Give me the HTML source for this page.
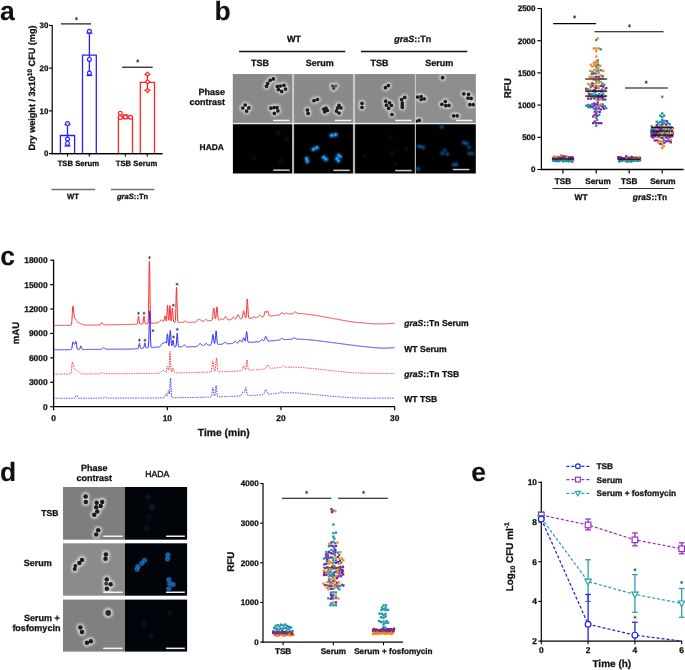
<!DOCTYPE html>
<html><head><meta charset="utf-8"><title>Figure</title>
<style>html,body{margin:0;padding:0;background:#fff;width:685px;height:670px;overflow:hidden}svg{display:block}text{font-family:"Liberation Sans",sans-serif;font-weight:bold;text-rendering:geometricPrecision;stroke:#111;stroke-width:0.28px}svg{will-change:transform}</style>
</head><body>
<svg width="685" height="670" viewBox="0 0 685 670">
<defs>
<filter id="halo" x="-50%" y="-50%" width="200%" height="200%"><feGaussianBlur stdDeviation="1.1"/></filter>
<filter id="soft" x="-50%" y="-50%" width="200%" height="200%"><feGaussianBlur stdDeviation="0.35"/></filter>
<filter id="soft2" x="-50%" y="-50%" width="200%" height="200%"><feGaussianBlur stdDeviation="0.62"/></filter>
<radialGradient id="ring"><stop offset="0" stop-color="#10609e" stop-opacity="0.75"/><stop offset="0.45" stop-color="#1b82d6" stop-opacity="0.85"/><stop offset="0.75" stop-color="#1670c0" stop-opacity="0.4"/><stop offset="1" stop-color="#0a3060" stop-opacity="0"/></radialGradient>
<filter id="glow" x="-50%" y="-50%" width="200%" height="200%"><feGaussianBlur stdDeviation="0.8"/></filter>
</defs>
<rect width="685" height="670" fill="#fff"/>
<text x="0.0" y="20.3" font-size="26.5" text-anchor="start" fill="#111" style="stroke-width:0.1px">a</text>
<text x="214.4" y="20.3" font-size="26.5" text-anchor="start" fill="#111" style="stroke-width:0.1px">b</text>
<text x="0.3" y="265.0" font-size="26.5" text-anchor="start" fill="#111" style="stroke-width:0.1px">c</text>
<text x="0.0" y="481.0" font-size="26.5" text-anchor="start" fill="#111" style="stroke-width:0.1px">d</text>
<text x="471.2" y="481.2" font-size="26.5" text-anchor="start" fill="#111" style="stroke-width:0.1px">e</text>
<line x1="52.20" y1="25.00" x2="52.20" y2="154.20" stroke="#000" stroke-width="1.2" />
<line x1="51.60" y1="153.60" x2="162.40" y2="153.60" stroke="#000" stroke-width="1.2" />
<line x1="49.00" y1="153.60" x2="52.20" y2="153.60" stroke="#000" stroke-width="1.1" />
<text x="48.4" y="156.4" font-size="7.9" text-anchor="end" fill="#111" >0</text>
<line x1="49.00" y1="110.87" x2="52.20" y2="110.87" stroke="#000" stroke-width="1.1" />
<text x="48.4" y="113.7" font-size="7.9" text-anchor="end" fill="#111" >10</text>
<line x1="49.00" y1="68.13" x2="52.20" y2="68.13" stroke="#000" stroke-width="1.1" />
<text x="48.4" y="70.9" font-size="7.9" text-anchor="end" fill="#111" >20</text>
<line x1="49.00" y1="25.40" x2="52.20" y2="25.40" stroke="#000" stroke-width="1.1" />
<text x="48.4" y="28.2" font-size="7.9" text-anchor="end" fill="#111" >30</text>
<line x1="67.50" y1="153.60" x2="67.50" y2="156.60" stroke="#000" stroke-width="1.1" />
<line x1="89.30" y1="153.60" x2="89.30" y2="156.60" stroke="#000" stroke-width="1.1" />
<line x1="125.40" y1="153.60" x2="125.40" y2="156.60" stroke="#000" stroke-width="1.1" />
<line x1="147.20" y1="153.60" x2="147.20" y2="156.60" stroke="#000" stroke-width="1.1" />
<path d="M60.40 153.6V135.50H74.60V153.6" fill="none" stroke="#2222ff" stroke-width="1.3"/>
<path d="M82.50 153.6V55.20H96.30V153.6" fill="none" stroke="#2222ff" stroke-width="1.3"/>
<path d="M118.40 153.6V116.90H132.50V153.6" fill="none" stroke="#ff2424" stroke-width="1.3"/>
<path d="M140.30 153.6V82.40H154.50V153.6" fill="none" stroke="#ff2424" stroke-width="1.3"/>
<line x1="67.50" y1="124.60" x2="67.50" y2="146.00" stroke="#2222ff" stroke-width="1.3" />
<line x1="64.50" y1="124.60" x2="70.50" y2="124.60" stroke="#2222ff" stroke-width="1.3" />
<line x1="64.50" y1="146.00" x2="70.50" y2="146.00" stroke="#2222ff" stroke-width="1.3" />
<line x1="89.40" y1="33.10" x2="89.40" y2="75.50" stroke="#2222ff" stroke-width="1.3" />
<line x1="86.40" y1="33.10" x2="92.40" y2="33.10" stroke="#2222ff" stroke-width="1.3" />
<line x1="86.40" y1="75.50" x2="92.40" y2="75.50" stroke="#2222ff" stroke-width="1.3" />
<line x1="125.40" y1="115.00" x2="125.40" y2="118.60" stroke="#ff2424" stroke-width="1.3" />
<line x1="122.20" y1="115.00" x2="128.60" y2="115.00" stroke="#ff2424" stroke-width="1.3" />
<line x1="122.20" y1="118.60" x2="128.60" y2="118.60" stroke="#ff2424" stroke-width="1.3" />
<line x1="147.40" y1="74.50" x2="147.40" y2="90.30" stroke="#ff2424" stroke-width="1.3" />
<line x1="144.40" y1="74.50" x2="150.40" y2="74.50" stroke="#ff2424" stroke-width="1.3" />
<line x1="144.40" y1="90.30" x2="150.40" y2="90.30" stroke="#ff2424" stroke-width="1.3" />
<circle cx="67.50" cy="123.60" r="1.9" fill="#fff" stroke="#2222ff" stroke-width="1.2"/>
<circle cx="67.50" cy="139.00" r="1.9" fill="#fff" stroke="#2222ff" stroke-width="1.2"/>
<circle cx="67.50" cy="143.40" r="1.9" fill="#fff" stroke="#2222ff" stroke-width="1.2"/>
<circle cx="89.40" cy="31.30" r="1.9" fill="#fff" stroke="#2222ff" stroke-width="1.2"/>
<circle cx="89.40" cy="59.40" r="1.9" fill="#fff" stroke="#2222ff" stroke-width="1.2"/>
<circle cx="89.40" cy="73.10" r="1.9" fill="#fff" stroke="#2222ff" stroke-width="1.2"/>
<circle cx="120.30" cy="113.30" r="1.9" fill="#fff" stroke="#ff2424" stroke-width="1.2"/>
<circle cx="120.30" cy="117.60" r="1.9" fill="#fff" stroke="#ff2424" stroke-width="1.2"/>
<circle cx="130.50" cy="117.20" r="1.9" fill="#fff" stroke="#ff2424" stroke-width="1.2"/>
<circle cx="125.40" cy="117.00" r="1.9" fill="#fff" stroke="#ff2424" stroke-width="1.2"/>
<path d="M147.50 72.10L149.60 74.20L147.50 76.30L145.40 74.20Z" fill="#fff" stroke="#ff2424" stroke-width="1.2"/>
<path d="M147.50 79.70L149.60 81.80L147.50 83.90L145.40 81.80Z" fill="#fff" stroke="#ff2424" stroke-width="1.2"/>
<path d="M147.50 88.50L149.60 90.60L147.50 92.70L145.40 90.60Z" fill="#fff" stroke="#ff2424" stroke-width="1.2"/>
<line x1="51.60" y1="153.60" x2="162.40" y2="153.60" stroke="#000" stroke-width="1.2" />
<line x1="60.90" y1="23.90" x2="91.00" y2="23.90" stroke="#000" stroke-width="1.1" />
<path d="M76.40 18.70L76.40 17.24M76.40 18.70L75.14 19.43M76.40 18.70L77.66 19.43M76.40 18.70L77.60 18.01M76.40 18.70L75.20 18.01M76.40 18.70L76.40 20.08" stroke="#222" stroke-width="0.62" stroke-linecap="round" fill="none"/>
<line x1="122.10" y1="67.20" x2="152.70" y2="67.20" stroke="#000" stroke-width="1.1" />
<path d="M137.80 60.90L137.80 59.44M137.80 60.90L136.54 61.63M137.80 60.90L139.06 61.63M137.80 60.90L139.00 60.21M137.80 60.90L136.60 60.21M137.80 60.90L137.80 62.28" stroke="#222" stroke-width="0.62" stroke-linecap="round" fill="none"/>
<text x="78.4" y="165.8" font-size="7.7" text-anchor="middle" fill="#111" >TSB Serum</text>
<text x="136.5" y="165.8" font-size="7.7" text-anchor="middle" fill="#111" >TSB Serum</text>
<line x1="51.60" y1="189.50" x2="95.20" y2="189.50" stroke="#707070" stroke-width="1.6" />
<line x1="110.90" y1="189.50" x2="154.40" y2="189.50" stroke="#707070" stroke-width="1.6" />
<text x="73.0" y="199.4" font-size="7.6" text-anchor="middle" fill="#111" >WT</text>
<text x="132.6" y="199.4" font-size="7.6" text-anchor="middle" fill="#111" ><tspan font-style="italic">graS</tspan>::Tn</text>
<text transform="translate(35.0,88.0) rotate(-90)" font-size="9.1" text-anchor="middle" fill="#111">Dry weight / 3x10<tspan font-size="6.6" dy="-3.4">10</tspan><tspan dy="3.4"> CFU (mg)</tspan></text>
<text x="294.0" y="42.3" font-size="9" text-anchor="middle" fill="#111" >WT</text>
<text x="412.8" y="42.3" font-size="9" text-anchor="middle" fill="#111" ><tspan font-style="italic">graS</tspan>::Tn</text>
<line x1="239.10" y1="51.40" x2="345.20" y2="51.40" stroke="#111" stroke-width="1.5" />
<line x1="361.00" y1="51.40" x2="467.30" y2="51.40" stroke="#111" stroke-width="1.5" />
<text x="260.0" y="66.0" font-size="9" text-anchor="middle" fill="#111" >TSB</text>
<text x="319.8" y="66.0" font-size="9" text-anchor="middle" fill="#111" >Serum</text>
<text x="379.5" y="66.0" font-size="9" text-anchor="middle" fill="#111" >TSB</text>
<text x="439.3" y="66.0" font-size="9" text-anchor="middle" fill="#111" >Serum</text>
<text x="225.0" y="95.1" font-size="9" text-anchor="end" fill="#111" >Phase</text>
<text x="225.0" y="105.3" font-size="9" text-anchor="end" fill="#111" >contrast</text>
<text x="211.7" y="150.0" font-size="8.4" text-anchor="middle" fill="#111" >HADA</text>
<rect x="232.60" y="74.10" width="243.40" height="49.00" fill="#c8c8c8" />
<rect x="232.60" y="123.30" width="243.40" height="50.20" fill="#b6b6b6" />
<rect x="232.60" y="122.60" width="243.40" height="1.80" fill="#ececec" />
<rect x="233.00" y="74.10" width="59.00" height="48.70" fill="#898989"/>
<clipPath id="c75"><rect x="233.00" y="74.10" width="59.00" height="48.70"/></clipPath>
<g clip-path="url(#c75)">
<g filter="url(#halo)">
<circle cx="266.5" cy="86.2" r="3.33" fill="#e4e4e4" opacity="0.75"/>
<circle cx="267.7" cy="83.4" r="3.33" fill="#e4e4e4" opacity="0.75"/>
<circle cx="270.2" cy="80.3" r="3.33" fill="#e4e4e4" opacity="0.75"/>
<circle cx="273.3" cy="78.9" r="3.33" fill="#e4e4e4" opacity="0.75"/>
<circle cx="277.4" cy="86.4" r="3.33" fill="#e4e4e4" opacity="0.75"/>
<circle cx="280.3" cy="86.0" r="3.33" fill="#e4e4e4" opacity="0.75"/>
<circle cx="283.9" cy="85.3" r="3.33" fill="#e4e4e4" opacity="0.75"/>
<circle cx="285.5" cy="89.1" r="3.33" fill="#e4e4e4" opacity="0.75"/>
<circle cx="281.7" cy="91.4" r="3.33" fill="#e4e4e4" opacity="0.75"/>
<circle cx="278.4" cy="89.6" r="3.33" fill="#e4e4e4" opacity="0.75"/>
<circle cx="245.2" cy="105.0" r="3.33" fill="#e4e4e4" opacity="0.75"/>
<circle cx="242.8" cy="108.0" r="3.33" fill="#e4e4e4" opacity="0.75"/>
<circle cx="248.8" cy="107.9" r="3.33" fill="#e4e4e4" opacity="0.75"/>
<circle cx="246.6" cy="111.1" r="3.33" fill="#e4e4e4" opacity="0.75"/>
<circle cx="271.0" cy="108.2" r="3.33" fill="#e4e4e4" opacity="0.75"/>
<circle cx="274.1" cy="107.6" r="3.33" fill="#e4e4e4" opacity="0.75"/>
<circle cx="277.0" cy="107.6" r="3.33" fill="#e4e4e4" opacity="0.75"/>
<circle cx="277.9" cy="110.9" r="3.33" fill="#e4e4e4" opacity="0.75"/>
<circle cx="274.4" cy="113.3" r="3.33" fill="#e4e4e4" opacity="0.75"/>
</g><g filter="url(#soft)">
<circle cx="266.5" cy="86.2" r="1.85" fill="#1c1c1c"/>
<circle cx="267.7" cy="83.4" r="1.85" fill="#1c1c1c"/>
<circle cx="270.2" cy="80.3" r="1.85" fill="#1c1c1c"/>
<circle cx="273.3" cy="78.9" r="1.85" fill="#1c1c1c"/>
<circle cx="277.4" cy="86.4" r="1.85" fill="#1c1c1c"/>
<circle cx="280.3" cy="86.0" r="1.85" fill="#1c1c1c"/>
<circle cx="283.9" cy="85.3" r="1.85" fill="#1c1c1c"/>
<circle cx="285.5" cy="89.1" r="1.85" fill="#1c1c1c"/>
<circle cx="281.7" cy="91.4" r="1.85" fill="#1c1c1c"/>
<circle cx="278.4" cy="89.6" r="1.85" fill="#1c1c1c"/>
<circle cx="245.2" cy="105.0" r="1.85" fill="#1c1c1c"/>
<circle cx="242.8" cy="108.0" r="1.85" fill="#1c1c1c"/>
<circle cx="248.8" cy="107.9" r="1.85" fill="#1c1c1c"/>
<circle cx="246.6" cy="111.1" r="1.85" fill="#1c1c1c"/>
<circle cx="271.0" cy="108.2" r="1.85" fill="#1c1c1c"/>
<circle cx="274.1" cy="107.6" r="1.85" fill="#1c1c1c"/>
<circle cx="277.0" cy="107.6" r="1.85" fill="#1c1c1c"/>
<circle cx="277.9" cy="110.9" r="1.85" fill="#1c1c1c"/>
<circle cx="274.4" cy="113.3" r="1.85" fill="#1c1c1c"/>
</g></g>
<rect x="273.2" y="119.7" width="16.4" height="1.5" fill="#f4f4f4"/>
<rect x="294.10" y="74.10" width="58.80" height="48.70" fill="#8a8a8a"/>
<clipPath id="c120"><rect x="294.10" y="74.10" width="58.80" height="48.70"/></clipPath>
<g clip-path="url(#c120)">
<g filter="url(#halo)">
<circle cx="332.6" cy="86.0" r="3.15" fill="#e4e4e4" opacity="0.75"/>
<circle cx="335.8" cy="86.0" r="3.15" fill="#e4e4e4" opacity="0.75"/>
<circle cx="333.7" cy="88.6" r="3.15" fill="#e4e4e4" opacity="0.75"/>
<circle cx="314.0" cy="100.7" r="3.33" fill="#e4e4e4" opacity="0.75"/>
<circle cx="317.4" cy="99.5" r="3.33" fill="#e4e4e4" opacity="0.75"/>
<circle cx="307.4" cy="110.1" r="3.33" fill="#e4e4e4" opacity="0.75"/>
<circle cx="308.1" cy="113.3" r="3.33" fill="#e4e4e4" opacity="0.75"/>
<circle cx="323.8" cy="109.2" r="3.33" fill="#e4e4e4" opacity="0.75"/>
<circle cx="326.0" cy="108.2" r="3.33" fill="#e4e4e4" opacity="0.75"/>
<circle cx="324.7" cy="111.8" r="3.33" fill="#e4e4e4" opacity="0.75"/>
<circle cx="327.3" cy="110.4" r="3.33" fill="#e4e4e4" opacity="0.75"/>
<circle cx="339.0" cy="105.4" r="3.33" fill="#e4e4e4" opacity="0.75"/>
<circle cx="337.4" cy="108.1" r="3.33" fill="#e4e4e4" opacity="0.75"/>
<circle cx="340.9" cy="107.9" r="3.33" fill="#e4e4e4" opacity="0.75"/>
<circle cx="336.4" cy="111.1" r="3.33" fill="#e4e4e4" opacity="0.75"/>
<circle cx="339.0" cy="113.0" r="3.33" fill="#e4e4e4" opacity="0.75"/>
</g><g filter="url(#soft)">
<circle cx="332.6" cy="86.0" r="1.75" fill="#4a4a4a"/>
<circle cx="335.8" cy="86.0" r="1.75" fill="#5a5a5a"/>
<circle cx="333.7" cy="88.6" r="1.75" fill="#4a4a4a"/>
<circle cx="314.0" cy="100.7" r="1.85" fill="#1c1c1c"/>
<circle cx="317.4" cy="99.5" r="1.85" fill="#1c1c1c"/>
<circle cx="307.4" cy="110.1" r="1.85" fill="#1c1c1c"/>
<circle cx="308.1" cy="113.3" r="1.85" fill="#1c1c1c"/>
<circle cx="323.8" cy="109.2" r="1.85" fill="#1c1c1c"/>
<circle cx="326.0" cy="108.2" r="1.85" fill="#1c1c1c"/>
<circle cx="324.7" cy="111.8" r="1.85" fill="#1c1c1c"/>
<circle cx="327.3" cy="110.4" r="1.85" fill="#1c1c1c"/>
<circle cx="339.0" cy="105.4" r="1.85" fill="#1c1c1c"/>
<circle cx="337.4" cy="108.1" r="1.85" fill="#1c1c1c"/>
<circle cx="340.9" cy="107.9" r="1.85" fill="#1c1c1c"/>
<circle cx="336.4" cy="111.1" r="1.85" fill="#1c1c1c"/>
<circle cx="339.0" cy="113.0" r="1.85" fill="#1c1c1c"/>
</g></g>
<rect x="334.9" y="119.7" width="16.4" height="1.5" fill="#f4f4f4"/>
<rect x="355.10" y="74.10" width="59.70" height="48.70" fill="#898989"/>
<clipPath id="c159"><rect x="355.10" y="74.10" width="59.70" height="48.70"/></clipPath>
<g clip-path="url(#c159)">
<g filter="url(#halo)">
<circle cx="385.4" cy="87.7" r="3.33" fill="#e4e4e4" opacity="0.75"/>
<circle cx="388.3" cy="85.6" r="3.33" fill="#e4e4e4" opacity="0.75"/>
<circle cx="362.0" cy="103.3" r="3.33" fill="#e4e4e4" opacity="0.75"/>
<circle cx="362.0" cy="107.3" r="3.33" fill="#e4e4e4" opacity="0.75"/>
<circle cx="385.7" cy="101.2" r="3.33" fill="#e4e4e4" opacity="0.75"/>
<circle cx="389.5" cy="102.8" r="3.33" fill="#e4e4e4" opacity="0.75"/>
<circle cx="386.4" cy="105.2" r="3.33" fill="#e4e4e4" opacity="0.75"/>
<circle cx="391.4" cy="105.4" r="3.33" fill="#e4e4e4" opacity="0.75"/>
<circle cx="388.6" cy="108.2" r="3.33" fill="#e4e4e4" opacity="0.75"/>
<circle cx="391.9" cy="114.5" r="3.33" fill="#e4e4e4" opacity="0.75"/>
<circle cx="404.7" cy="97.4" r="3.33" fill="#e4e4e4" opacity="0.75"/>
<circle cx="401.6" cy="99.5" r="3.33" fill="#e4e4e4" opacity="0.75"/>
<circle cx="402.3" cy="102.8" r="3.33" fill="#e4e4e4" opacity="0.75"/>
<circle cx="402.3" cy="105.2" r="3.33" fill="#e4e4e4" opacity="0.75"/>
<circle cx="402.3" cy="107.3" r="3.33" fill="#e4e4e4" opacity="0.75"/>
</g><g filter="url(#soft)">
<circle cx="385.4" cy="87.7" r="1.85" fill="#1c1c1c"/>
<circle cx="388.3" cy="85.6" r="1.85" fill="#1c1c1c"/>
<circle cx="362.0" cy="103.3" r="1.85" fill="#1c1c1c"/>
<circle cx="362.0" cy="107.3" r="1.85" fill="#1c1c1c"/>
<circle cx="385.7" cy="101.2" r="1.85" fill="#1c1c1c"/>
<circle cx="389.5" cy="102.8" r="1.85" fill="#1c1c1c"/>
<circle cx="386.4" cy="105.2" r="1.85" fill="#1c1c1c"/>
<circle cx="391.4" cy="105.4" r="1.85" fill="#1c1c1c"/>
<circle cx="388.6" cy="108.2" r="1.85" fill="#1c1c1c"/>
<circle cx="391.9" cy="114.5" r="1.85" fill="#1c1c1c"/>
<circle cx="404.7" cy="97.4" r="1.85" fill="#1c1c1c"/>
<circle cx="401.6" cy="99.5" r="1.85" fill="#1c1c1c"/>
<circle cx="402.3" cy="102.8" r="1.85" fill="#1c1c1c"/>
<circle cx="402.3" cy="105.2" r="1.85" fill="#1c1c1c"/>
<circle cx="402.3" cy="107.3" r="1.85" fill="#1c1c1c"/>
</g></g>
<rect x="395.2" y="119.7" width="16.6" height="1.5" fill="#f4f4f4"/>
<rect x="416.00" y="74.10" width="59.70" height="48.70" fill="#8d8d8d"/>
<clipPath id="c196"><rect x="416.00" y="74.10" width="59.70" height="48.70"/></clipPath>
<g clip-path="url(#c196)">
<g filter="url(#halo)">
<circle cx="442.6" cy="77.7" r="3.33" fill="#e4e4e4" opacity="0.75"/>
<circle cx="417.6" cy="97.1" r="3.33" fill="#e4e4e4" opacity="0.75"/>
<circle cx="421.1" cy="96.5" r="3.33" fill="#e4e4e4" opacity="0.75"/>
<circle cx="421.1" cy="99.5" r="3.33" fill="#e4e4e4" opacity="0.75"/>
<circle cx="424.2" cy="98.8" r="3.33" fill="#e4e4e4" opacity="0.75"/>
<circle cx="445.3" cy="101.6" r="3.33" fill="#e4e4e4" opacity="0.75"/>
<circle cx="441.9" cy="104.3" r="3.33" fill="#e4e4e4" opacity="0.75"/>
<circle cx="445.7" cy="105.7" r="3.33" fill="#e4e4e4" opacity="0.75"/>
<circle cx="448.9" cy="105.4" r="3.33" fill="#e4e4e4" opacity="0.75"/>
<circle cx="463.8" cy="93.8" r="3.33" fill="#e4e4e4" opacity="0.75"/>
<circle cx="468.5" cy="94.3" r="3.33" fill="#e4e4e4" opacity="0.75"/>
<circle cx="468.0" cy="98.1" r="3.33" fill="#e4e4e4" opacity="0.75"/>
<circle cx="471.1" cy="98.4" r="3.33" fill="#e4e4e4" opacity="0.75"/>
<circle cx="469.9" cy="104.7" r="3.33" fill="#e4e4e4" opacity="0.75"/>
<circle cx="473.2" cy="104.7" r="3.33" fill="#e4e4e4" opacity="0.75"/>
<circle cx="453.6" cy="115.8" r="3.33" fill="#e4e4e4" opacity="0.75"/>
<circle cx="457.1" cy="115.8" r="3.33" fill="#e4e4e4" opacity="0.75"/>
<circle cx="419.2" cy="120.4" r="3.33" fill="#e4e4e4" opacity="0.75"/>
<circle cx="416.6" cy="121.3" r="3.33" fill="#e4e4e4" opacity="0.75"/>
</g><g filter="url(#soft)">
<circle cx="442.6" cy="77.7" r="1.85" fill="#1c1c1c"/>
<circle cx="417.6" cy="97.1" r="1.85" fill="#1c1c1c"/>
<circle cx="421.1" cy="96.5" r="1.85" fill="#1c1c1c"/>
<circle cx="421.1" cy="99.5" r="1.85" fill="#1c1c1c"/>
<circle cx="424.2" cy="98.8" r="1.85" fill="#1c1c1c"/>
<circle cx="445.3" cy="101.6" r="1.85" fill="#1c1c1c"/>
<circle cx="441.9" cy="104.3" r="1.85" fill="#1c1c1c"/>
<circle cx="445.7" cy="105.7" r="1.85" fill="#1c1c1c"/>
<circle cx="448.9" cy="105.4" r="1.85" fill="#1c1c1c"/>
<circle cx="463.8" cy="93.8" r="1.85" fill="#1c1c1c"/>
<circle cx="468.5" cy="94.3" r="1.85" fill="#1c1c1c"/>
<circle cx="468.0" cy="98.1" r="1.85" fill="#1c1c1c"/>
<circle cx="471.1" cy="98.4" r="1.85" fill="#1c1c1c"/>
<circle cx="469.9" cy="104.7" r="1.85" fill="#1c1c1c"/>
<circle cx="473.2" cy="104.7" r="1.85" fill="#1c1c1c"/>
<circle cx="453.6" cy="115.8" r="1.85" fill="#1c1c1c"/>
<circle cx="457.1" cy="115.8" r="1.85" fill="#1c1c1c"/>
<circle cx="419.2" cy="120.4" r="1.85" fill="#1c1c1c"/>
<circle cx="416.6" cy="121.3" r="1.85" fill="#1c1c1c"/>
</g></g>
<rect x="456.2" y="119.7" width="16.4" height="1.5" fill="#f4f4f4"/>
<rect x="233.00" y="124.30" width="59.00" height="49.10" fill="#000"/>
<g filter="url(#glow)" opacity="1.0">
<circle cx="278.0" cy="133.0" r="3.00" fill="#040b12"/>
<circle cx="287.0" cy="139.0" r="3.00" fill="#040b12"/>
<circle cx="254.0" cy="158.0" r="3.00" fill="#040b12"/>
<circle cx="281.0" cy="161.0" r="3.00" fill="#040b12"/>
</g>
<rect x="273.2" y="169.4" width="16.4" height="1.5" fill="#d0d0d0"/>
<rect x="294.10" y="124.30" width="58.80" height="49.10" fill="#000"/>
<g filter="url(#glow)" opacity="1.0">
<circle cx="331.6" cy="135.4" r="2.10" fill="#2298ff"/>
<circle cx="335.6" cy="134.7" r="2.10" fill="#2298ff"/>
<circle cx="313.4" cy="149.3" r="2.10" fill="#2298ff"/>
<circle cx="317.0" cy="147.6" r="2.10" fill="#2298ff"/>
<circle cx="306.6" cy="158.6" r="2.00" fill="#2298ff"/>
<circle cx="307.3" cy="161.6" r="2.00" fill="#2298ff"/>
<circle cx="323.7" cy="157.4" r="2.10" fill="#2298ff"/>
<circle cx="326.1" cy="159.3" r="2.10" fill="#2298ff"/>
<circle cx="338.6" cy="155.1" r="1.90" fill="#2298ff"/>
<circle cx="336.7" cy="158.6" r="1.90" fill="#2298ff"/>
<circle cx="338.5" cy="160.8" r="1.90" fill="#2298ff"/>
<circle cx="340.6" cy="156.6" r="1.70" fill="#2298ff"/>
</g>
<circle cx="331.6" cy="135.4" r="1.16" fill="#40b0ff" opacity="0.8"/>
<circle cx="335.6" cy="134.7" r="1.16" fill="#40b0ff" opacity="0.8"/>
<circle cx="313.4" cy="149.3" r="1.16" fill="#40b0ff" opacity="0.8"/>
<circle cx="317.0" cy="147.6" r="1.16" fill="#40b0ff" opacity="0.8"/>
<circle cx="306.6" cy="158.6" r="1.10" fill="#40b0ff" opacity="0.8"/>
<circle cx="307.3" cy="161.6" r="1.10" fill="#40b0ff" opacity="0.8"/>
<circle cx="323.7" cy="157.4" r="1.16" fill="#40b0ff" opacity="0.8"/>
<circle cx="326.1" cy="159.3" r="1.16" fill="#40b0ff" opacity="0.8"/>
<circle cx="338.6" cy="155.1" r="1.04" fill="#40b0ff" opacity="0.8"/>
<circle cx="336.7" cy="158.6" r="1.04" fill="#40b0ff" opacity="0.8"/>
<circle cx="338.5" cy="160.8" r="1.04" fill="#40b0ff" opacity="0.8"/>
<circle cx="340.6" cy="156.6" r="0.94" fill="#40b0ff" opacity="0.8"/>
<rect x="333.4" y="169.6" width="16.4" height="1.5" fill="#d0d0d0"/>
<rect x="355.10" y="124.30" width="59.70" height="49.10" fill="#000"/>
<g filter="url(#glow)" opacity="1.0">
<circle cx="391.0" cy="137.0" r="2.50" fill="#040b12"/>
<circle cx="392.0" cy="153.0" r="2.80" fill="#040b12"/>
<circle cx="406.0" cy="149.0" r="2.80" fill="#040b12"/>
<circle cx="365.0" cy="156.0" r="2.20" fill="#040b12"/>
<circle cx="395.0" cy="164.0" r="2.00" fill="#040b12"/>
</g>
<rect x="395.2" y="169.8" width="16.6" height="1.5" fill="#d0d0d0"/>
<rect x="416.00" y="124.30" width="59.70" height="49.10" fill="#000"/>
<g filter="url(#glow)" opacity="1.0">
<circle cx="441.9" cy="126.8" r="1.90" fill="#1262a8"/>
<circle cx="418.6" cy="146.2" r="1.80" fill="#1262a8"/>
<circle cx="421.0" cy="146.6" r="1.60" fill="#1262a8"/>
<circle cx="423.4" cy="147.6" r="1.80" fill="#1262a8"/>
<circle cx="444.8" cy="150.0" r="1.60" fill="#1262a8"/>
<circle cx="442.2" cy="153.4" r="1.80" fill="#1262a8"/>
<circle cx="447.4" cy="154.0" r="1.80" fill="#1262a8"/>
<circle cx="463.6" cy="142.6" r="1.80" fill="#1262a8"/>
<circle cx="466.6" cy="143.4" r="1.80" fill="#1262a8"/>
<circle cx="469.0" cy="147.2" r="1.70" fill="#1262a8"/>
<circle cx="469.2" cy="153.4" r="1.70" fill="#1262a8"/>
<circle cx="472.4" cy="153.4" r="1.70" fill="#1262a8"/>
<circle cx="453.4" cy="164.8" r="1.80" fill="#1262a8"/>
<circle cx="456.4" cy="164.4" r="1.80" fill="#1262a8"/>
<circle cx="418.2" cy="168.9" r="2.00" fill="#1262a8"/>
</g>
<rect x="452.8" y="168.8" width="16.7" height="1.5" fill="#d0d0d0"/>
<text x="94.3" y="471.4" font-size="9" text-anchor="middle" fill="#111" >Phase</text>
<text x="94.3" y="481.3" font-size="9" text-anchor="middle" fill="#111" >contrast</text>
<text x="157.2" y="476.5" font-size="8.7" text-anchor="middle" fill="#111" font-weight="normal" style="font-weight:normal;stroke-width:0.4px">HADA</text>
<text x="58.5" y="516.0" font-size="8.6" text-anchor="end" fill="#111" >TSB</text>
<text x="51.7" y="566.2" font-size="9" text-anchor="end" fill="#111" >Serum</text>
<text x="59.9" y="620.7" font-size="9" text-anchor="end" fill="#111" >Serum +</text>
<text x="60.4" y="630.7" font-size="9" text-anchor="end" fill="#111" >fosfomycin</text>
<rect x="63.00" y="487.00" width="62.10" height="52.70" fill="#7e7e7e"/>
<clipPath id="c312"><rect x="63.00" y="487.00" width="62.10" height="52.70"/></clipPath>
<g clip-path="url(#c312)">
<g filter="url(#halo)">
<circle cx="85.6" cy="496.4" r="4.05" fill="#e4e4e4" opacity="0.75"/>
<circle cx="85.8" cy="501.9" r="4.05" fill="#e4e4e4" opacity="0.75"/>
<circle cx="96.7" cy="502.7" r="4.05" fill="#e4e4e4" opacity="0.75"/>
<circle cx="102.2" cy="501.9" r="4.05" fill="#e4e4e4" opacity="0.75"/>
<circle cx="100.7" cy="506.0" r="4.05" fill="#e4e4e4" opacity="0.75"/>
<circle cx="96.2" cy="507.3" r="4.05" fill="#e4e4e4" opacity="0.75"/>
<circle cx="97.2" cy="511.6" r="4.05" fill="#e4e4e4" opacity="0.75"/>
<circle cx="94.3" cy="514.8" r="4.05" fill="#e4e4e4" opacity="0.75"/>
<circle cx="98.2" cy="530.2" r="4.05" fill="#e4e4e4" opacity="0.75"/>
<circle cx="96.2" cy="534.6" r="4.05" fill="#e4e4e4" opacity="0.75"/>
</g><g filter="url(#soft)">
<circle cx="85.6" cy="496.4" r="2.25" fill="#1c1c1c"/>
<circle cx="85.8" cy="501.9" r="2.25" fill="#1c1c1c"/>
<circle cx="96.7" cy="502.7" r="2.25" fill="#1c1c1c"/>
<circle cx="102.2" cy="501.9" r="2.25" fill="#1c1c1c"/>
<circle cx="100.7" cy="506.0" r="2.25" fill="#1c1c1c"/>
<circle cx="96.2" cy="507.3" r="2.25" fill="#1c1c1c"/>
<circle cx="97.2" cy="511.6" r="2.25" fill="#1c1c1c"/>
<circle cx="94.3" cy="514.8" r="2.25" fill="#1c1c1c"/>
<circle cx="98.2" cy="530.2" r="2.25" fill="#1c1c1c"/>
<circle cx="96.2" cy="534.6" r="2.25" fill="#1c1c1c"/>
</g></g>
<rect x="103.2" y="535.5" width="19.4" height="1.5" fill="#f4f4f4"/>
<rect x="63.00" y="543.30" width="62.10" height="52.40" fill="#8b8b8b"/>
<clipPath id="c339"><rect x="63.00" y="543.30" width="62.10" height="52.40"/></clipPath>
<g clip-path="url(#c339)">
<g filter="url(#halo)">
<circle cx="82.0" cy="559.9" r="4.05" fill="#e4e4e4" opacity="0.75"/>
<circle cx="79.4" cy="563.0" r="4.05" fill="#e4e4e4" opacity="0.75"/>
<circle cx="75.4" cy="566.0" r="3.60" fill="#e4e4e4" opacity="0.75"/>
<circle cx="74.7" cy="569.0" r="3.60" fill="#e4e4e4" opacity="0.75"/>
<circle cx="105.9" cy="554.4" r="4.05" fill="#e4e4e4" opacity="0.75"/>
<circle cx="105.5" cy="558.7" r="4.05" fill="#e4e4e4" opacity="0.75"/>
<circle cx="106.7" cy="579.5" r="4.05" fill="#e4e4e4" opacity="0.75"/>
<circle cx="106.2" cy="583.7" r="3.60" fill="#e4e4e4" opacity="0.75"/>
<circle cx="110.6" cy="584.2" r="4.05" fill="#e4e4e4" opacity="0.75"/>
<circle cx="106.9" cy="588.7" r="4.05" fill="#e4e4e4" opacity="0.75"/>
</g><g filter="url(#soft)">
<circle cx="82.0" cy="559.9" r="2.25" fill="#1c1c1c"/>
<circle cx="79.4" cy="563.0" r="2.25" fill="#1c1c1c"/>
<circle cx="75.4" cy="566.0" r="2.00" fill="#1c1c1c"/>
<circle cx="74.7" cy="569.0" r="2.00" fill="#1c1c1c"/>
<circle cx="105.9" cy="554.4" r="2.25" fill="#1c1c1c"/>
<circle cx="105.5" cy="558.7" r="2.25" fill="#1c1c1c"/>
<circle cx="106.7" cy="579.5" r="2.25" fill="#1c1c1c"/>
<circle cx="106.2" cy="583.7" r="2.00" fill="#3a3a3a"/>
<circle cx="110.6" cy="584.2" r="2.25" fill="#1c1c1c"/>
<circle cx="106.9" cy="588.7" r="2.25" fill="#1c1c1c"/>
</g></g>
<rect x="103.2" y="591.5" width="19.4" height="1.5" fill="#f4f4f4"/>
<rect x="63.00" y="599.60" width="62.10" height="52.00" fill="#808080"/>
<clipPath id="c366"><rect x="63.00" y="599.60" width="62.10" height="52.00"/></clipPath>
<g clip-path="url(#c366)">
<g filter="url(#halo)">
<circle cx="108.2" cy="612.9" r="5.04" fill="#e4e4e4" opacity="0.75"/>
<circle cx="80.4" cy="627.6" r="4.05" fill="#e4e4e4" opacity="0.75"/>
<circle cx="82.0" cy="632.0" r="4.05" fill="#e4e4e4" opacity="0.75"/>
<circle cx="90.8" cy="641.2" r="4.05" fill="#e4e4e4" opacity="0.75"/>
<circle cx="87.0" cy="642.7" r="4.05" fill="#e4e4e4" opacity="0.75"/>
</g><g filter="url(#soft)">
<circle cx="108.2" cy="612.9" r="2.80" fill="#2a2a2a"/>
<circle cx="80.4" cy="627.6" r="2.25" fill="#1c1c1c"/>
<circle cx="82.0" cy="632.0" r="2.25" fill="#1c1c1c"/>
<circle cx="90.8" cy="641.2" r="2.25" fill="#1c1c1c"/>
<circle cx="87.0" cy="642.7" r="2.25" fill="#1c1c1c"/>
</g></g>
<rect x="103.2" y="647.6" width="19.4" height="1.5" fill="#f4f4f4"/>
<rect x="125.00" y="487.00" width="62.10" height="52.70" fill="#01050a"/>
<g filter="url(#glow)" opacity="1.0">
<circle cx="148.0" cy="497.0" r="2.50" fill="#071c30"/>
<circle cx="152.0" cy="507.0" r="3.00" fill="#071a2c"/>
<circle cx="149.0" cy="517.0" r="2.50" fill="#061626"/>
<circle cx="147.0" cy="528.0" r="2.50" fill="#061626"/>
</g>
<rect x="166.0" y="535.5" width="18.8" height="1.5" fill="#f0f0f0"/>
<rect x="125.00" y="543.30" width="62.10" height="52.40" fill="#01050a"/>
<rect x="166.0" y="591.5" width="18.8" height="1.5" fill="#f0f0f0"/>
<circle cx="144.6" cy="560.4" r="3.5" fill="url(#ring)"/>
<circle cx="141.9" cy="563.3" r="3.5" fill="url(#ring)"/>
<circle cx="137.9" cy="566.6" r="3.5" fill="url(#ring)"/>
<circle cx="137.1" cy="569.3" r="3.5" fill="url(#ring)"/>
<circle cx="167.9" cy="554.9" r="3.5" fill="url(#ring)"/>
<circle cx="167.5" cy="558.9" r="3.5" fill="url(#ring)"/>
<circle cx="168.9" cy="579.7" r="3.5" fill="url(#ring)"/>
<circle cx="169.7" cy="583.7" r="3.5" fill="url(#ring)"/>
<circle cx="173.1" cy="584.5" r="3.5" fill="url(#ring)"/>
<circle cx="168.9" cy="588.7" r="3.5" fill="url(#ring)"/>
<rect x="125.00" y="599.60" width="62.10" height="52.00" fill="#01050a"/>
<g filter="url(#glow)" opacity="1.0">
<circle cx="144.0" cy="624.0" r="2.80" fill="#051526"/>
<circle cx="151.0" cy="636.0" r="2.80" fill="#051526"/>
<circle cx="170.0" cy="613.0" r="2.50" fill="#051526"/>
</g>
<rect x="166.0" y="647.6" width="18.8" height="1.5" fill="#f0f0f0"/>
<line x1="541.40" y1="8.00" x2="541.40" y2="170.10" stroke="#000" stroke-width="1.2" />
<line x1="540.80" y1="169.50" x2="683.70" y2="169.50" stroke="#000" stroke-width="1.3" />
<line x1="537.30" y1="169.50" x2="541.40" y2="169.50" stroke="#000" stroke-width="1.1" />
<text x="535.5" y="172.3" font-size="8" text-anchor="end" fill="#111" >0</text>
<line x1="537.30" y1="137.30" x2="541.40" y2="137.30" stroke="#000" stroke-width="1.1" />
<text x="535.5" y="140.1" font-size="8" text-anchor="end" fill="#111" >500</text>
<line x1="537.30" y1="105.10" x2="541.40" y2="105.10" stroke="#000" stroke-width="1.1" />
<text x="535.5" y="107.9" font-size="8" text-anchor="end" fill="#111" >1000</text>
<line x1="537.30" y1="72.90" x2="541.40" y2="72.90" stroke="#000" stroke-width="1.1" />
<text x="535.5" y="75.7" font-size="8" text-anchor="end" fill="#111" >1500</text>
<line x1="537.30" y1="40.70" x2="541.40" y2="40.70" stroke="#000" stroke-width="1.1" />
<text x="535.5" y="43.5" font-size="8" text-anchor="end" fill="#111" >2000</text>
<line x1="537.30" y1="8.50" x2="541.40" y2="8.50" stroke="#000" stroke-width="1.1" />
<text x="535.5" y="11.3" font-size="8" text-anchor="end" fill="#111" >2500</text>
<line x1="562.90" y1="169.50" x2="562.90" y2="173.60" stroke="#000" stroke-width="1.2" />
<line x1="596.20" y1="169.50" x2="596.20" y2="173.60" stroke="#000" stroke-width="1.2" />
<line x1="629.20" y1="169.50" x2="629.20" y2="173.60" stroke="#000" stroke-width="1.2" />
<line x1="662.20" y1="169.50" x2="662.20" y2="173.60" stroke="#000" stroke-width="1.2" />
<text x="562.9" y="183.7" font-size="8.2" text-anchor="middle" fill="#111" >TSB</text>
<text x="598.0" y="183.7" font-size="8.2" text-anchor="middle" fill="#111" >Serum</text>
<text x="629.2" y="183.7" font-size="8.2" text-anchor="middle" fill="#111" >TSB</text>
<text x="662.9" y="183.7" font-size="8.2" text-anchor="middle" fill="#111" >Serum</text>
<line x1="552.50" y1="188.50" x2="608.40" y2="188.50" stroke="#333" stroke-width="1.2" />
<line x1="618.60" y1="188.50" x2="674.10" y2="188.50" stroke="#333" stroke-width="1.2" />
<text x="581.0" y="199.6" font-size="8.4" text-anchor="middle" fill="#111" >WT</text>
<text x="650.0" y="199.6" font-size="8.4" text-anchor="middle" fill="#111" ><tspan font-style="italic">graS</tspan>::Tn</text>
<text transform="translate(510.9,88.3) rotate(-90)" font-size="9.8" text-anchor="middle" fill="#111">RFU</text>
<line x1="553.20" y1="23.60" x2="596.10" y2="23.60" stroke="#000" stroke-width="1.1" />
<path d="M574.60 16.90L574.60 15.44M574.60 16.90L573.34 17.63M574.60 16.90L575.86 17.63M574.60 16.90L575.80 16.21M574.60 16.90L573.40 16.21M574.60 16.90L574.60 18.28" stroke="#222" stroke-width="0.62" stroke-linecap="round" fill="none"/>
<line x1="594.50" y1="31.80" x2="663.50" y2="31.80" stroke="#000" stroke-width="1.1" />
<path d="M629.50 25.80L629.50 24.34M629.50 25.80L628.24 26.53M629.50 25.80L630.76 26.53M629.50 25.80L630.70 25.11M629.50 25.80L628.30 25.11M629.50 25.80L629.50 27.18" stroke="#222" stroke-width="0.62" stroke-linecap="round" fill="none"/>
<line x1="625.00" y1="88.00" x2="667.70" y2="88.00" stroke="#000" stroke-width="1.1" />
<path d="M646.20 82.20L646.20 80.74M646.20 82.20L644.94 82.93M646.20 82.20L647.46 82.93M646.20 82.20L647.40 81.51M646.20 82.20L645.00 81.51M646.20 82.20L646.20 83.58" stroke="#222" stroke-width="0.62" stroke-linecap="round" fill="none"/>
<rect x="561.8" y="157.9" width="2.3" height="2.3" fill="#7a1ea3"/>
<rect x="563.8" y="157.0" width="2.3" height="2.3" fill="#f7861f"/>
<rect x="559.8" y="157.0" width="2.3" height="2.3" fill="#7a1ea3"/>
<rect x="566.2" y="156.9" width="2.3" height="2.3" fill="#f7861f"/>
<rect x="557.2" y="157.5" width="2.3" height="2.3" fill="#7a1ea3"/>
<rect x="568.8" y="156.9" width="2.3" height="2.3" fill="#7a1ea3"/>
<rect x="555.2" y="156.5" width="2.3" height="2.3" fill="#7a1ea3"/>
<rect x="553.2" y="157.7" width="2.3" height="2.3" fill="#7a1ea3"/>
<rect x="570.8" y="158.3" width="2.3" height="2.3" fill="#1a92a6"/>
<rect x="570.8" y="156.2" width="2.3" height="2.3" fill="#7a1ea3"/>
<rect x="566.9" y="157.9" width="2.3" height="2.3" fill="#1a92a6"/>
<rect x="561.8" y="155.2" width="2.3" height="2.3" fill="#7a1ea3"/>
<rect x="552.1" y="157.1" width="2.3" height="2.3" fill="#f7861f"/>
<rect x="552.7" y="158.5" width="2.3" height="2.3" fill="#1a92a6"/>
<rect x="564.8" y="159.0" width="2.3" height="2.3" fill="#1a92a6"/>
<rect x="559.7" y="158.0" width="2.3" height="2.3" fill="#1a92a6"/>
<rect x="564.8" y="155.0" width="2.3" height="2.3" fill="#f7861f"/>
<rect x="556.4" y="157.5" width="2.3" height="2.3" fill="#7a1ea3"/>
<rect x="569.0" y="156.6" width="2.3" height="2.3" fill="#f7861f"/>
<rect x="566.8" y="158.5" width="2.3" height="2.3" fill="#1a92a6"/>
<rect x="562.7" y="157.8" width="2.3" height="2.3" fill="#7a1ea3"/>
<rect x="565.1" y="157.6" width="2.3" height="2.3" fill="#7a1ea3"/>
<rect x="565.8" y="157.4" width="2.3" height="2.3" fill="#7a1ea3"/>
<rect x="561.8" y="160.2" width="2.3" height="2.3" fill="#1a92a6"/>
<rect x="567.7" y="156.5" width="2.3" height="2.3" fill="#f7861f"/>
<rect x="555.2" y="159.3" width="2.3" height="2.3" fill="#7a1ea3"/>
<rect x="570.7" y="158.6" width="2.3" height="2.3" fill="#1a92a6"/>
<rect x="554.4" y="157.9" width="2.3" height="2.3" fill="#f7861f"/>
<rect x="564.4" y="156.4" width="2.3" height="2.3" fill="#f7861f"/>
<rect x="554.3" y="158.0" width="2.3" height="2.3" fill="#1a92a6"/>
<rect x="560.6" y="156.3" width="2.3" height="2.3" fill="#f7861f"/>
<rect x="567.8" y="156.3" width="2.3" height="2.3" fill="#7a1ea3"/>
<rect x="570.0" y="156.8" width="2.3" height="2.3" fill="#7a1ea3"/>
<rect x="567.2" y="157.7" width="2.3" height="2.3" fill="#f7861f"/>
<rect x="552.0" y="157.9" width="2.3" height="2.3" fill="#1a92a6"/>
<rect x="558.8" y="157.9" width="2.3" height="2.3" fill="#1a92a6"/>
<rect x="554.7" y="157.0" width="2.3" height="2.3" fill="#7a1ea3"/>
<rect x="572.2" y="158.8" width="2.3" height="2.3" fill="#f7861f"/>
<rect x="554.3" y="158.5" width="2.3" height="2.3" fill="#1a92a6"/>
<rect x="556.4" y="158.6" width="2.3" height="2.3" fill="#7a1ea3"/>
<rect x="558.2" y="159.9" width="2.3" height="2.3" fill="#f7861f"/>
<rect x="568.8" y="159.4" width="2.3" height="2.3" fill="#1a92a6"/>
<rect x="558.8" y="158.8" width="2.3" height="2.3" fill="#1a92a6"/>
<rect x="552.5" y="158.8" width="2.3" height="2.3" fill="#f7861f"/>
<rect x="569.5" y="159.1" width="2.3" height="2.3" fill="#1a92a6"/>
<rect x="564.6" y="157.3" width="2.3" height="2.3" fill="#7a1ea3"/>
<rect x="554.6" y="159.8" width="2.3" height="2.3" fill="#1a92a6"/>
<rect x="561.7" y="158.1" width="2.3" height="2.3" fill="#7a1ea3"/>
<rect x="552.9" y="158.3" width="2.3" height="2.3" fill="#7a1ea3"/>
<rect x="564.1" y="156.6" width="2.3" height="2.3" fill="#7a1ea3"/>
<rect x="556.1" y="160.0" width="2.3" height="2.3" fill="#1a92a6"/>
<rect x="552.1" y="158.9" width="2.3" height="2.3" fill="#1a92a6"/>
<rect x="553.7" y="157.2" width="2.3" height="2.3" fill="#7a1ea3"/>
<rect x="562.9" y="156.5" width="2.3" height="2.3" fill="#7a1ea3"/>
<rect x="564.6" y="157.6" width="2.3" height="2.3" fill="#1a92a6"/>
<rect x="558.1" y="159.6" width="2.3" height="2.3" fill="#1a92a6"/>
<rect x="564.8" y="160.0" width="2.3" height="2.3" fill="#1a92a6"/>
<rect x="558.6" y="156.3" width="2.3" height="2.3" fill="#7a1ea3"/>
<rect x="554.0" y="156.5" width="2.3" height="2.3" fill="#7a1ea3"/>
<rect x="557.9" y="156.9" width="2.3" height="2.3" fill="#7a1ea3"/>
<rect x="559.6" y="158.1" width="2.3" height="2.3" fill="#f7861f"/>
<rect x="570.4" y="156.6" width="2.3" height="2.3" fill="#7a1ea3"/>
<rect x="553.7" y="156.1" width="2.3" height="2.3" fill="#f7861f"/>
<rect x="553.1" y="157.2" width="2.3" height="2.3" fill="#f7861f"/>
<rect x="563.0" y="158.7" width="2.3" height="2.3" fill="#1a92a6"/>
<rect x="571.5" y="156.9" width="2.3" height="2.3" fill="#7a1ea3"/>
<rect x="570.3" y="156.7" width="2.3" height="2.3" fill="#7a1ea3"/>
<rect x="566.0" y="157.2" width="2.3" height="2.3" fill="#7a1ea3"/>
<rect x="552.7" y="155.3" width="2.3" height="2.3" fill="#f7861f"/>
<rect x="568.2" y="159.1" width="2.3" height="2.3" fill="#1a92a6"/>
<rect x="565.6" y="157.3" width="2.3" height="2.3" fill="#f7861f"/>
<rect x="554.3" y="157.2" width="2.3" height="2.3" fill="#f7861f"/>
<rect x="561.0" y="157.9" width="2.3" height="2.3" fill="#1a92a6"/>
<rect x="552.3" y="157.3" width="2.3" height="2.3" fill="#7a1ea3"/>
<rect x="568.1" y="160.2" width="2.3" height="2.3" fill="#1a92a6"/>
<rect x="566.3" y="157.5" width="2.3" height="2.3" fill="#7a1ea3"/>
<rect x="568.1" y="157.0" width="2.3" height="2.3" fill="#7a1ea3"/>
<rect x="567.2" y="158.0" width="2.3" height="2.3" fill="#1a92a6"/>
<rect x="556.9" y="158.7" width="2.3" height="2.3" fill="#1a92a6"/>
<rect x="567.8" y="158.4" width="2.3" height="2.3" fill="#1a92a6"/>
<rect x="556.5" y="155.7" width="2.3" height="2.3" fill="#f7861f"/>
<rect x="554.1" y="158.3" width="2.3" height="2.3" fill="#f7861f"/>
<rect x="559.4" y="158.0" width="2.3" height="2.3" fill="#1a92a6"/>
<rect x="561.7" y="156.1" width="2.3" height="2.3" fill="#f7861f"/>
<rect x="557.3" y="156.8" width="2.3" height="2.3" fill="#7a1ea3"/>
<rect x="564.0" y="159.4" width="2.3" height="2.3" fill="#1a92a6"/>
<rect x="563.9" y="155.9" width="2.3" height="2.3" fill="#7a1ea3"/>
<rect x="556.3" y="158.5" width="2.3" height="2.3" fill="#f7861f"/>
<rect x="564.3" y="158.4" width="2.3" height="2.3" fill="#1a92a6"/>
<rect x="558.8" y="157.8" width="2.3" height="2.3" fill="#f7861f"/>
<rect x="566.7" y="157.7" width="2.3" height="2.3" fill="#7a1ea3"/>
<rect x="557.3" y="158.2" width="2.3" height="2.3" fill="#f7861f"/>
<rect x="568.0" y="157.5" width="2.3" height="2.3" fill="#7a1ea3"/>
<rect x="560.0" y="157.1" width="2.3" height="2.3" fill="#7a1ea3"/>
<rect x="562.9" y="156.8" width="2.3" height="2.3" fill="#7a1ea3"/>
<rect x="565.4" y="157.9" width="2.3" height="2.3" fill="#f7861f"/>
<rect x="562.1" y="155.2" width="2.3" height="2.3" fill="#7a1ea3"/>
<rect x="556.7" y="158.8" width="2.3" height="2.3" fill="#7a1ea3"/>
<rect x="571.8" y="156.8" width="2.3" height="2.3" fill="#7a1ea3"/>
<rect x="553.3" y="159.7" width="2.3" height="2.3" fill="#1a92a6"/>
<rect x="558.1" y="158.5" width="2.3" height="2.3" fill="#1a92a6"/>
<rect x="562.8" y="158.5" width="2.3" height="2.3" fill="#1a92a6"/>
<rect x="551.9" y="158.7" width="2.3" height="2.3" fill="#1a92a6"/>
<rect x="554.5" y="158.2" width="2.3" height="2.3" fill="#7a1ea3"/>
<rect x="568.0" y="157.3" width="2.3" height="2.3" fill="#7a1ea3"/>
<rect x="567.7" y="158.4" width="2.3" height="2.3" fill="#1a92a6"/>
<rect x="564.6" y="158.1" width="2.3" height="2.3" fill="#1a92a6"/>
<rect x="570.2" y="158.5" width="2.3" height="2.3" fill="#1a92a6"/>
<rect x="567.1" y="159.0" width="2.3" height="2.3" fill="#1a92a6"/>
<rect x="557.5" y="159.3" width="2.3" height="2.3" fill="#1a92a6"/>
<rect x="564.8" y="158.1" width="2.3" height="2.3" fill="#f7861f"/>
<rect x="558.4" y="158.8" width="2.3" height="2.3" fill="#1a92a6"/>
<rect x="567.0" y="156.3" width="2.3" height="2.3" fill="#7a1ea3"/>
<rect x="559.3" y="159.0" width="2.3" height="2.3" fill="#1a92a6"/>
<rect x="554.5" y="158.3" width="2.3" height="2.3" fill="#1a92a6"/>
<rect x="569.7" y="157.1" width="2.3" height="2.3" fill="#7a1ea3"/>
<rect x="565.7" y="159.7" width="2.3" height="2.3" fill="#1a92a6"/>
<rect x="566.9" y="159.1" width="2.3" height="2.3" fill="#1a92a6"/>
<rect x="563.0" y="156.4" width="2.3" height="2.3" fill="#f7861f"/>
<rect x="567.7" y="157.9" width="2.3" height="2.3" fill="#1a92a6"/>
<rect x="571.2" y="160.7" width="2.3" height="2.3" fill="#1a92a6"/>
<rect x="560.7" y="157.2" width="2.3" height="2.3" fill="#7a1ea3"/>
<rect x="563.1" y="156.5" width="2.3" height="2.3" fill="#7a1ea3"/>
<rect x="552.6" y="159.8" width="2.3" height="2.3" fill="#1a92a6"/>
<rect x="562.9" y="157.7" width="2.3" height="2.3" fill="#1a92a6"/>
<rect x="559.8" y="154.1" width="2.3" height="2.3" fill="#f7861f"/>
<rect x="568.4" y="157.1" width="2.3" height="2.3" fill="#7a1ea3"/>
<rect x="566.1" y="156.3" width="2.3" height="2.3" fill="#f7861f"/>
<rect x="568.1" y="157.0" width="2.3" height="2.3" fill="#7a1ea3"/>
<rect x="561.7" y="158.8" width="2.3" height="2.3" fill="#1a92a6"/>
<rect x="595.1" y="81.7" width="2.3" height="2.3" fill="#f7861f"/>
<rect x="595.1" y="96.1" width="2.3" height="2.3" fill="#1a92a6"/>
<rect x="597.6" y="81.6" width="2.3" height="2.3" fill="#f7861f"/>
<rect x="596.6" y="94.5" width="2.3" height="2.3" fill="#7a1ea3"/>
<rect x="595.1" y="72.4" width="2.3" height="2.3" fill="#1a92a6"/>
<rect x="595.1" y="107.7" width="2.3" height="2.3" fill="#7a1ea3"/>
<rect x="595.1" y="63.1" width="2.3" height="2.3" fill="#f7861f"/>
<rect x="595.1" y="67.5" width="2.3" height="2.3" fill="#f7861f"/>
<rect x="597.6" y="72.0" width="2.3" height="2.3" fill="#f7861f"/>
<rect x="595.1" y="124.6" width="2.3" height="2.3" fill="#1a92a6"/>
<rect x="595.1" y="103.3" width="2.3" height="2.3" fill="#7a1ea3"/>
<rect x="595.1" y="50.1" width="2.3" height="2.3" fill="#f7861f"/>
<rect x="595.1" y="84.7" width="2.3" height="2.3" fill="#1a92a6"/>
<rect x="595.1" y="38.9" width="2.3" height="2.3" fill="#1a92a6"/>
<rect x="597.1" y="96.8" width="2.3" height="2.3" fill="#7a1ea3"/>
<rect x="597.1" y="104.3" width="2.3" height="2.3" fill="#7a1ea3"/>
<rect x="595.1" y="90.2" width="2.3" height="2.3" fill="#1a92a6"/>
<rect x="595.1" y="65.3" width="2.3" height="2.3" fill="#1a92a6"/>
<rect x="593.1" y="97.2" width="2.3" height="2.3" fill="#7a1ea3"/>
<rect x="599.1" y="98.1" width="2.3" height="2.3" fill="#f7861f"/>
<rect x="597.6" y="89.7" width="2.3" height="2.3" fill="#1a92a6"/>
<rect x="595.1" y="75.7" width="2.3" height="2.3" fill="#7a1ea3"/>
<rect x="597.6" y="84.9" width="2.3" height="2.3" fill="#f7861f"/>
<rect x="593.1" y="83.1" width="2.3" height="2.3" fill="#f7861f"/>
<rect x="594.6" y="93.5" width="2.3" height="2.3" fill="#1a92a6"/>
<rect x="591.1" y="96.1" width="2.3" height="2.3" fill="#1a92a6"/>
<rect x="595.1" y="70.2" width="2.3" height="2.3" fill="#f7861f"/>
<rect x="597.6" y="107.2" width="2.3" height="2.3" fill="#7a1ea3"/>
<rect x="597.6" y="75.7" width="2.3" height="2.3" fill="#7a1ea3"/>
<rect x="592.6" y="75.7" width="2.3" height="2.3" fill="#f7861f"/>
<rect x="597.1" y="66.8" width="2.3" height="2.3" fill="#f7861f"/>
<rect x="593.1" y="104.5" width="2.3" height="2.3" fill="#7a1ea3"/>
<rect x="599.6" y="104.8" width="2.3" height="2.3" fill="#1a92a6"/>
<rect x="593.6" y="88.7" width="2.3" height="2.3" fill="#7a1ea3"/>
<rect x="595.1" y="79.4" width="2.3" height="2.3" fill="#1a92a6"/>
<rect x="591.1" y="103.1" width="2.3" height="2.3" fill="#1a92a6"/>
<rect x="591.6" y="89.6" width="2.3" height="2.3" fill="#7a1ea3"/>
<rect x="599.1" y="95.6" width="2.3" height="2.3" fill="#7a1ea3"/>
<rect x="592.6" y="72.3" width="2.3" height="2.3" fill="#7a1ea3"/>
<rect x="595.1" y="122.0" width="2.3" height="2.3" fill="#7a1ea3"/>
<rect x="592.6" y="107.4" width="2.3" height="2.3" fill="#1a92a6"/>
<rect x="589.6" y="97.5" width="2.3" height="2.3" fill="#7a1ea3"/>
<rect x="597.1" y="69.5" width="2.3" height="2.3" fill="#1a92a6"/>
<rect x="597.6" y="122.0" width="2.3" height="2.3" fill="#7a1ea3"/>
<rect x="600.1" y="90.3" width="2.3" height="2.3" fill="#7a1ea3"/>
<rect x="598.1" y="93.0" width="2.3" height="2.3" fill="#1a92a6"/>
<rect x="596.6" y="61.5" width="2.3" height="2.3" fill="#f7861f"/>
<rect x="591.1" y="105.8" width="2.3" height="2.3" fill="#7a1ea3"/>
<rect x="593.1" y="91.2" width="2.3" height="2.3" fill="#1a92a6"/>
<rect x="601.6" y="96.2" width="2.3" height="2.3" fill="#7a1ea3"/>
<rect x="593.1" y="86.0" width="2.3" height="2.3" fill="#f7861f"/>
<rect x="595.1" y="98.2" width="2.3" height="2.3" fill="#f7861f"/>
<rect x="595.1" y="116.7" width="2.3" height="2.3" fill="#1a92a6"/>
<rect x="601.6" y="98.3" width="2.3" height="2.3" fill="#7a1ea3"/>
<rect x="589.1" y="89.1" width="2.3" height="2.3" fill="#f7861f"/>
<rect x="601.6" y="105.7" width="2.3" height="2.3" fill="#7a1ea3"/>
<rect x="589.1" y="94.6" width="2.3" height="2.3" fill="#1a92a6"/>
<rect x="597.1" y="63.8" width="2.3" height="2.3" fill="#1a92a6"/>
<rect x="593.1" y="102.4" width="2.3" height="2.3" fill="#7a1ea3"/>
<rect x="589.1" y="104.5" width="2.3" height="2.3" fill="#7a1ea3"/>
<rect x="595.1" y="112.2" width="2.3" height="2.3" fill="#7a1ea3"/>
<rect x="591.1" y="84.6" width="2.3" height="2.3" fill="#7a1ea3"/>
<rect x="595.1" y="55.4" width="2.3" height="2.3" fill="#f7861f"/>
<rect x="590.6" y="76.3" width="2.3" height="2.3" fill="#f7861f"/>
<rect x="599.1" y="77.3" width="2.3" height="2.3" fill="#f7861f"/>
<rect x="601.1" y="88.3" width="2.3" height="2.3" fill="#1a92a6"/>
<rect x="603.6" y="105.0" width="2.3" height="2.3" fill="#1a92a6"/>
<rect x="591.1" y="70.7" width="2.3" height="2.3" fill="#1a92a6"/>
<rect x="596.1" y="114.7" width="2.3" height="2.3" fill="#7a1ea3"/>
<rect x="603.6" y="88.7" width="2.3" height="2.3" fill="#7a1ea3"/>
<rect x="592.6" y="94.3" width="2.3" height="2.3" fill="#1a92a6"/>
<rect x="600.1" y="84.8" width="2.3" height="2.3" fill="#7a1ea3"/>
<rect x="593.1" y="69.0" width="2.3" height="2.3" fill="#f7861f"/>
<rect x="599.6" y="74.3" width="2.3" height="2.3" fill="#f7861f"/>
<rect x="599.6" y="108.3" width="2.3" height="2.3" fill="#7a1ea3"/>
<rect x="590.6" y="73.0" width="2.3" height="2.3" fill="#1a92a6"/>
<rect x="587.1" y="97.5" width="2.3" height="2.3" fill="#7a1ea3"/>
<rect x="595.1" y="86.9" width="2.3" height="2.3" fill="#f7861f"/>
<rect x="589.6" y="86.1" width="2.3" height="2.3" fill="#1a92a6"/>
<rect x="587.1" y="105.9" width="2.3" height="2.3" fill="#1a92a6"/>
<rect x="593.1" y="64.2" width="2.3" height="2.3" fill="#f7861f"/>
<rect x="596.1" y="110.3" width="2.3" height="2.3" fill="#1a92a6"/>
<rect x="588.8" y="106.1" width="2.3" height="2.3" fill="#1a92a6"/>
<rect x="599.1" y="64.7" width="2.3" height="2.3" fill="#f7861f"/>
<rect x="596.6" y="37.3" width="2.3" height="2.3" fill="#f7861f"/>
<rect x="593.6" y="113.8" width="2.3" height="2.3" fill="#7a1ea3"/>
<rect x="602.6" y="107.6" width="2.3" height="2.3" fill="#7a1ea3"/>
<rect x="591.1" y="82.2" width="2.3" height="2.3" fill="#7a1ea3"/>
<rect x="587.1" y="90.5" width="2.3" height="2.3" fill="#f7861f"/>
<rect x="597.6" y="87.0" width="2.3" height="2.3" fill="#f7861f"/>
<rect x="587.1" y="88.3" width="2.3" height="2.3" fill="#1a92a6"/>
<rect x="595.1" y="47.3" width="2.3" height="2.3" fill="#f7861f"/>
<rect x="597.6" y="79.4" width="2.3" height="2.3" fill="#1a92a6"/>
<rect x="597.6" y="47.3" width="2.3" height="2.3" fill="#f7861f"/>
<rect x="592.6" y="78.9" width="2.3" height="2.3" fill="#f7861f"/>
<rect x="590.6" y="93.0" width="2.3" height="2.3" fill="#1a92a6"/>
<rect x="594.6" y="60.6" width="2.3" height="2.3" fill="#f7861f"/>
<rect x="599.6" y="80.7" width="2.3" height="2.3" fill="#f7861f"/>
<rect x="593.6" y="110.4" width="2.3" height="2.3" fill="#7a1ea3"/>
<rect x="605.1" y="107.0" width="2.3" height="2.3" fill="#1a92a6"/>
<rect x="604.1" y="98.4" width="2.3" height="2.3" fill="#7a1ea3"/>
<rect x="585.1" y="87.6" width="2.3" height="2.3" fill="#1a92a6"/>
<rect x="593.6" y="120.4" width="2.3" height="2.3" fill="#7a1ea3"/>
<rect x="599.6" y="69.1" width="2.3" height="2.3" fill="#1a92a6"/>
<rect x="601.6" y="75.0" width="2.3" height="2.3" fill="#1a92a6"/>
<rect x="603.6" y="95.1" width="2.3" height="2.3" fill="#1a92a6"/>
<rect x="589.1" y="83.7" width="2.3" height="2.3" fill="#f7861f"/>
<rect x="596.1" y="118.7" width="2.3" height="2.3" fill="#1a92a6"/>
<rect x="597.1" y="98.9" width="2.3" height="2.3" fill="#1a92a6"/>
<rect x="586.6" y="95.0" width="2.3" height="2.3" fill="#f7861f"/>
<rect x="601.1" y="82.5" width="2.3" height="2.3" fill="#1a92a6"/>
<rect x="585.2" y="88.3" width="2.3" height="2.3" fill="#7a1ea3"/>
<rect x="605.1" y="87.0" width="2.3" height="2.3" fill="#7a1ea3"/>
<rect x="586.5" y="89.5" width="2.3" height="2.3" fill="#7a1ea3"/>
<rect x="591.1" y="65.4" width="2.3" height="2.3" fill="#f7861f"/>
<rect x="600.1" y="89.5" width="2.3" height="2.3" fill="#1a92a6"/>
<rect x="603.1" y="83.6" width="2.3" height="2.3" fill="#1a92a6"/>
<rect x="592.6" y="47.3" width="2.3" height="2.3" fill="#f7861f"/>
<rect x="598.1" y="113.7" width="2.3" height="2.3" fill="#1a92a6"/>
<rect x="587.1" y="103.7" width="2.3" height="2.3" fill="#1a92a6"/>
<rect x="603.1" y="88.8" width="2.3" height="2.3" fill="#f7861f"/>
<rect x="601.6" y="103.3" width="2.3" height="2.3" fill="#1a92a6"/>
<rect x="589.1" y="69.7" width="2.3" height="2.3" fill="#f7861f"/>
<rect x="586.2" y="89.3" width="2.3" height="2.3" fill="#f7861f"/>
<rect x="600.6" y="93.9" width="2.3" height="2.3" fill="#7a1ea3"/>
<rect x="598.6" y="110.8" width="2.3" height="2.3" fill="#7a1ea3"/>
<rect x="587.1" y="82.9" width="2.3" height="2.3" fill="#f7861f"/>
<rect x="592.1" y="115.4" width="2.3" height="2.3" fill="#7a1ea3"/>
<rect x="599.5" y="103.5" width="2.3" height="2.3" fill="#1a92a6"/>
<rect x="589.6" y="63.6" width="2.3" height="2.3" fill="#f7861f"/>
<rect x="602.1" y="85.5" width="2.3" height="2.3" fill="#7a1ea3"/>
<rect x="600.6" y="96.3" width="2.3" height="2.3" fill="#7a1ea3"/>
<rect x="588.6" y="75.6" width="2.3" height="2.3" fill="#f7861f"/>
<rect x="596.6" y="59.2" width="2.3" height="2.3" fill="#1a92a6"/>
<rect x="596.6" y="101.4" width="2.3" height="2.3" fill="#7a1ea3"/>
<rect x="601.6" y="77.4" width="2.3" height="2.3" fill="#f7861f"/>
<rect x="592.1" y="122.0" width="2.3" height="2.3" fill="#7a1ea3"/>
<rect x="585.1" y="104.5" width="2.3" height="2.3" fill="#1a92a6"/>
<rect x="588.1" y="92.7" width="2.3" height="2.3" fill="#7a1ea3"/>
<rect x="598.7" y="104.1" width="2.3" height="2.3" fill="#f7861f"/>
<rect x="595.0" y="86.9" width="2.3" height="2.3" fill="#7a1ea3"/>
<rect x="602.1" y="92.5" width="2.3" height="2.3" fill="#1a92a6"/>
<rect x="602.1" y="69.7" width="2.3" height="2.3" fill="#f7861f"/>
<rect x="594.8" y="106.2" width="2.3" height="2.3" fill="#1a92a6"/>
<rect x="592.6" y="61.6" width="2.3" height="2.3" fill="#f7861f"/>
<rect x="600.1" y="122.0" width="2.3" height="2.3" fill="#7a1ea3"/>
<rect x="599.6" y="48.2" width="2.3" height="2.3" fill="#1a92a6"/>
<rect x="628.1" y="159.4" width="2.3" height="2.3" fill="#1a92a6"/>
<rect x="630.1" y="158.1" width="2.3" height="2.3" fill="#1a92a6"/>
<rect x="627.1" y="157.4" width="2.3" height="2.3" fill="#7a1ea3"/>
<rect x="624.6" y="157.8" width="2.3" height="2.3" fill="#1a92a6"/>
<rect x="632.1" y="158.9" width="2.3" height="2.3" fill="#1a92a6"/>
<rect x="633.1" y="156.9" width="2.3" height="2.3" fill="#7a1ea3"/>
<rect x="622.1" y="157.5" width="2.3" height="2.3" fill="#7a1ea3"/>
<rect x="635.1" y="157.7" width="2.3" height="2.3" fill="#7a1ea3"/>
<rect x="620.1" y="158.9" width="2.3" height="2.3" fill="#7a1ea3"/>
<rect x="620.1" y="156.6" width="2.3" height="2.3" fill="#7a1ea3"/>
<rect x="636.6" y="159.3" width="2.3" height="2.3" fill="#1a92a6"/>
<rect x="637.1" y="156.9" width="2.3" height="2.3" fill="#7a1ea3"/>
<rect x="618.1" y="157.9" width="2.3" height="2.3" fill="#7a1ea3"/>
<rect x="638.6" y="158.6" width="2.3" height="2.3" fill="#1a92a6"/>
<rect x="618.8" y="157.6" width="2.3" height="2.3" fill="#7a1ea3"/>
<rect x="629.2" y="158.4" width="2.3" height="2.3" fill="#1a92a6"/>
<rect x="624.8" y="157.4" width="2.3" height="2.3" fill="#f7861f"/>
<rect x="625.8" y="158.3" width="2.3" height="2.3" fill="#7a1ea3"/>
<rect x="638.8" y="157.3" width="2.3" height="2.3" fill="#7a1ea3"/>
<rect x="624.6" y="160.0" width="2.3" height="2.3" fill="#1a92a6"/>
<rect x="634.9" y="157.8" width="2.3" height="2.3" fill="#1a92a6"/>
<rect x="628.2" y="158.1" width="2.3" height="2.3" fill="#f7861f"/>
<rect x="628.2" y="157.3" width="2.3" height="2.3" fill="#7a1ea3"/>
<rect x="637.2" y="157.0" width="2.3" height="2.3" fill="#7a1ea3"/>
<rect x="625.3" y="157.6" width="2.3" height="2.3" fill="#1a92a6"/>
<rect x="634.3" y="156.3" width="2.3" height="2.3" fill="#f7861f"/>
<rect x="633.1" y="159.3" width="2.3" height="2.3" fill="#1a92a6"/>
<rect x="633.3" y="158.5" width="2.3" height="2.3" fill="#f7861f"/>
<rect x="627.1" y="156.9" width="2.3" height="2.3" fill="#f7861f"/>
<rect x="632.1" y="158.1" width="2.3" height="2.3" fill="#1a92a6"/>
<rect x="635.5" y="156.9" width="2.3" height="2.3" fill="#7a1ea3"/>
<rect x="623.6" y="159.4" width="2.3" height="2.3" fill="#1a92a6"/>
<rect x="633.8" y="159.1" width="2.3" height="2.3" fill="#7a1ea3"/>
<rect x="627.7" y="157.5" width="2.3" height="2.3" fill="#1a92a6"/>
<rect x="628.8" y="157.8" width="2.3" height="2.3" fill="#1a92a6"/>
<rect x="627.3" y="156.6" width="2.3" height="2.3" fill="#7a1ea3"/>
<rect x="630.1" y="160.4" width="2.3" height="2.3" fill="#1a92a6"/>
<rect x="625.3" y="158.5" width="2.3" height="2.3" fill="#1a92a6"/>
<rect x="633.6" y="159.1" width="2.3" height="2.3" fill="#1a92a6"/>
<rect x="625.7" y="157.2" width="2.3" height="2.3" fill="#f7861f"/>
<rect x="621.0" y="159.6" width="2.3" height="2.3" fill="#1a92a6"/>
<rect x="634.4" y="158.2" width="2.3" height="2.3" fill="#1a92a6"/>
<rect x="625.8" y="158.1" width="2.3" height="2.3" fill="#1a92a6"/>
<rect x="629.8" y="158.4" width="2.3" height="2.3" fill="#1a92a6"/>
<rect x="629.6" y="155.5" width="2.3" height="2.3" fill="#f7861f"/>
<rect x="638.7" y="157.4" width="2.3" height="2.3" fill="#7a1ea3"/>
<rect x="631.3" y="158.3" width="2.3" height="2.3" fill="#1a92a6"/>
<rect x="628.6" y="157.8" width="2.3" height="2.3" fill="#7a1ea3"/>
<rect x="618.1" y="160.3" width="2.3" height="2.3" fill="#1a92a6"/>
<rect x="623.3" y="159.7" width="2.3" height="2.3" fill="#f7861f"/>
<rect x="632.6" y="158.1" width="2.3" height="2.3" fill="#1a92a6"/>
<rect x="638.2" y="156.7" width="2.3" height="2.3" fill="#7a1ea3"/>
<rect x="632.6" y="158.9" width="2.3" height="2.3" fill="#1a92a6"/>
<rect x="634.0" y="157.4" width="2.3" height="2.3" fill="#7a1ea3"/>
<rect x="624.0" y="158.5" width="2.3" height="2.3" fill="#1a92a6"/>
<rect x="623.9" y="158.2" width="2.3" height="2.3" fill="#1a92a6"/>
<rect x="624.9" y="158.7" width="2.3" height="2.3" fill="#1a92a6"/>
<rect x="627.6" y="158.6" width="2.3" height="2.3" fill="#7a1ea3"/>
<rect x="636.7" y="158.3" width="2.3" height="2.3" fill="#f7861f"/>
<rect x="627.3" y="157.8" width="2.3" height="2.3" fill="#1a92a6"/>
<rect x="620.9" y="157.2" width="2.3" height="2.3" fill="#7a1ea3"/>
<rect x="617.1" y="156.0" width="2.3" height="2.3" fill="#7a1ea3"/>
<rect x="628.8" y="157.4" width="2.3" height="2.3" fill="#7a1ea3"/>
<rect x="622.8" y="158.7" width="2.3" height="2.3" fill="#1a92a6"/>
<rect x="631.0" y="158.7" width="2.3" height="2.3" fill="#1a92a6"/>
<rect x="624.5" y="157.8" width="2.3" height="2.3" fill="#f7861f"/>
<rect x="638.0" y="157.4" width="2.3" height="2.3" fill="#1a92a6"/>
<rect x="626.7" y="158.1" width="2.3" height="2.3" fill="#1a92a6"/>
<rect x="629.9" y="159.3" width="2.3" height="2.3" fill="#1a92a6"/>
<rect x="629.9" y="158.1" width="2.3" height="2.3" fill="#1a92a6"/>
<rect x="626.2" y="157.8" width="2.3" height="2.3" fill="#7a1ea3"/>
<rect x="638.6" y="156.8" width="2.3" height="2.3" fill="#7a1ea3"/>
<rect x="618.0" y="158.5" width="2.3" height="2.3" fill="#1a92a6"/>
<rect x="633.4" y="157.5" width="2.3" height="2.3" fill="#7a1ea3"/>
<rect x="622.9" y="158.4" width="2.3" height="2.3" fill="#1a92a6"/>
<rect x="618.4" y="157.6" width="2.3" height="2.3" fill="#1a92a6"/>
<rect x="621.0" y="157.6" width="2.3" height="2.3" fill="#7a1ea3"/>
<rect x="633.6" y="158.0" width="2.3" height="2.3" fill="#7a1ea3"/>
<rect x="637.0" y="159.8" width="2.3" height="2.3" fill="#1a92a6"/>
<rect x="634.1" y="159.0" width="2.3" height="2.3" fill="#1a92a6"/>
<rect x="623.3" y="158.0" width="2.3" height="2.3" fill="#f7861f"/>
<rect x="628.0" y="159.7" width="2.3" height="2.3" fill="#1a92a6"/>
<rect x="619.7" y="157.1" width="2.3" height="2.3" fill="#7a1ea3"/>
<rect x="626.3" y="158.2" width="2.3" height="2.3" fill="#1a92a6"/>
<rect x="622.7" y="157.6" width="2.3" height="2.3" fill="#1a92a6"/>
<rect x="617.7" y="157.4" width="2.3" height="2.3" fill="#7a1ea3"/>
<rect x="623.5" y="157.5" width="2.3" height="2.3" fill="#7a1ea3"/>
<rect x="637.5" y="157.6" width="2.3" height="2.3" fill="#7a1ea3"/>
<rect x="628.7" y="158.8" width="2.3" height="2.3" fill="#1a92a6"/>
<rect x="623.1" y="157.0" width="2.3" height="2.3" fill="#7a1ea3"/>
<rect x="619.6" y="158.0" width="2.3" height="2.3" fill="#7a1ea3"/>
<rect x="636.8" y="156.8" width="2.3" height="2.3" fill="#7a1ea3"/>
<rect x="619.1" y="159.2" width="2.3" height="2.3" fill="#1a92a6"/>
<rect x="617.9" y="158.2" width="2.3" height="2.3" fill="#1a92a6"/>
<rect x="619.5" y="157.4" width="2.3" height="2.3" fill="#7a1ea3"/>
<rect x="633.6" y="158.0" width="2.3" height="2.3" fill="#f7861f"/>
<rect x="637.6" y="157.6" width="2.3" height="2.3" fill="#7a1ea3"/>
<rect x="619.2" y="156.3" width="2.3" height="2.3" fill="#7a1ea3"/>
<rect x="631.1" y="157.5" width="2.3" height="2.3" fill="#7a1ea3"/>
<rect x="631.4" y="156.7" width="2.3" height="2.3" fill="#7a1ea3"/>
<rect x="628.6" y="160.0" width="2.3" height="2.3" fill="#1a92a6"/>
<rect x="617.1" y="157.1" width="2.3" height="2.3" fill="#7a1ea3"/>
<rect x="632.3" y="158.5" width="2.3" height="2.3" fill="#1a92a6"/>
<rect x="626.5" y="159.2" width="2.3" height="2.3" fill="#1a92a6"/>
<rect x="637.5" y="156.3" width="2.3" height="2.3" fill="#f7861f"/>
<rect x="639.0" y="159.2" width="2.3" height="2.3" fill="#1a92a6"/>
<rect x="631.1" y="157.5" width="2.3" height="2.3" fill="#f7861f"/>
<rect x="619.6" y="159.5" width="2.3" height="2.3" fill="#1a92a6"/>
<rect x="624.0" y="157.4" width="2.3" height="2.3" fill="#7a1ea3"/>
<rect x="630.9" y="156.0" width="2.3" height="2.3" fill="#7a1ea3"/>
<rect x="636.2" y="159.4" width="2.3" height="2.3" fill="#1a92a6"/>
<rect x="626.3" y="160.6" width="2.3" height="2.3" fill="#1a92a6"/>
<rect x="625.1" y="155.1" width="2.3" height="2.3" fill="#7a1ea3"/>
<rect x="625.0" y="157.6" width="2.3" height="2.3" fill="#f7861f"/>
<rect x="630.4" y="160.0" width="2.3" height="2.3" fill="#1a92a6"/>
<rect x="661.1" y="131.2" width="2.3" height="2.3" fill="#f7861f"/>
<rect x="663.1" y="132.7" width="2.3" height="2.3" fill="#7a1ea3"/>
<rect x="661.1" y="133.7" width="2.3" height="2.3" fill="#f7861f"/>
<rect x="661.1" y="115.8" width="2.3" height="2.3" fill="#1a92a6"/>
<rect x="661.1" y="127.8" width="2.3" height="2.3" fill="#7a1ea3"/>
<rect x="661.1" y="136.7" width="2.3" height="2.3" fill="#7a1ea3"/>
<rect x="663.1" y="135.5" width="2.3" height="2.3" fill="#f7861f"/>
<rect x="661.1" y="140.4" width="2.3" height="2.3" fill="#f7861f"/>
<rect x="661.1" y="146.9" width="2.3" height="2.3" fill="#f7861f"/>
<rect x="658.6" y="136.2" width="2.3" height="2.3" fill="#1a92a6"/>
<rect x="663.6" y="127.3" width="2.3" height="2.3" fill="#1a92a6"/>
<rect x="661.1" y="125.3" width="2.3" height="2.3" fill="#f7861f"/>
<rect x="665.1" y="136.2" width="2.3" height="2.3" fill="#1a92a6"/>
<rect x="658.6" y="131.9" width="2.3" height="2.3" fill="#1a92a6"/>
<rect x="663.1" y="141.5" width="2.3" height="2.3" fill="#7a1ea3"/>
<rect x="657.6" y="134.2" width="2.3" height="2.3" fill="#f7861f"/>
<rect x="667.1" y="134.9" width="2.3" height="2.3" fill="#7a1ea3"/>
<rect x="665.6" y="133.1" width="2.3" height="2.3" fill="#1a92a6"/>
<rect x="658.6" y="127.6" width="2.3" height="2.3" fill="#7a1ea3"/>
<rect x="655.6" y="133.4" width="2.3" height="2.3" fill="#1a92a6"/>
<rect x="666.1" y="127.6" width="2.3" height="2.3" fill="#1a92a6"/>
<rect x="661.1" y="123.1" width="2.3" height="2.3" fill="#7a1ea3"/>
<rect x="661.1" y="112.3" width="2.3" height="2.3" fill="#1a92a6"/>
<rect x="669.1" y="133.6" width="2.3" height="2.3" fill="#f7861f"/>
<rect x="661.1" y="121.0" width="2.3" height="2.3" fill="#1a92a6"/>
<rect x="664.1" y="130.8" width="2.3" height="2.3" fill="#1a92a6"/>
<rect x="662.6" y="129.3" width="2.3" height="2.3" fill="#1a92a6"/>
<rect x="656.6" y="130.4" width="2.3" height="2.3" fill="#7a1ea3"/>
<rect x="656.1" y="135.7" width="2.3" height="2.3" fill="#f7861f"/>
<rect x="653.6" y="132.3" width="2.3" height="2.3" fill="#7a1ea3"/>
<rect x="656.6" y="126.8" width="2.3" height="2.3" fill="#f7861f"/>
<rect x="653.6" y="135.3" width="2.3" height="2.3" fill="#7a1ea3"/>
<rect x="659.6" y="129.7" width="2.3" height="2.3" fill="#7a1ea3"/>
<rect x="667.6" y="126.1" width="2.3" height="2.3" fill="#1a92a6"/>
<rect x="654.1" y="126.5" width="2.3" height="2.3" fill="#7a1ea3"/>
<rect x="655.1" y="128.7" width="2.3" height="2.3" fill="#1a92a6"/>
<rect x="663.1" y="119.7" width="2.3" height="2.3" fill="#1a92a6"/>
<rect x="667.6" y="131.7" width="2.3" height="2.3" fill="#7a1ea3"/>
<rect x="668.6" y="128.1" width="2.3" height="2.3" fill="#1a92a6"/>
<rect x="670.1" y="126.6" width="2.3" height="2.3" fill="#7a1ea3"/>
<rect x="669.1" y="135.8" width="2.3" height="2.3" fill="#7a1ea3"/>
<rect x="662.6" y="138.8" width="2.3" height="2.3" fill="#1a92a6"/>
<rect x="671.1" y="135.0" width="2.3" height="2.3" fill="#7a1ea3"/>
<rect x="651.6" y="133.2" width="2.3" height="2.3" fill="#1a92a6"/>
<rect x="652.6" y="128.9" width="2.3" height="2.3" fill="#1a92a6"/>
<rect x="651.1" y="127.3" width="2.3" height="2.3" fill="#7a1ea3"/>
<rect x="661.1" y="143.3" width="2.3" height="2.3" fill="#f7861f"/>
<rect x="658.6" y="139.8" width="2.3" height="2.3" fill="#f7861f"/>
<rect x="665.1" y="140.1" width="2.3" height="2.3" fill="#7a1ea3"/>
<rect x="671.1" y="132.2" width="2.3" height="2.3" fill="#1a92a6"/>
<rect x="650.1" y="134.8" width="2.3" height="2.3" fill="#1a92a6"/>
<rect x="670.6" y="129.4" width="2.3" height="2.3" fill="#1a92a6"/>
<rect x="660.2" y="128.0" width="2.3" height="2.3" fill="#1a92a6"/>
<rect x="650.1" y="129.2" width="2.3" height="2.3" fill="#1a92a6"/>
<rect x="658.7" y="134.9" width="2.3" height="2.3" fill="#f7861f"/>
<rect x="650.6" y="135.2" width="2.3" height="2.3" fill="#1a92a6"/>
<rect x="657.8" y="126.7" width="2.3" height="2.3" fill="#7a1ea3"/>
<rect x="658.6" y="120.7" width="2.3" height="2.3" fill="#1a92a6"/>
<rect x="667.4" y="126.1" width="2.3" height="2.3" fill="#1a92a6"/>
<rect x="657.7" y="135.1" width="2.3" height="2.3" fill="#f7861f"/>
<rect x="656.3" y="126.0" width="2.3" height="2.3" fill="#7a1ea3"/>
<rect x="663.1" y="122.3" width="2.3" height="2.3" fill="#1a92a6"/>
<rect x="657.1" y="122.4" width="2.3" height="2.3" fill="#1a92a6"/>
<rect x="659.1" y="142.6" width="2.3" height="2.3" fill="#7a1ea3"/>
<rect x="661.1" y="95.6" width="2.3" height="2.3" fill="#1a92a6"/>
<rect x="653.6" y="130.4" width="2.3" height="2.3" fill="#7a1ea3"/>
<rect x="664.0" y="134.3" width="2.3" height="2.3" fill="#1a92a6"/>
<rect x="666.1" y="130.0" width="2.3" height="2.3" fill="#7a1ea3"/>
<rect x="661.1" y="136.2" width="2.3" height="2.3" fill="#7a1ea3"/>
<rect x="650.6" y="131.2" width="2.3" height="2.3" fill="#f7861f"/>
<rect x="663.1" y="114.5" width="2.3" height="2.3" fill="#1a92a6"/>
<rect x="651.1" y="134.0" width="2.3" height="2.3" fill="#f7861f"/>
<rect x="655.4" y="129.2" width="2.3" height="2.3" fill="#f7861f"/>
<rect x="651.7" y="136.7" width="2.3" height="2.3" fill="#f7861f"/>
<rect x="653.4" y="132.5" width="2.3" height="2.3" fill="#7a1ea3"/>
<rect x="655.7" y="132.9" width="2.3" height="2.3" fill="#7a1ea3"/>
<rect x="651.7" y="130.9" width="2.3" height="2.3" fill="#7a1ea3"/>
<rect x="659.1" y="124.3" width="2.3" height="2.3" fill="#1a92a6"/>
<rect x="671.8" y="131.7" width="2.3" height="2.3" fill="#7a1ea3"/>
<rect x="665.1" y="123.5" width="2.3" height="2.3" fill="#7a1ea3"/>
<rect x="656.1" y="139.3" width="2.3" height="2.3" fill="#7a1ea3"/>
<rect x="664.0" y="129.3" width="2.3" height="2.3" fill="#f7861f"/>
<rect x="661.1" y="118.7" width="2.3" height="2.3" fill="#1a92a6"/>
<rect x="652.6" y="134.7" width="2.3" height="2.3" fill="#7a1ea3"/>
<rect x="661.6" y="133.8" width="2.3" height="2.3" fill="#f7861f"/>
<rect x="657.1" y="141.4" width="2.3" height="2.3" fill="#f7861f"/>
<rect x="667.1" y="137.5" width="2.3" height="2.3" fill="#1a92a6"/>
<rect x="658.8" y="133.0" width="2.3" height="2.3" fill="#1a92a6"/>
<rect x="654.3" y="133.4" width="2.3" height="2.3" fill="#7a1ea3"/>
<rect x="659.1" y="129.0" width="2.3" height="2.3" fill="#7a1ea3"/>
<rect x="667.6" y="139.9" width="2.3" height="2.3" fill="#7a1ea3"/>
<rect x="662.6" y="144.9" width="2.3" height="2.3" fill="#f7861f"/>
<rect x="662.5" y="126.0" width="2.3" height="2.3" fill="#f7861f"/>
<rect x="652.2" y="127.1" width="2.3" height="2.3" fill="#1a92a6"/>
<rect x="671.1" y="133.3" width="2.3" height="2.3" fill="#7a1ea3"/>
<rect x="665.6" y="120.0" width="2.3" height="2.3" fill="#7a1ea3"/>
<rect x="661.0" y="134.9" width="2.3" height="2.3" fill="#f7861f"/>
<rect x="666.6" y="122.0" width="2.3" height="2.3" fill="#1a92a6"/>
<rect x="659.1" y="114.6" width="2.3" height="2.3" fill="#1a92a6"/>
<rect x="653.6" y="139.3" width="2.3" height="2.3" fill="#7a1ea3"/>
<rect x="651.7" y="135.8" width="2.3" height="2.3" fill="#7a1ea3"/>
<rect x="655.6" y="124.0" width="2.3" height="2.3" fill="#7a1ea3"/>
<rect x="655.6" y="120.6" width="2.3" height="2.3" fill="#1a92a6"/>
<rect x="669.6" y="141.1" width="2.3" height="2.3" fill="#7a1ea3"/>
<rect x="665.1" y="136.2" width="2.3" height="2.3" fill="#7a1ea3"/>
<rect x="670.9" y="131.7" width="2.3" height="2.3" fill="#f7861f"/>
<rect x="650.4" y="132.2" width="2.3" height="2.3" fill="#7a1ea3"/>
<rect x="669.6" y="138.7" width="2.3" height="2.3" fill="#f7861f"/>
<rect x="665.0" y="126.4" width="2.3" height="2.3" fill="#f7861f"/>
<rect x="668.5" y="135.1" width="2.3" height="2.3" fill="#7a1ea3"/>
<rect x="659.9" y="128.2" width="2.3" height="2.3" fill="#7a1ea3"/>
<rect x="651.7" y="135.0" width="2.3" height="2.3" fill="#7a1ea3"/>
<rect x="672.1" y="127.2" width="2.3" height="2.3" fill="#f7861f"/>
<rect x="666.7" y="130.6" width="2.3" height="2.3" fill="#f7861f"/>
<rect x="657.4" y="134.8" width="2.3" height="2.3" fill="#7a1ea3"/>
<rect x="656.7" y="130.6" width="2.3" height="2.3" fill="#7a1ea3"/>
<rect x="667.0" y="132.3" width="2.3" height="2.3" fill="#f7861f"/>
<rect x="650.2" y="130.2" width="2.3" height="2.3" fill="#1a92a6"/>
<rect x="650.6" y="125.2" width="2.3" height="2.3" fill="#1a92a6"/>
<rect x="655.5" y="130.7" width="2.3" height="2.3" fill="#7a1ea3"/>
<rect x="668.6" y="123.1" width="2.3" height="2.3" fill="#1a92a6"/>
<line x1="551.90" y1="159.00" x2="573.90" y2="159.00" stroke="#111" stroke-width="1.2" />
<line x1="585.20" y1="79.00" x2="607.20" y2="79.00" stroke="#111" stroke-width="1.2" />
<line x1="585.20" y1="91.20" x2="607.20" y2="91.20" stroke="#111" stroke-width="1.2" />
<line x1="585.20" y1="96.10" x2="607.20" y2="96.10" stroke="#111" stroke-width="1.2" />
<line x1="618.20" y1="159.20" x2="640.20" y2="159.20" stroke="#111" stroke-width="1.2" />
<line x1="651.20" y1="127.30" x2="673.20" y2="127.30" stroke="#111" stroke-width="1.2" />
<line x1="651.20" y1="131.10" x2="673.20" y2="131.10" stroke="#111" stroke-width="1.2" />
<line x1="651.20" y1="135.10" x2="673.20" y2="135.10" stroke="#111" stroke-width="1.2" />
<line x1="263.00" y1="483.00" x2="263.00" y2="642.70" stroke="#000" stroke-width="1.2" />
<line x1="262.40" y1="642.10" x2="402.90" y2="642.10" stroke="#000" stroke-width="1.2" />
<line x1="260.20" y1="642.10" x2="263.00" y2="642.10" stroke="#000" stroke-width="1.1" />
<text x="258.6" y="644.9" font-size="8" text-anchor="end" fill="#111" >0</text>
<line x1="260.20" y1="602.45" x2="263.00" y2="602.45" stroke="#000" stroke-width="1.1" />
<text x="258.6" y="605.2" font-size="8" text-anchor="end" fill="#111" >1000</text>
<line x1="260.20" y1="562.80" x2="263.00" y2="562.80" stroke="#000" stroke-width="1.1" />
<text x="258.6" y="565.6" font-size="8" text-anchor="end" fill="#111" >2000</text>
<line x1="260.20" y1="523.15" x2="263.00" y2="523.15" stroke="#000" stroke-width="1.1" />
<text x="258.6" y="526.0" font-size="8" text-anchor="end" fill="#111" >3000</text>
<line x1="260.20" y1="483.50" x2="263.00" y2="483.50" stroke="#000" stroke-width="1.1" />
<text x="258.6" y="486.3" font-size="8" text-anchor="end" fill="#111" >4000</text>
<line x1="283.10" y1="642.10" x2="283.10" y2="645.20" stroke="#000" stroke-width="1.1" />
<line x1="333.40" y1="642.10" x2="333.40" y2="645.20" stroke="#000" stroke-width="1.1" />
<line x1="383.50" y1="642.10" x2="383.50" y2="645.20" stroke="#000" stroke-width="1.1" />
<text x="283.1" y="653.8" font-size="8.2" text-anchor="middle" fill="#111" >TSB</text>
<text x="333.4" y="653.8" font-size="8.2" text-anchor="middle" fill="#111" >Serum</text>
<text x="393.4" y="653.8" font-size="8.2" text-anchor="middle" fill="#111" >Serum + fosfomycin</text>
<text transform="translate(234.4,561.8) rotate(-90)" font-size="9.8" text-anchor="middle" fill="#111">RFU</text>
<line x1="282.00" y1="498.20" x2="331.40" y2="498.20" stroke="#000" stroke-width="1.1" />
<path d="M306.60 492.40L306.60 490.94M306.60 492.40L305.34 493.13M306.60 492.40L307.86 493.13M306.60 492.40L307.80 491.71M306.60 492.40L305.40 491.71M306.60 492.40L306.60 493.78" stroke="#222" stroke-width="0.62" stroke-linecap="round" fill="none"/>
<line x1="338.10" y1="498.20" x2="387.80" y2="498.20" stroke="#000" stroke-width="1.1" />
<path d="M363.60 492.40L363.60 490.94M363.60 492.40L362.34 493.13M363.60 492.40L364.86 493.13M363.60 492.40L364.80 491.71M363.60 492.40L362.40 491.71M363.60 492.40L363.60 493.78" stroke="#222" stroke-width="0.62" stroke-linecap="round" fill="none"/>
<rect x="282.0" y="631.8" width="2.3" height="2.3" fill="#7a1ea3"/>
<rect x="282.0" y="634.1" width="2.3" height="2.3" fill="#f7861f"/>
<rect x="282.0" y="627.5" width="2.3" height="2.3" fill="#1a92a6"/>
<rect x="284.5" y="633.6" width="2.3" height="2.3" fill="#f7861f"/>
<rect x="279.5" y="631.7" width="2.3" height="2.3" fill="#7a1ea3"/>
<rect x="282.0" y="624.4" width="2.3" height="2.3" fill="#1a92a6"/>
<rect x="284.0" y="630.8" width="2.3" height="2.3" fill="#7a1ea3"/>
<rect x="278.5" y="633.7" width="2.3" height="2.3" fill="#f7861f"/>
<rect x="287.0" y="633.4" width="2.3" height="2.3" fill="#f7861f"/>
<rect x="276.0" y="634.3" width="2.3" height="2.3" fill="#f7861f"/>
<rect x="286.0" y="631.5" width="2.3" height="2.3" fill="#7a1ea3"/>
<rect x="289.5" y="634.0" width="2.3" height="2.3" fill="#f7861f"/>
<rect x="281.0" y="629.8" width="2.3" height="2.3" fill="#1a92a6"/>
<rect x="273.5" y="633.7" width="2.3" height="2.3" fill="#f7861f"/>
<rect x="277.0" y="631.9" width="2.3" height="2.3" fill="#7a1ea3"/>
<rect x="292.0" y="633.8" width="2.3" height="2.3" fill="#f7861f"/>
<rect x="284.0" y="626.7" width="2.3" height="2.3" fill="#1a92a6"/>
<rect x="288.5" y="630.9" width="2.3" height="2.3" fill="#7a1ea3"/>
<rect x="277.2" y="634.1" width="2.3" height="2.3" fill="#f7861f"/>
<rect x="279.5" y="627.6" width="2.3" height="2.3" fill="#1a92a6"/>
<rect x="274.5" y="631.4" width="2.3" height="2.3" fill="#7a1ea3"/>
<rect x="286.0" y="627.4" width="2.3" height="2.3" fill="#1a92a6"/>
<rect x="276.0" y="632.4" width="2.3" height="2.3" fill="#f7861f"/>
<rect x="290.5" y="631.8" width="2.3" height="2.3" fill="#7a1ea3"/>
<rect x="277.2" y="632.8" width="2.3" height="2.3" fill="#7a1ea3"/>
<rect x="272.0" y="631.7" width="2.3" height="2.3" fill="#7a1ea3"/>
<rect x="278.1" y="633.5" width="2.3" height="2.3" fill="#f7861f"/>
<rect x="281.1" y="632.9" width="2.3" height="2.3" fill="#f7861f"/>
<rect x="277.6" y="631.8" width="2.3" height="2.3" fill="#7a1ea3"/>
<rect x="284.0" y="623.3" width="2.3" height="2.3" fill="#1a92a6"/>
<rect x="291.5" y="629.9" width="2.3" height="2.3" fill="#1a92a6"/>
<rect x="284.7" y="632.4" width="2.3" height="2.3" fill="#7a1ea3"/>
<rect x="277.5" y="628.6" width="2.3" height="2.3" fill="#1a92a6"/>
<rect x="289.1" y="633.6" width="2.3" height="2.3" fill="#f7861f"/>
<rect x="280.0" y="623.5" width="2.3" height="2.3" fill="#1a92a6"/>
<rect x="272.4" y="629.9" width="2.3" height="2.3" fill="#1a92a6"/>
<rect x="281.3" y="633.9" width="2.3" height="2.3" fill="#f7861f"/>
<rect x="284.3" y="633.3" width="2.3" height="2.3" fill="#f7861f"/>
<rect x="281.4" y="631.3" width="2.3" height="2.3" fill="#7a1ea3"/>
<rect x="285.2" y="631.6" width="2.3" height="2.3" fill="#7a1ea3"/>
<rect x="286.0" y="624.7" width="2.3" height="2.3" fill="#1a92a6"/>
<rect x="276.1" y="631.1" width="2.3" height="2.3" fill="#7a1ea3"/>
<rect x="290.7" y="633.6" width="2.3" height="2.3" fill="#f7861f"/>
<rect x="291.9" y="633.4" width="2.3" height="2.3" fill="#f7861f"/>
<rect x="288.5" y="631.7" width="2.3" height="2.3" fill="#7a1ea3"/>
<rect x="283.6" y="634.1" width="2.3" height="2.3" fill="#f7861f"/>
<rect x="288.6" y="632.3" width="2.3" height="2.3" fill="#7a1ea3"/>
<rect x="285.4" y="629.9" width="2.3" height="2.3" fill="#1a92a6"/>
<rect x="288.0" y="628.3" width="2.3" height="2.3" fill="#1a92a6"/>
<rect x="289.3" y="634.1" width="2.3" height="2.3" fill="#f7861f"/>
<rect x="281.9" y="631.1" width="2.3" height="2.3" fill="#7a1ea3"/>
<rect x="277.6" y="634.1" width="2.3" height="2.3" fill="#f7861f"/>
<rect x="283.1" y="634.1" width="2.3" height="2.3" fill="#f7861f"/>
<rect x="281.9" y="631.2" width="2.3" height="2.3" fill="#7a1ea3"/>
<rect x="276.1" y="632.6" width="2.3" height="2.3" fill="#7a1ea3"/>
<rect x="285.4" y="633.2" width="2.3" height="2.3" fill="#f7861f"/>
<rect x="286.6" y="633.4" width="2.3" height="2.3" fill="#f7861f"/>
<rect x="277.2" y="633.4" width="2.3" height="2.3" fill="#f7861f"/>
<rect x="275.2" y="634.0" width="2.3" height="2.3" fill="#f7861f"/>
<rect x="283.6" y="632.3" width="2.3" height="2.3" fill="#7a1ea3"/>
<rect x="281.1" y="631.1" width="2.3" height="2.3" fill="#7a1ea3"/>
<rect x="286.4" y="633.7" width="2.3" height="2.3" fill="#f7861f"/>
<rect x="286.8" y="632.0" width="2.3" height="2.3" fill="#7a1ea3"/>
<rect x="272.3" y="631.6" width="2.3" height="2.3" fill="#7a1ea3"/>
<rect x="276.2" y="631.5" width="2.3" height="2.3" fill="#7a1ea3"/>
<rect x="289.3" y="630.8" width="2.3" height="2.3" fill="#7a1ea3"/>
<rect x="285.4" y="632.9" width="2.3" height="2.3" fill="#f7861f"/>
<rect x="287.8" y="631.9" width="2.3" height="2.3" fill="#7a1ea3"/>
<rect x="286.8" y="631.8" width="2.3" height="2.3" fill="#7a1ea3"/>
<rect x="283.8" y="633.2" width="2.3" height="2.3" fill="#f7861f"/>
<rect x="278.4" y="632.1" width="2.3" height="2.3" fill="#7a1ea3"/>
<rect x="277.7" y="631.7" width="2.3" height="2.3" fill="#7a1ea3"/>
<rect x="284.4" y="632.0" width="2.3" height="2.3" fill="#7a1ea3"/>
<rect x="284.3" y="633.2" width="2.3" height="2.3" fill="#f7861f"/>
<rect x="290.3" y="633.1" width="2.3" height="2.3" fill="#f7861f"/>
<rect x="284.5" y="634.0" width="2.3" height="2.3" fill="#f7861f"/>
<rect x="283.3" y="631.5" width="2.3" height="2.3" fill="#7a1ea3"/>
<rect x="275.5" y="627.2" width="2.3" height="2.3" fill="#1a92a6"/>
<rect x="272.3" y="631.2" width="2.3" height="2.3" fill="#7a1ea3"/>
<rect x="285.2" y="632.3" width="2.3" height="2.3" fill="#7a1ea3"/>
<rect x="289.5" y="632.9" width="2.3" height="2.3" fill="#f7861f"/>
<rect x="284.8" y="632.7" width="2.3" height="2.3" fill="#f7861f"/>
<rect x="282.3" y="633.9" width="2.3" height="2.3" fill="#f7861f"/>
<rect x="278.7" y="631.3" width="2.3" height="2.3" fill="#7a1ea3"/>
<rect x="291.8" y="633.3" width="2.3" height="2.3" fill="#f7861f"/>
<rect x="278.5" y="625.5" width="2.3" height="2.3" fill="#1a92a6"/>
<rect x="277.8" y="632.3" width="2.3" height="2.3" fill="#7a1ea3"/>
<rect x="287.6" y="633.7" width="2.3" height="2.3" fill="#f7861f"/>
<rect x="281.8" y="631.8" width="2.3" height="2.3" fill="#7a1ea3"/>
<rect x="283.3" y="631.6" width="2.3" height="2.3" fill="#7a1ea3"/>
<rect x="277.0" y="624.0" width="2.3" height="2.3" fill="#1a92a6"/>
<rect x="272.5" y="631.6" width="2.3" height="2.3" fill="#7a1ea3"/>
<rect x="288.0" y="633.8" width="2.3" height="2.3" fill="#f7861f"/>
<rect x="280.9" y="630.2" width="2.3" height="2.3" fill="#7a1ea3"/>
<rect x="290.7" y="632.3" width="2.3" height="2.3" fill="#7a1ea3"/>
<rect x="291.1" y="633.4" width="2.3" height="2.3" fill="#f7861f"/>
<rect x="290.0" y="633.7" width="2.3" height="2.3" fill="#f7861f"/>
<rect x="285.7" y="633.4" width="2.3" height="2.3" fill="#f7861f"/>
<rect x="275.5" y="634.4" width="2.3" height="2.3" fill="#f7861f"/>
<rect x="275.9" y="631.1" width="2.3" height="2.3" fill="#7a1ea3"/>
<rect x="279.5" y="633.6" width="2.3" height="2.3" fill="#f7861f"/>
<rect x="288.0" y="625.7" width="2.3" height="2.3" fill="#1a92a6"/>
<rect x="275.5" y="634.0" width="2.3" height="2.3" fill="#f7861f"/>
<rect x="290.9" y="632.8" width="2.3" height="2.3" fill="#7a1ea3"/>
<rect x="280.8" y="631.3" width="2.3" height="2.3" fill="#7a1ea3"/>
<rect x="286.1" y="632.3" width="2.3" height="2.3" fill="#7a1ea3"/>
<rect x="275.2" y="628.4" width="2.3" height="2.3" fill="#1a92a6"/>
<rect x="283.4" y="632.2" width="2.3" height="2.3" fill="#7a1ea3"/>
<rect x="273.8" y="632.4" width="2.3" height="2.3" fill="#7a1ea3"/>
<rect x="290.0" y="626.4" width="2.3" height="2.3" fill="#1a92a6"/>
<rect x="277.0" y="631.5" width="2.3" height="2.3" fill="#7a1ea3"/>
<rect x="288.3" y="632.5" width="2.3" height="2.3" fill="#f7861f"/>
<rect x="273.0" y="626.8" width="2.3" height="2.3" fill="#1a92a6"/>
<rect x="280.6" y="631.8" width="2.3" height="2.3" fill="#7a1ea3"/>
<rect x="288.2" y="633.8" width="2.3" height="2.3" fill="#f7861f"/>
<rect x="282.3" y="631.7" width="2.3" height="2.3" fill="#7a1ea3"/>
<rect x="274.5" y="624.6" width="2.3" height="2.3" fill="#1a92a6"/>
<rect x="332.2" y="567.3" width="2.3" height="2.3" fill="#7a1ea3"/>
<rect x="332.2" y="561.5" width="2.3" height="2.3" fill="#1a92a6"/>
<rect x="334.8" y="567.2" width="2.3" height="2.3" fill="#7a1ea3"/>
<rect x="332.2" y="509.3" width="2.3" height="2.3" fill="#1a92a6"/>
<rect x="332.2" y="579.5" width="2.3" height="2.3" fill="#7a1ea3"/>
<rect x="332.2" y="587.6" width="2.3" height="2.3" fill="#1a92a6"/>
<rect x="332.2" y="523.4" width="2.3" height="2.3" fill="#1a92a6"/>
<rect x="332.2" y="556.5" width="2.3" height="2.3" fill="#f7861f"/>
<rect x="332.2" y="604.1" width="2.3" height="2.3" fill="#1a92a6"/>
<rect x="332.2" y="552.4" width="2.3" height="2.3" fill="#7a1ea3"/>
<rect x="332.2" y="575.7" width="2.3" height="2.3" fill="#1a92a6"/>
<rect x="330.8" y="565.6" width="2.3" height="2.3" fill="#7a1ea3"/>
<rect x="332.2" y="540.6" width="2.3" height="2.3" fill="#1a92a6"/>
<rect x="334.8" y="575.1" width="2.3" height="2.3" fill="#f7861f"/>
<rect x="334.2" y="586.4" width="2.3" height="2.3" fill="#f7861f"/>
<rect x="332.2" y="591.2" width="2.3" height="2.3" fill="#1a92a6"/>
<rect x="334.8" y="561.7" width="2.3" height="2.3" fill="#7a1ea3"/>
<rect x="332.2" y="597.4" width="2.3" height="2.3" fill="#1a92a6"/>
<rect x="332.2" y="585.2" width="2.3" height="2.3" fill="#f7861f"/>
<rect x="332.8" y="573.6" width="2.3" height="2.3" fill="#7a1ea3"/>
<rect x="332.2" y="594.2" width="2.3" height="2.3" fill="#7a1ea3"/>
<rect x="334.8" y="596.8" width="2.3" height="2.3" fill="#1a92a6"/>
<rect x="333.2" y="577.5" width="2.3" height="2.3" fill="#f7861f"/>
<rect x="331.8" y="571.7" width="2.3" height="2.3" fill="#f7861f"/>
<rect x="330.2" y="574.9" width="2.3" height="2.3" fill="#1a92a6"/>
<rect x="333.8" y="554.0" width="2.3" height="2.3" fill="#1a92a6"/>
<rect x="332.2" y="535.5" width="2.3" height="2.3" fill="#1a92a6"/>
<rect x="332.2" y="559.1" width="2.3" height="2.3" fill="#1a92a6"/>
<rect x="334.8" y="591.3" width="2.3" height="2.3" fill="#1a92a6"/>
<rect x="334.8" y="556.9" width="2.3" height="2.3" fill="#f7861f"/>
<rect x="330.2" y="568.2" width="2.3" height="2.3" fill="#f7861f"/>
<rect x="333.8" y="571.0" width="2.3" height="2.3" fill="#7a1ea3"/>
<rect x="334.2" y="580.2" width="2.3" height="2.3" fill="#f7861f"/>
<rect x="328.2" y="567.4" width="2.3" height="2.3" fill="#f7861f"/>
<rect x="332.2" y="601.3" width="2.3" height="2.3" fill="#f7861f"/>
<rect x="336.8" y="566.3" width="2.3" height="2.3" fill="#f7861f"/>
<rect x="332.2" y="545.2" width="2.3" height="2.3" fill="#7a1ea3"/>
<rect x="334.2" y="583.8" width="2.3" height="2.3" fill="#1a92a6"/>
<rect x="329.2" y="571.2" width="2.3" height="2.3" fill="#f7861f"/>
<rect x="334.2" y="551.2" width="2.3" height="2.3" fill="#7a1ea3"/>
<rect x="332.2" y="582.2" width="2.3" height="2.3" fill="#f7861f"/>
<rect x="329.8" y="591.5" width="2.3" height="2.3" fill="#1a92a6"/>
<rect x="332.2" y="549.7" width="2.3" height="2.3" fill="#1a92a6"/>
<rect x="330.2" y="581.3" width="2.3" height="2.3" fill="#1a92a6"/>
<rect x="329.8" y="561.5" width="2.3" height="2.3" fill="#f7861f"/>
<rect x="329.8" y="597.6" width="2.3" height="2.3" fill="#7a1ea3"/>
<rect x="329.8" y="556.3" width="2.3" height="2.3" fill="#7a1ea3"/>
<rect x="327.8" y="575.5" width="2.3" height="2.3" fill="#f7861f"/>
<rect x="333.2" y="565.0" width="2.3" height="2.3" fill="#1a92a6"/>
<rect x="329.8" y="587.7" width="2.3" height="2.3" fill="#7a1ea3"/>
<rect x="329.8" y="552.1" width="2.3" height="2.3" fill="#7a1ea3"/>
<rect x="336.8" y="586.6" width="2.3" height="2.3" fill="#1a92a6"/>
<rect x="336.2" y="571.5" width="2.3" height="2.3" fill="#f7861f"/>
<rect x="327.8" y="557.1" width="2.3" height="2.3" fill="#1a92a6"/>
<rect x="328.2" y="580.3" width="2.3" height="2.3" fill="#7a1ea3"/>
<rect x="327.2" y="572.3" width="2.3" height="2.3" fill="#1a92a6"/>
<rect x="338.2" y="572.7" width="2.3" height="2.3" fill="#1a92a6"/>
<rect x="330.2" y="584.6" width="2.3" height="2.3" fill="#7a1ea3"/>
<rect x="328.8" y="582.8" width="2.3" height="2.3" fill="#f7861f"/>
<rect x="337.2" y="575.2" width="2.3" height="2.3" fill="#7a1ea3"/>
<rect x="333.2" y="547.1" width="2.3" height="2.3" fill="#1a92a6"/>
<rect x="336.2" y="584.6" width="2.3" height="2.3" fill="#7a1ea3"/>
<rect x="332.2" y="532.0" width="2.3" height="2.3" fill="#1a92a6"/>
<rect x="338.2" y="570.3" width="2.3" height="2.3" fill="#7a1ea3"/>
<rect x="336.8" y="551.5" width="2.3" height="2.3" fill="#1a92a6"/>
<rect x="327.8" y="562.3" width="2.3" height="2.3" fill="#f7861f"/>
<rect x="334.2" y="510.1" width="2.3" height="2.3" fill="#f7861f"/>
<rect x="330.8" y="595.7" width="2.3" height="2.3" fill="#7a1ea3"/>
<rect x="336.8" y="561.0" width="2.3" height="2.3" fill="#7a1ea3"/>
<rect x="337.8" y="568.2" width="2.3" height="2.3" fill="#f7861f"/>
<rect x="337.2" y="597.4" width="2.3" height="2.3" fill="#f7861f"/>
<rect x="326.2" y="566.2" width="2.3" height="2.3" fill="#7a1ea3"/>
<rect x="325.8" y="570.8" width="2.3" height="2.3" fill="#f7861f"/>
<rect x="340.2" y="571.9" width="2.3" height="2.3" fill="#f7861f"/>
<rect x="328.2" y="585.2" width="2.3" height="2.3" fill="#7a1ea3"/>
<rect x="336.8" y="555.7" width="2.3" height="2.3" fill="#7a1ea3"/>
<rect x="334.2" y="549.0" width="2.3" height="2.3" fill="#7a1ea3"/>
<rect x="323.2" y="570.7" width="2.3" height="2.3" fill="#f7861f"/>
<rect x="338.2" y="562.7" width="2.3" height="2.3" fill="#f7861f"/>
<rect x="330.2" y="548.8" width="2.3" height="2.3" fill="#1a92a6"/>
<rect x="333.8" y="542.1" width="2.3" height="2.3" fill="#1a92a6"/>
<rect x="327.8" y="550.7" width="2.3" height="2.3" fill="#7a1ea3"/>
<rect x="334.8" y="544.8" width="2.3" height="2.3" fill="#7a1ea3"/>
<rect x="326.2" y="584.1" width="2.3" height="2.3" fill="#1a92a6"/>
<rect x="328.2" y="560.0" width="2.3" height="2.3" fill="#f7861f"/>
<rect x="339.2" y="565.8" width="2.3" height="2.3" fill="#7a1ea3"/>
<rect x="325.2" y="573.8" width="2.3" height="2.3" fill="#7a1ea3"/>
<rect x="330.2" y="541.4" width="2.3" height="2.3" fill="#7a1ea3"/>
<rect x="326.8" y="555.2" width="2.3" height="2.3" fill="#7a1ea3"/>
<rect x="341.8" y="570.1" width="2.3" height="2.3" fill="#1a92a6"/>
<rect x="327.2" y="588.2" width="2.3" height="2.3" fill="#f7861f"/>
<rect x="336.2" y="541.5" width="2.3" height="2.3" fill="#f7861f"/>
<rect x="324.2" y="566.9" width="2.3" height="2.3" fill="#7a1ea3"/>
<rect x="325.2" y="562.6" width="2.3" height="2.3" fill="#7a1ea3"/>
<rect x="340.9" y="572.0" width="2.3" height="2.3" fill="#7a1ea3"/>
<rect x="341.8" y="565.6" width="2.3" height="2.3" fill="#7a1ea3"/>
<rect x="338.8" y="584.8" width="2.3" height="2.3" fill="#1a92a6"/>
<rect x="339.2" y="551.0" width="2.3" height="2.3" fill="#f7861f"/>
<rect x="323.4" y="571.8" width="2.3" height="2.3" fill="#7a1ea3"/>
<rect x="334.9" y="570.4" width="2.3" height="2.3" fill="#1a92a6"/>
<rect x="331.3" y="572.8" width="2.3" height="2.3" fill="#1a92a6"/>
<rect x="327.2" y="569.3" width="2.3" height="2.3" fill="#1a92a6"/>
<rect x="330.2" y="544.5" width="2.3" height="2.3" fill="#7a1ea3"/>
<rect x="336.5" y="571.6" width="2.3" height="2.3" fill="#f7861f"/>
<rect x="334.8" y="594.5" width="2.3" height="2.3" fill="#f7861f"/>
<rect x="338.2" y="553.9" width="2.3" height="2.3" fill="#1a92a6"/>
<rect x="339.8" y="575.0" width="2.3" height="2.3" fill="#7a1ea3"/>
<rect x="331.8" y="563.5" width="2.3" height="2.3" fill="#f7861f"/>
<rect x="338.2" y="557.3" width="2.3" height="2.3" fill="#f7861f"/>
<rect x="334.8" y="531.5" width="2.3" height="2.3" fill="#1a92a6"/>
<rect x="324.8" y="556.2" width="2.3" height="2.3" fill="#7a1ea3"/>
<rect x="330.2" y="508.1" width="2.3" height="2.3" fill="#7a1ea3"/>
<rect x="341.1" y="568.9" width="2.3" height="2.3" fill="#7a1ea3"/>
<rect x="340.8" y="583.6" width="2.3" height="2.3" fill="#1a92a6"/>
<rect x="322.7" y="569.6" width="2.3" height="2.3" fill="#f7861f"/>
<rect x="330.2" y="578.0" width="2.3" height="2.3" fill="#f7861f"/>
<rect x="339.1" y="568.4" width="2.3" height="2.3" fill="#7a1ea3"/>
<rect x="342.0" y="573.3" width="2.3" height="2.3" fill="#7a1ea3"/>
<rect x="326.8" y="552.6" width="2.3" height="2.3" fill="#1a92a6"/>
<rect x="329.3" y="568.3" width="2.3" height="2.3" fill="#f7861f"/>
<rect x="325.8" y="586.4" width="2.3" height="2.3" fill="#f7861f"/>
<rect x="328.2" y="542.7" width="2.3" height="2.3" fill="#f7861f"/>
<rect x="336.8" y="569.3" width="2.3" height="2.3" fill="#f7861f"/>
<rect x="340.2" y="561.5" width="2.3" height="2.3" fill="#1a92a6"/>
<rect x="329.8" y="593.6" width="2.3" height="2.3" fill="#7a1ea3"/>
<rect x="341.3" y="570.1" width="2.3" height="2.3" fill="#7a1ea3"/>
<rect x="332.5" y="572.3" width="2.3" height="2.3" fill="#1a92a6"/>
<rect x="325.8" y="560.2" width="2.3" height="2.3" fill="#1a92a6"/>
<rect x="333.2" y="537.4" width="2.3" height="2.3" fill="#1a92a6"/>
<rect x="325.8" y="558.1" width="2.3" height="2.3" fill="#7a1ea3"/>
<rect x="338.2" y="588.2" width="2.3" height="2.3" fill="#1a92a6"/>
<rect x="335.8" y="577.0" width="2.3" height="2.3" fill="#7a1ea3"/>
<rect x="325.2" y="550.9" width="2.3" height="2.3" fill="#1a92a6"/>
<rect x="340.8" y="557.4" width="2.3" height="2.3" fill="#f7861f"/>
<rect x="323.8" y="583.9" width="2.3" height="2.3" fill="#7a1ea3"/>
<rect x="338.8" y="559.6" width="2.3" height="2.3" fill="#7a1ea3"/>
<rect x="322.8" y="573.9" width="2.3" height="2.3" fill="#7a1ea3"/>
<rect x="324.8" y="553.4" width="2.3" height="2.3" fill="#7a1ea3"/>
<rect x="328.8" y="574.1" width="2.3" height="2.3" fill="#1a92a6"/>
<rect x="334.8" y="559.4" width="2.3" height="2.3" fill="#1a92a6"/>
<rect x="334.8" y="601.3" width="2.3" height="2.3" fill="#7a1ea3"/>
<rect x="323.2" y="563.3" width="2.3" height="2.3" fill="#7a1ea3"/>
<rect x="342.2" y="584.3" width="2.3" height="2.3" fill="#7a1ea3"/>
<rect x="322.8" y="557.4" width="2.3" height="2.3" fill="#1a92a6"/>
<rect x="327.8" y="545.1" width="2.3" height="2.3" fill="#1a92a6"/>
<rect x="335.8" y="581.8" width="2.3" height="2.3" fill="#7a1ea3"/>
<rect x="331.0" y="556.6" width="2.3" height="2.3" fill="#1a92a6"/>
<rect x="337.8" y="581.1" width="2.3" height="2.3" fill="#f7861f"/>
<rect x="322.2" y="582.4" width="2.3" height="2.3" fill="#f7861f"/>
<rect x="334.8" y="604.1" width="2.3" height="2.3" fill="#1a92a6"/>
<rect x="327.8" y="578.3" width="2.3" height="2.3" fill="#1a92a6"/>
<rect x="342.2" y="559.1" width="2.3" height="2.3" fill="#f7861f"/>
<rect x="329.3" y="570.8" width="2.3" height="2.3" fill="#1a92a6"/>
<rect x="327.2" y="597.2" width="2.3" height="2.3" fill="#1a92a6"/>
<rect x="330.2" y="602.1" width="2.3" height="2.3" fill="#1a92a6"/>
<rect x="326.2" y="581.0" width="2.3" height="2.3" fill="#f7861f"/>
<rect x="336.3" y="583.3" width="2.3" height="2.3" fill="#f7861f"/>
<rect x="330.8" y="510.9" width="2.3" height="2.3" fill="#7a1ea3"/>
<rect x="329.2" y="604.1" width="2.3" height="2.3" fill="#1a92a6"/>
<rect x="382.4" y="632.2" width="2.3" height="2.3" fill="#f7861f"/>
<rect x="384.4" y="632.9" width="2.3" height="2.3" fill="#f7861f"/>
<rect x="382.4" y="628.2" width="2.3" height="2.3" fill="#7a1ea3"/>
<rect x="380.4" y="631.4" width="2.3" height="2.3" fill="#f7861f"/>
<rect x="386.4" y="631.9" width="2.3" height="2.3" fill="#f7861f"/>
<rect x="377.9" y="631.2" width="2.3" height="2.3" fill="#f7861f"/>
<rect x="384.4" y="629.4" width="2.3" height="2.3" fill="#7a1ea3"/>
<rect x="388.9" y="631.8" width="2.3" height="2.3" fill="#f7861f"/>
<rect x="375.9" y="631.8" width="2.3" height="2.3" fill="#f7861f"/>
<rect x="380.4" y="629.0" width="2.3" height="2.3" fill="#7a1ea3"/>
<rect x="391.4" y="631.3" width="2.3" height="2.3" fill="#f7861f"/>
<rect x="386.9" y="629.3" width="2.3" height="2.3" fill="#7a1ea3"/>
<rect x="382.4" y="620.4" width="2.3" height="2.3" fill="#1a92a6"/>
<rect x="377.9" y="629.0" width="2.3" height="2.3" fill="#7a1ea3"/>
<rect x="382.4" y="614.2" width="2.3" height="2.3" fill="#1a92a6"/>
<rect x="373.4" y="631.4" width="2.3" height="2.3" fill="#f7861f"/>
<rect x="375.2" y="631.5" width="2.3" height="2.3" fill="#f7861f"/>
<rect x="386.8" y="631.9" width="2.3" height="2.3" fill="#f7861f"/>
<rect x="388.9" y="628.5" width="2.3" height="2.3" fill="#7a1ea3"/>
<rect x="382.4" y="604.3" width="2.3" height="2.3" fill="#1a92a6"/>
<rect x="391.5" y="631.5" width="2.3" height="2.3" fill="#f7861f"/>
<rect x="380.6" y="631.0" width="2.3" height="2.3" fill="#f7861f"/>
<rect x="375.4" y="628.4" width="2.3" height="2.3" fill="#7a1ea3"/>
<rect x="391.4" y="629.1" width="2.3" height="2.3" fill="#7a1ea3"/>
<rect x="385.7" y="631.8" width="2.3" height="2.3" fill="#f7861f"/>
<rect x="390.2" y="631.2" width="2.3" height="2.3" fill="#f7861f"/>
<rect x="372.9" y="628.5" width="2.3" height="2.3" fill="#7a1ea3"/>
<rect x="375.1" y="629.7" width="2.3" height="2.3" fill="#7a1ea3"/>
<rect x="388.3" y="627.9" width="2.3" height="2.3" fill="#7a1ea3"/>
<rect x="381.8" y="628.5" width="2.3" height="2.3" fill="#7a1ea3"/>
<rect x="383.5" y="630.3" width="2.3" height="2.3" fill="#7a1ea3"/>
<rect x="391.3" y="629.0" width="2.3" height="2.3" fill="#7a1ea3"/>
<rect x="388.9" y="629.3" width="2.3" height="2.3" fill="#7a1ea3"/>
<rect x="374.7" y="629.2" width="2.3" height="2.3" fill="#7a1ea3"/>
<rect x="384.9" y="604.2" width="2.3" height="2.3" fill="#1a92a6"/>
<rect x="380.6" y="630.8" width="2.3" height="2.3" fill="#7a1ea3"/>
<rect x="386.0" y="631.8" width="2.3" height="2.3" fill="#f7861f"/>
<rect x="388.9" y="632.6" width="2.3" height="2.3" fill="#f7861f"/>
<rect x="375.2" y="632.4" width="2.3" height="2.3" fill="#f7861f"/>
<rect x="386.6" y="628.1" width="2.3" height="2.3" fill="#7a1ea3"/>
<rect x="382.4" y="616.6" width="2.3" height="2.3" fill="#1a92a6"/>
<rect x="371.9" y="632.9" width="2.3" height="2.3" fill="#f7861f"/>
<rect x="382.7" y="630.0" width="2.3" height="2.3" fill="#7a1ea3"/>
<rect x="373.5" y="632.2" width="2.3" height="2.3" fill="#f7861f"/>
<rect x="382.8" y="631.6" width="2.3" height="2.3" fill="#f7861f"/>
<rect x="384.4" y="621.8" width="2.3" height="2.3" fill="#1a92a6"/>
<rect x="381.3" y="628.9" width="2.3" height="2.3" fill="#7a1ea3"/>
<rect x="381.2" y="630.0" width="2.3" height="2.3" fill="#7a1ea3"/>
<rect x="377.5" y="629.5" width="2.3" height="2.3" fill="#7a1ea3"/>
<rect x="379.5" y="629.8" width="2.3" height="2.3" fill="#7a1ea3"/>
<rect x="382.4" y="608.1" width="2.3" height="2.3" fill="#1a92a6"/>
<rect x="387.8" y="631.9" width="2.3" height="2.3" fill="#f7861f"/>
<rect x="379.0" y="629.4" width="2.3" height="2.3" fill="#7a1ea3"/>
<rect x="382.4" y="623.1" width="2.3" height="2.3" fill="#1a92a6"/>
<rect x="382.4" y="625.7" width="2.3" height="2.3" fill="#1a92a6"/>
<rect x="389.9" y="631.7" width="2.3" height="2.3" fill="#f7861f"/>
<rect x="386.6" y="629.3" width="2.3" height="2.3" fill="#7a1ea3"/>
<rect x="387.7" y="629.6" width="2.3" height="2.3" fill="#7a1ea3"/>
<rect x="380.3" y="630.0" width="2.3" height="2.3" fill="#7a1ea3"/>
<rect x="375.5" y="631.5" width="2.3" height="2.3" fill="#f7861f"/>
<rect x="372.1" y="629.1" width="2.3" height="2.3" fill="#7a1ea3"/>
<rect x="380.4" y="628.3" width="2.3" height="2.3" fill="#7a1ea3"/>
<rect x="381.6" y="631.8" width="2.3" height="2.3" fill="#f7861f"/>
<rect x="379.9" y="630.3" width="2.3" height="2.3" fill="#7a1ea3"/>
<rect x="374.0" y="632.5" width="2.3" height="2.3" fill="#f7861f"/>
<rect x="372.8" y="631.8" width="2.3" height="2.3" fill="#f7861f"/>
<rect x="390.3" y="632.3" width="2.3" height="2.3" fill="#f7861f"/>
<rect x="380.1" y="631.7" width="2.3" height="2.3" fill="#f7861f"/>
<rect x="390.1" y="629.2" width="2.3" height="2.3" fill="#7a1ea3"/>
<rect x="389.3" y="628.6" width="2.3" height="2.3" fill="#7a1ea3"/>
<rect x="383.9" y="629.7" width="2.3" height="2.3" fill="#7a1ea3"/>
<rect x="390.0" y="632.9" width="2.3" height="2.3" fill="#f7861f"/>
<rect x="384.4" y="612.8" width="2.3" height="2.3" fill="#1a92a6"/>
<rect x="391.8" y="631.6" width="2.3" height="2.3" fill="#f7861f"/>
<rect x="384.4" y="606.9" width="2.3" height="2.3" fill="#1a92a6"/>
<rect x="385.2" y="629.3" width="2.3" height="2.3" fill="#7a1ea3"/>
<rect x="371.9" y="629.5" width="2.3" height="2.3" fill="#7a1ea3"/>
<rect x="385.3" y="629.1" width="2.3" height="2.3" fill="#7a1ea3"/>
<rect x="384.4" y="615.3" width="2.3" height="2.3" fill="#1a92a6"/>
<rect x="382.2" y="629.2" width="2.3" height="2.3" fill="#7a1ea3"/>
<rect x="388.5" y="629.5" width="2.3" height="2.3" fill="#7a1ea3"/>
<rect x="379.4" y="630.6" width="2.3" height="2.3" fill="#7a1ea3"/>
<rect x="380.4" y="608.8" width="2.3" height="2.3" fill="#1a92a6"/>
<rect x="386.4" y="628.1" width="2.3" height="2.3" fill="#7a1ea3"/>
<rect x="379.5" y="632.1" width="2.3" height="2.3" fill="#f7861f"/>
<rect x="384.1" y="632.3" width="2.3" height="2.3" fill="#f7861f"/>
<rect x="381.3" y="631.6" width="2.3" height="2.3" fill="#f7861f"/>
<rect x="376.3" y="631.7" width="2.3" height="2.3" fill="#f7861f"/>
<rect x="378.6" y="631.7" width="2.3" height="2.3" fill="#f7861f"/>
<rect x="373.2" y="629.4" width="2.3" height="2.3" fill="#7a1ea3"/>
<rect x="384.4" y="609.1" width="2.3" height="2.3" fill="#1a92a6"/>
<rect x="384.9" y="631.4" width="2.3" height="2.3" fill="#f7861f"/>
<rect x="390.6" y="629.4" width="2.3" height="2.3" fill="#7a1ea3"/>
<rect x="379.9" y="620.9" width="2.3" height="2.3" fill="#1a92a6"/>
<rect x="384.4" y="629.0" width="2.3" height="2.3" fill="#7a1ea3"/>
<rect x="380.9" y="612.6" width="2.3" height="2.3" fill="#1a92a6"/>
<rect x="375.4" y="629.2" width="2.3" height="2.3" fill="#7a1ea3"/>
<rect x="383.2" y="630.5" width="2.3" height="2.3" fill="#f7861f"/>
<rect x="377.3" y="632.7" width="2.3" height="2.3" fill="#f7861f"/>
<rect x="379.9" y="629.1" width="2.3" height="2.3" fill="#7a1ea3"/>
<rect x="371.9" y="629.6" width="2.3" height="2.3" fill="#7a1ea3"/>
<rect x="392.0" y="629.7" width="2.3" height="2.3" fill="#7a1ea3"/>
<rect x="384.4" y="626.6" width="2.3" height="2.3" fill="#1a92a6"/>
<rect x="382.8" y="629.2" width="2.3" height="2.3" fill="#7a1ea3"/>
<rect x="386.9" y="621.6" width="2.3" height="2.3" fill="#1a92a6"/>
<rect x="383.9" y="631.9" width="2.3" height="2.3" fill="#f7861f"/>
<rect x="379.9" y="616.1" width="2.3" height="2.3" fill="#1a92a6"/>
<rect x="373.8" y="629.1" width="2.3" height="2.3" fill="#7a1ea3"/>
<rect x="385.4" y="619.9" width="2.3" height="2.3" fill="#1a92a6"/>
<rect x="374.6" y="628.9" width="2.3" height="2.3" fill="#7a1ea3"/>
<rect x="378.4" y="612.5" width="2.3" height="2.3" fill="#1a92a6"/>
<rect x="386.9" y="608.7" width="2.3" height="2.3" fill="#1a92a6"/>
<rect x="390.4" y="628.4" width="2.3" height="2.3" fill="#7a1ea3"/>
<rect x="389.6" y="628.0" width="2.3" height="2.3" fill="#7a1ea3"/>
<rect x="386.0" y="629.0" width="2.3" height="2.3" fill="#7a1ea3"/>
<rect x="386.4" y="631.3" width="2.3" height="2.3" fill="#f7861f"/>
<rect x="391.4" y="631.1" width="2.3" height="2.3" fill="#f7861f"/>
<rect x="386.1" y="630.1" width="2.3" height="2.3" fill="#7a1ea3"/>
<rect x="384.5" y="629.0" width="2.3" height="2.3" fill="#7a1ea3"/>
<rect x="375.0" y="632.1" width="2.3" height="2.3" fill="#f7861f"/>
<rect x="376.7" y="631.8" width="2.3" height="2.3" fill="#f7861f"/>
<rect x="376.5" y="631.3" width="2.3" height="2.3" fill="#f7861f"/>
<rect x="377.9" y="619.8" width="2.3" height="2.3" fill="#1a92a6"/>
<rect x="372.8" y="631.4" width="2.3" height="2.3" fill="#f7861f"/>
<rect x="380.5" y="632.2" width="2.3" height="2.3" fill="#f7861f"/>
<rect x="372.8" y="627.8" width="2.3" height="2.3" fill="#7a1ea3"/>
<rect x="392.9" y="627.5" width="2.3" height="2.3" fill="#7a1ea3"/>
<rect x="390.9" y="631.6" width="2.3" height="2.3" fill="#f7861f"/>
<rect x="384.9" y="629.0" width="2.3" height="2.3" fill="#7a1ea3"/>
<rect x="378.9" y="629.4" width="2.3" height="2.3" fill="#7a1ea3"/>
<rect x="377.4" y="629.1" width="2.3" height="2.3" fill="#7a1ea3"/>
<rect x="387.3" y="628.5" width="2.3" height="2.3" fill="#7a1ea3"/>
<rect x="380.9" y="606.4" width="2.3" height="2.3" fill="#1a92a6"/>
<rect x="390.7" y="632.7" width="2.3" height="2.3" fill="#f7861f"/>
<rect x="392.7" y="628.1" width="2.3" height="2.3" fill="#7a1ea3"/>
<rect x="373.6" y="628.8" width="2.3" height="2.3" fill="#7a1ea3"/>
<rect x="381.2" y="628.5" width="2.3" height="2.3" fill="#7a1ea3"/>
<rect x="392.3" y="629.9" width="2.3" height="2.3" fill="#7a1ea3"/>
<rect x="384.2" y="632.3" width="2.3" height="2.3" fill="#f7861f"/>
<line x1="323.00" y1="567.70" x2="343.80" y2="567.70" stroke="#555" stroke-width="1.3" />
<line x1="273.50" y1="633.00" x2="292.80" y2="633.00" stroke="#555" stroke-width="1.0" />
<line x1="373.00" y1="630.00" x2="394.00" y2="630.00" stroke="#555" stroke-width="1.0" />
<line x1="53.60" y1="259.80" x2="53.60" y2="407.30" stroke="#000" stroke-width="1.3" />
<line x1="53.00" y1="406.70" x2="394.80" y2="406.70" stroke="#000" stroke-width="1.3" />
<line x1="50.20" y1="406.70" x2="53.60" y2="406.70" stroke="#000" stroke-width="1.2" />
<text x="47.6" y="409.7" font-size="8.4" text-anchor="end" fill="#111" >0</text>
<line x1="50.20" y1="382.28" x2="53.60" y2="382.28" stroke="#000" stroke-width="1.2" />
<text x="47.6" y="385.3" font-size="8.4" text-anchor="end" fill="#111" >3000</text>
<line x1="50.20" y1="357.87" x2="53.60" y2="357.87" stroke="#000" stroke-width="1.2" />
<text x="47.6" y="360.9" font-size="8.4" text-anchor="end" fill="#111" >6000</text>
<line x1="50.20" y1="333.45" x2="53.60" y2="333.45" stroke="#000" stroke-width="1.2" />
<text x="47.6" y="336.4" font-size="8.4" text-anchor="end" fill="#111" >9000</text>
<line x1="50.20" y1="309.03" x2="53.60" y2="309.03" stroke="#000" stroke-width="1.2" />
<text x="47.6" y="312.0" font-size="8.4" text-anchor="end" fill="#111" >12000</text>
<line x1="50.20" y1="284.62" x2="53.60" y2="284.62" stroke="#000" stroke-width="1.2" />
<text x="47.6" y="287.6" font-size="8.4" text-anchor="end" fill="#111" >15000</text>
<line x1="50.20" y1="260.20" x2="53.60" y2="260.20" stroke="#000" stroke-width="1.2" />
<text x="47.6" y="263.2" font-size="8.4" text-anchor="end" fill="#111" >18000</text>
<line x1="53.60" y1="406.70" x2="53.60" y2="410.20" stroke="#000" stroke-width="1.2" />
<text x="53.6" y="420.7" font-size="8.4" text-anchor="middle" fill="#111" >0</text>
<line x1="167.30" y1="406.70" x2="167.30" y2="410.20" stroke="#000" stroke-width="1.2" />
<text x="167.3" y="420.7" font-size="8.4" text-anchor="middle" fill="#111" >10</text>
<line x1="281.00" y1="406.70" x2="281.00" y2="410.20" stroke="#000" stroke-width="1.2" />
<text x="281.0" y="420.7" font-size="8.4" text-anchor="middle" fill="#111" >20</text>
<line x1="394.70" y1="406.70" x2="394.70" y2="410.20" stroke="#000" stroke-width="1.2" />
<text x="394.7" y="420.7" font-size="8.4" text-anchor="middle" fill="#111" >30</text>
<text x="223.8" y="435.6" font-size="10.3" text-anchor="middle" fill="#111" >Time (min)</text>
<text transform="translate(19.0,333.0) rotate(-90)" font-size="9.6" text-anchor="middle" fill="#111">mAU</text>
<text x="404.2" y="325.6" font-size="8.6" text-anchor="start" fill="#111" ><tspan font-style="italic">graS</tspan>::Tn Serum</text>
<text x="404.2" y="351.6" font-size="8.6" text-anchor="start" fill="#111" >WT Serum</text>
<text x="404.2" y="377.4" font-size="8.6" text-anchor="start" fill="#111" ><tspan font-style="italic">graS</tspan>::Tn TSB</text>
<text x="404.2" y="401.5" font-size="8.6" text-anchor="start" fill="#111" >WT TSB</text>
<polyline points="53.80,325.49 54.05,325.48 54.30,325.48 54.55,325.48 54.80,325.48 55.05,325.48 55.30,325.48 55.55,325.48 55.80,325.47 56.05,325.47 56.30,325.47 56.55,325.47 56.80,325.47 57.05,325.46 57.30,325.46 57.55,325.46 57.80,325.46 58.05,325.45 58.30,325.45 58.55,325.45 58.80,325.45 59.05,325.44 59.30,325.44 59.55,325.44 59.80,325.44 60.05,325.43 60.30,325.43 60.55,325.43 60.80,325.42 61.05,325.42 61.30,325.42 61.55,325.42 61.80,325.41 62.05,325.41 62.30,325.41 62.55,325.41 62.80,325.40 63.05,325.40 63.30,325.40 63.55,325.39 63.80,325.39 64.05,325.39 64.30,325.39 64.55,325.38 64.80,325.38 65.05,325.38 65.30,325.38 65.55,325.37 65.80,325.37 66.05,325.37 66.30,325.36 66.55,325.36 66.80,325.36 67.05,325.36 67.30,325.35 67.55,325.35 67.80,325.35 68.05,325.35 68.30,325.34 68.55,325.34 68.80,325.34 69.05,325.33 69.30,325.33 69.55,325.33 69.80,325.33 70.05,325.32 70.30,325.32 70.55,325.31 70.80,325.27 71.05,325.15 71.30,324.76 71.55,323.76 71.80,321.69 72.05,318.19 72.30,313.53 72.55,308.93 72.80,306.16 73.05,306.13 73.30,307.51 73.55,309.85 73.80,312.63 74.05,315.27 74.30,317.23 74.55,318.23 74.80,318.39 75.05,318.24 75.30,318.40 75.55,318.87 75.80,319.35 76.05,319.87 76.30,320.40 76.55,320.88 76.80,321.28 77.05,321.58 77.30,321.79 77.55,321.95 77.80,322.10 78.05,322.30 78.30,322.48 78.55,322.62 78.80,322.73 79.05,322.83 79.30,322.92 79.55,323.02 79.80,323.13 80.05,323.23 80.30,323.35 80.55,323.47 80.80,323.59 81.05,323.71 81.30,323.84 81.55,323.96 81.80,324.08 82.05,324.19 82.30,324.30 82.55,324.40 82.80,324.49 83.05,324.58 83.30,324.66 83.55,324.73 83.80,324.79 84.05,324.85 84.30,324.89 84.55,324.94 84.80,324.97 85.05,325.00 85.30,325.03 85.55,325.05 85.80,325.07 86.05,325.08 86.30,325.09 86.55,325.10 86.80,325.11 87.05,325.11 87.30,325.12 87.55,325.12 87.80,325.12 88.05,325.12 88.30,325.12 88.55,325.12 88.80,325.12 89.05,325.12 89.30,325.11 89.55,325.11 89.80,325.11 90.05,325.11 90.30,325.10 90.55,325.10 90.80,325.10 91.05,325.10 91.30,325.09 91.55,325.09 91.80,325.09 92.05,325.09 92.30,325.08 92.55,325.08 92.80,325.08 93.05,325.08 93.30,325.07 93.55,325.07 93.80,325.07 94.05,325.06 94.30,325.06 94.55,325.06 94.80,325.06 95.05,325.05 95.30,325.05 95.55,325.05 95.80,325.05 96.05,325.04 96.30,325.04 96.55,325.04 96.80,325.03 97.05,325.03 97.30,325.03 97.55,325.02 97.80,325.02 98.05,325.02 98.30,325.01 98.55,325.01 98.80,325.00 99.05,325.00 99.30,324.99 99.55,324.96 99.80,324.91 100.05,324.82 100.30,324.65 100.55,324.38 100.80,324.00 101.05,323.55 101.30,323.08 101.55,322.69 101.80,322.48 102.05,322.50 102.30,322.74 102.55,323.15 102.80,323.61 103.05,324.05 103.30,324.39 103.55,324.63 103.80,324.77 104.05,324.85 104.30,324.89 104.55,324.90 104.80,324.90 105.05,324.90 105.30,324.89 105.55,324.89 105.80,324.88 106.05,324.88 106.30,324.87 106.55,324.87 106.80,324.86 107.05,324.86 107.30,324.85 107.55,324.85 107.80,324.84 108.05,324.84 108.30,324.83 108.55,324.83 108.80,324.82 109.05,324.82 109.30,324.81 109.55,324.81 109.80,324.80 110.05,324.80 110.30,324.79 110.55,324.79 110.80,324.78 111.05,324.78 111.30,324.77 111.55,324.77 111.80,324.76 112.05,324.76 112.30,324.75 112.55,324.75 112.80,324.74 113.05,324.74 113.30,324.73 113.55,324.73 113.80,324.72 114.05,324.72 114.30,324.71 114.55,324.71 114.80,324.70 115.05,324.70 115.30,324.69 115.55,324.69 115.80,324.68 116.05,324.68 116.30,324.67 116.55,324.67 116.80,324.66 117.05,324.66 117.30,324.65 117.55,324.65 117.80,324.64 118.05,324.64 118.30,324.63 118.55,324.63 118.80,324.62 119.05,324.62 119.30,324.61 119.55,324.61 119.80,324.60 120.05,324.60 120.30,324.59 120.55,324.59 120.80,324.58 121.05,324.58 121.30,324.57 121.55,324.57 121.80,324.56 122.05,324.56 122.30,324.55 122.55,324.55 122.80,324.54 123.05,324.54 123.30,324.53 123.55,324.53 123.80,324.52 124.05,324.52 124.30,324.51 124.55,324.51 124.80,324.50 125.05,324.50 125.30,324.49 125.55,324.49 125.80,324.48 126.05,324.48 126.30,324.47 126.55,324.47 126.80,324.46 127.05,324.46 127.30,324.45 127.55,324.45 127.80,324.44 128.05,324.44 128.30,324.43 128.55,324.43 128.80,324.42 129.05,324.42 129.30,324.41 129.55,324.41 129.80,324.40 130.05,324.40 130.30,324.39 130.55,324.39 130.80,324.38 131.05,324.38 131.30,324.37 131.55,324.37 131.80,324.36 132.05,324.35 132.30,324.35 132.55,324.34 132.80,324.33 133.05,324.33 133.30,324.32 133.55,324.31 133.80,324.30 134.05,324.30 134.30,324.29 134.55,324.28 134.80,324.27 135.05,324.26 135.30,324.26 135.55,324.25 135.80,324.24 136.05,324.23 136.30,324.22 136.55,324.21 136.80,324.18 137.05,324.07 137.30,323.73 137.55,322.86 137.80,321.16 138.05,318.82 138.30,316.76 138.55,316.17 138.80,317.44 139.05,319.74 139.30,321.87 139.55,323.21 139.80,323.80 140.05,324.00 140.30,324.04 140.55,324.04 140.80,324.03 141.05,324.02 141.30,324.01 141.55,323.99 141.80,323.98 142.05,323.97 142.30,323.93 142.55,323.83 142.80,323.49 143.05,322.61 143.30,320.91 143.55,318.57 143.80,316.50 144.05,315.92 144.30,317.18 144.55,319.49 144.80,321.62 145.05,322.95 145.30,323.55 145.55,323.74 145.80,323.78 146.05,323.78 146.30,323.77 146.55,323.75 146.80,323.74 147.05,323.72 147.30,323.70 147.55,323.62 147.80,323.30 148.05,322.00 148.30,317.99 148.55,308.63 148.80,292.65 149.05,273.81 149.30,261.23 149.55,262.75 149.80,277.35 150.05,296.20 150.30,310.91 150.55,318.96 150.80,322.19 151.05,323.16 151.30,323.37 151.55,323.38 151.80,323.37 152.05,323.35 152.30,323.32 152.55,323.30 152.80,323.28 153.05,323.25 153.30,323.23 153.55,323.20 153.80,323.18 154.05,323.15 154.30,323.12 154.55,323.10 154.80,323.07 155.05,323.04 155.30,323.02 155.55,322.99 155.80,322.96 156.05,322.93 156.30,322.91 156.55,322.87 156.80,322.84 157.05,322.79 157.30,322.74 157.55,322.68 157.80,322.59 158.05,322.49 158.30,322.36 158.55,322.20 158.80,322.02 159.05,321.80 159.30,321.56 159.55,321.30 159.80,321.03 160.05,320.77 160.30,320.53 160.55,320.33 160.80,320.18 161.05,320.09 161.30,320.07 161.55,320.12 161.80,320.24 162.05,320.41 162.30,320.62 162.55,320.85 162.80,321.09 163.05,321.30 163.30,321.44 163.55,321.41 163.80,321.05 164.05,320.22 164.30,318.89 164.55,317.36 164.80,316.18 165.05,315.90 165.30,316.67 165.55,318.15 165.80,319.72 166.05,320.79 166.30,320.87 166.55,319.40 166.80,315.93 167.05,310.97 167.30,306.58 167.55,305.34 167.80,308.09 168.05,313.04 168.30,317.57 168.55,320.11 168.80,320.33 169.05,318.25 169.30,314.05 169.55,308.98 169.80,305.58 170.05,306.00 170.30,309.95 170.55,315.04 170.80,318.95 171.05,320.83 171.30,320.78 171.55,318.87 171.80,315.22 172.05,310.85 172.30,307.92 172.55,308.28 172.80,311.68 173.05,316.07 173.30,319.50 173.55,321.37 173.80,322.13 174.05,322.36 174.30,322.41 174.55,322.40 174.80,322.31 175.05,321.89 175.30,320.43 175.55,316.61 175.80,309.16 176.05,298.86 176.30,289.82 176.55,287.28 176.80,292.92 177.05,303.13 177.30,312.59 177.55,318.51 177.80,321.20 178.05,322.11 178.30,322.34 178.55,322.39 178.80,322.39 179.05,322.39 179.30,322.39 179.55,322.39 179.80,322.39 180.05,322.39 180.30,322.38 180.55,322.38 180.80,322.38 181.05,322.38 181.30,322.38 181.55,322.37 181.80,322.37 182.05,322.36 182.30,322.34 182.55,322.31 182.80,322.25 183.05,322.17 183.30,322.06 183.55,321.91 183.80,321.73 184.05,321.53 184.30,321.34 184.55,321.18 184.80,321.08 185.05,321.06 185.30,321.11 185.55,321.24 185.80,321.41 186.05,321.60 186.30,321.79 186.55,321.96 186.80,322.09 187.05,322.19 187.30,322.25 187.55,322.29 187.80,322.32 188.05,322.33 188.30,322.33 188.55,322.33 188.80,322.33 189.05,322.33 189.30,322.33 189.55,322.33 189.80,322.33 190.05,322.33 190.30,322.33 190.55,322.32 190.80,322.32 191.05,322.31 191.30,322.31 191.55,322.30 191.80,322.30 192.05,322.29 192.30,322.28 192.55,322.27 192.80,322.26 193.05,322.25 193.30,322.24 193.55,322.23 193.80,322.22 194.05,322.21 194.30,322.19 194.55,322.18 194.80,322.16 195.05,322.13 195.30,322.10 195.55,322.04 195.80,321.96 196.05,321.83 196.30,321.65 196.55,321.40 196.80,321.08 197.05,320.71 197.30,320.30 197.55,319.91 197.80,319.58 198.05,319.34 198.30,319.23 198.55,319.24 198.80,319.33 199.05,319.46 199.30,319.60 199.55,319.70 199.80,319.78 200.05,319.83 200.30,319.90 200.55,319.99 200.80,320.13 201.05,320.32 201.30,320.52 201.55,320.73 201.80,320.92 202.05,321.07 202.30,321.17 202.55,321.24 202.80,321.26 203.05,321.25 203.30,321.22 203.55,321.14 203.80,321.04 204.05,320.89 204.30,320.70 204.55,320.47 204.80,320.21 205.05,319.96 205.30,319.74 205.55,319.58 205.80,319.51 206.05,319.53 206.30,319.63 206.55,319.79 206.80,319.99 207.05,320.19 207.30,320.36 207.55,320.50 207.80,320.60 208.05,320.66 208.30,320.69 208.55,320.70 208.80,320.69 209.05,320.68 209.30,320.66 209.55,320.64 209.80,320.62 210.05,320.60 210.30,320.59 210.55,320.57 210.80,320.55 211.05,320.53 211.30,320.49 211.55,320.43 211.80,320.27 212.05,319.92 212.30,319.19 212.55,317.90 212.80,315.92 213.05,313.37 213.30,310.71 213.55,308.66 213.80,307.87 214.05,308.64 214.30,310.67 214.55,313.29 214.80,315.80 215.05,317.67 215.30,318.67 215.55,318.68 215.80,317.57 216.05,315.27 216.30,312.07 216.55,308.88 216.80,306.95 217.05,307.17 217.30,309.43 217.55,312.73 217.80,315.84 218.05,318.07 218.30,319.32 218.55,319.89 218.80,320.10 219.05,320.15 219.30,320.14 219.55,320.09 219.80,320.00 220.05,319.86 220.30,319.65 220.55,319.39 220.80,319.10 221.05,318.83 221.30,318.65 221.55,318.60 221.80,318.69 222.05,318.88 222.30,319.14 222.55,319.38 222.80,319.56 223.05,319.64 223.30,319.60 223.55,319.45 223.80,319.17 224.05,318.78 224.30,318.29 224.55,317.76 224.80,317.24 225.05,316.81 225.30,316.53 225.55,316.46 225.80,316.60 226.05,316.93 226.30,317.38 226.55,317.90 226.80,318.40 227.05,318.84 227.30,319.19 227.55,319.44 227.80,319.61 228.05,319.71 228.30,319.77 228.55,319.79 228.80,319.80 229.05,319.79 229.30,319.78 229.55,319.77 229.80,319.76 230.05,319.74 230.30,319.72 230.55,319.69 230.80,319.64 231.05,319.56 231.30,319.45 231.55,319.29 231.80,319.05 232.05,318.75 232.30,318.40 232.55,318.00 232.80,317.62 233.05,317.30 233.30,317.10 233.55,317.03 233.80,317.12 234.05,317.34 234.30,317.66 234.55,318.01 234.80,318.34 235.05,318.61 235.30,318.79 235.55,318.85 235.80,318.79 236.05,318.58 236.30,318.22 236.55,317.71 236.80,317.09 237.05,316.40 237.30,315.73 237.55,315.17 237.80,314.80 238.05,314.70 238.30,314.88 238.55,315.29 238.80,315.87 239.05,316.53 239.30,317.17 239.55,317.73 239.80,318.17 240.05,318.50 240.30,318.71 240.55,318.83 240.80,318.89 241.05,318.90 241.30,318.84 241.55,318.71 241.80,318.44 242.05,317.94 242.30,317.15 242.55,316.01 242.80,314.59 243.05,313.07 243.30,311.74 243.55,310.92 243.80,310.83 244.05,311.48 244.30,312.69 244.55,314.16 244.80,315.58 245.05,316.74 245.30,317.54 245.55,317.96 245.80,317.89 246.05,317.01 246.30,314.80 246.55,310.84 246.80,305.63 247.05,300.93 247.30,298.99 247.55,300.89 247.80,305.55 248.05,310.74 248.30,314.68 248.55,316.92 248.80,317.89 249.05,318.22 249.30,318.30 249.55,318.30 249.80,318.28 250.05,318.26 250.30,318.23 250.55,318.21 250.80,318.18 251.05,318.16 251.30,318.12 251.55,318.08 251.80,318.02 252.05,317.95 252.30,317.85 252.55,317.72 252.80,317.57 253.05,317.40 253.30,317.22 253.55,317.06 253.80,316.94 254.05,316.87 254.30,316.87 254.55,316.92 254.80,317.01 255.05,317.13 255.30,317.25 255.55,317.36 255.80,317.44 256.05,317.48 256.30,317.49 256.55,317.47 256.80,317.40 257.05,317.30 257.30,317.15 257.55,316.97 257.80,316.75 258.05,316.49 258.30,316.22 258.55,315.94 258.80,315.69 259.05,315.49 259.30,315.35 259.55,315.30 259.80,315.33 260.05,315.44 260.30,315.62 260.55,315.83 260.80,316.05 261.05,316.27 261.30,316.46 261.55,316.62 261.80,316.74 262.05,316.82 262.30,316.87 262.55,316.89 262.80,316.87 263.05,316.80 263.30,316.65 263.55,316.37 263.80,315.90 264.05,315.20 264.30,314.28 264.55,313.22 264.80,312.21 265.05,311.45 265.30,311.11 265.55,311.22 265.80,311.68 266.05,312.23 266.30,312.60 266.55,312.61 266.80,312.25 267.05,311.66 267.30,311.11 267.55,310.85 267.80,311.05 268.05,311.68 268.30,312.61 268.55,313.61 268.80,314.52 269.05,315.21 269.30,315.67 269.55,315.94 269.80,316.06 270.05,316.11 270.30,316.11 270.55,316.09 270.80,316.07 271.05,316.04 271.30,316.01 271.55,315.98 271.80,315.94 272.05,315.91 272.30,315.88 272.55,315.85 272.80,315.82 273.05,315.79 273.30,315.76 273.55,315.72 273.80,315.69 274.05,315.66 274.30,315.63 274.55,315.59 274.80,315.56 275.05,315.53 275.30,315.49 275.55,315.46 275.80,315.43 276.05,315.39 276.30,315.36 276.55,315.33 276.80,315.29 277.05,315.26 277.30,315.23 277.55,315.19 277.80,315.16 278.05,315.13 278.30,315.09 278.55,315.05 278.80,315.01 279.05,314.96 279.30,314.89 279.55,314.80 279.80,314.67 280.05,314.50 280.30,314.27 280.55,313.99 280.80,313.67 281.05,313.34 281.30,313.03 281.55,312.79 281.80,312.65 282.05,312.63 282.30,312.73 282.55,312.93 282.80,313.19 283.05,313.46 283.30,313.71 283.55,313.91 283.80,314.05 284.05,314.13 284.30,314.14 284.55,314.10 284.80,314.01 285.05,313.87 285.30,313.71 285.55,313.54 285.80,313.38 286.05,313.26 286.30,313.18 286.55,313.16 286.80,313.21 287.05,313.30 287.30,313.42 287.55,313.55 287.80,313.68 288.05,313.78 288.30,313.85 288.55,313.90 288.80,313.92 289.05,313.93 289.30,313.93 289.55,313.92 289.80,313.91 290.05,313.90 290.30,313.88 290.55,313.87 290.80,313.85 291.05,313.84 291.30,313.82 291.55,313.80 291.80,313.79 292.05,313.76 292.30,313.74 292.55,313.69 292.80,313.63 293.05,313.54 293.30,313.41 293.55,313.23 293.80,313.00 294.05,312.73 294.30,312.44 294.55,312.17 294.80,311.95 295.05,311.82 295.30,311.79 295.55,311.88 295.80,312.06 296.05,312.30 296.30,312.56 296.55,312.81 296.80,313.03 297.05,313.20 297.30,313.32 297.55,313.40 297.80,313.45 298.05,313.48 298.30,313.50 298.55,313.50 298.80,313.51 299.05,313.52 299.30,313.52 299.55,313.53 299.80,313.54 300.05,313.54 300.30,313.55 300.55,313.56 300.80,313.57 301.05,313.59 301.30,313.60 301.55,313.62 301.80,313.63 302.05,313.65 302.30,313.67 302.55,313.69 302.80,313.71 303.05,313.73 303.30,313.76 303.55,313.78 303.80,313.81 304.05,313.83 304.30,313.86 304.55,313.89 304.80,313.92 305.05,313.95 305.30,313.98 305.55,314.02 305.80,314.05 306.05,314.08 306.30,314.11 306.55,314.15 306.80,314.18 307.05,314.21 307.30,314.25 307.55,314.28 307.80,314.31 308.05,314.34 308.30,314.38 308.55,314.41 308.80,314.44 309.05,314.48 309.30,314.51 309.55,314.54 309.80,314.57 310.05,314.61 310.30,314.64 310.55,314.67 310.80,314.71 311.05,314.74 311.30,314.77 311.55,314.81 311.80,314.84 312.05,314.88 312.30,314.91 312.55,314.95 312.80,314.98 313.05,315.02 313.30,315.05 313.55,315.09 313.80,315.13 314.05,315.16 314.30,315.20 314.55,315.24 314.80,315.28 315.05,315.32 315.30,315.35 315.55,315.39 315.80,315.43 316.05,315.47 316.30,315.51 316.55,315.55 316.80,315.59 317.05,315.63 317.30,315.67 317.55,315.72 317.80,315.76 318.05,315.80 318.30,315.84 318.55,315.88 318.80,315.93 319.05,315.97 319.30,316.01 319.55,316.06 319.80,316.10 320.05,316.15 320.30,316.19 320.55,316.23 320.80,316.28 321.05,316.33 321.30,316.37 321.55,316.42 321.80,316.46 322.05,316.51 322.30,316.56 322.55,316.60 322.80,316.65 323.05,316.69 323.30,316.74 323.55,316.78 323.80,316.83 324.05,316.88 324.30,316.92 324.55,316.97 324.80,317.01 325.05,317.06 325.30,317.10 325.55,317.15 325.80,317.20 326.05,317.24 326.30,317.29 326.55,317.33 326.80,317.38 327.05,317.43 327.30,317.47 327.55,317.52 327.80,317.56 328.05,317.61 328.30,317.65 328.55,317.70 328.80,317.75 329.05,317.79 329.30,317.84 329.55,317.88 329.80,317.93 330.05,317.98 330.30,318.02 330.55,318.07 330.80,318.11 331.05,318.16 331.30,318.20 331.55,318.25 331.80,318.29 332.05,318.34 332.30,318.39 332.55,318.43 332.80,318.48 333.05,318.52 333.30,318.57 333.55,318.61 333.80,318.66 334.05,318.70 334.30,318.75 334.55,318.79 334.80,318.84 335.05,318.88 335.30,318.93 335.55,318.97 335.80,319.02 336.05,319.06 336.30,319.11 336.55,319.15 336.80,319.20 337.05,319.24 337.30,319.29 337.55,319.33 337.80,319.38 338.05,319.42 338.30,319.46 338.55,319.51 338.80,319.55 339.05,319.60 339.30,319.64 339.55,319.69 339.80,319.73 340.05,319.78 340.30,319.82 340.55,319.86 340.80,319.91 341.05,319.95 341.30,320.00 341.55,320.04 341.80,320.09 342.05,320.13 342.30,320.18 342.55,320.22 342.80,320.26 343.05,320.31 343.30,320.35 343.55,320.40 343.80,320.44 344.05,320.49 344.30,320.53 344.55,320.58 344.80,320.62 345.05,320.66 345.30,320.71 345.55,320.75 345.80,320.80 346.05,320.84 346.30,320.89 346.55,320.93 346.80,320.98 347.05,321.02 347.30,321.06 347.55,321.11 347.80,321.15 348.05,321.19 348.30,321.23 348.55,321.28 348.80,321.32 349.05,321.36 349.30,321.40 349.55,321.44 349.80,321.48 350.05,321.52 350.30,321.55 350.55,321.59 350.80,321.63 351.05,321.67 351.30,321.70 351.55,321.74 351.80,321.77 352.05,321.81 352.30,321.84 352.55,321.88 352.80,321.91 353.05,321.94 353.30,321.97 353.55,322.01 353.80,322.04 354.05,322.07 354.30,322.10 354.55,322.13 354.80,322.16 355.05,322.19 355.30,322.22 355.55,322.25 355.80,322.27 356.05,322.30 356.30,322.33 356.55,322.35 356.80,322.38 357.05,322.41 357.30,322.43 357.55,322.45 357.80,322.48 358.05,322.50 358.30,322.53 358.55,322.56 358.80,322.58 359.05,322.61 359.30,322.63 359.55,322.65 359.80,322.68 360.05,322.70 360.30,322.73 360.55,322.75 360.80,322.78 361.05,322.80 361.30,322.83 361.55,322.85 361.80,322.88 362.05,322.90 362.30,322.93 362.55,322.95 362.80,322.98 363.05,323.00 363.30,323.03 363.55,323.05 363.80,323.08 364.05,323.10 364.30,323.13 364.55,323.15 364.80,323.18 365.05,323.20 365.30,323.23 365.55,323.25 365.80,323.28 366.05,323.30 366.30,323.32 366.55,323.34 366.80,323.37 367.05,323.39 367.30,323.41 367.55,323.43 367.80,323.45 368.05,323.47 368.30,323.49 368.55,323.51 368.80,323.52 369.05,323.54 369.30,323.56 369.55,323.58 369.80,323.59 370.05,323.61 370.30,323.62 370.55,323.64 370.80,323.65 371.05,323.67 371.30,323.68 371.55,323.69 371.80,323.70 372.05,323.72 372.30,323.73 372.55,323.74 372.80,323.75 373.05,323.76 373.30,323.77 373.55,323.78 373.80,323.79 374.05,323.80 374.30,323.81 374.55,323.81 374.80,323.82 375.05,323.83 375.30,323.83 375.55,323.84 375.80,323.84 376.05,323.85 376.30,323.86 376.55,323.86 376.80,323.87 377.05,323.88 377.30,323.88 377.55,323.89 377.80,323.89 378.05,323.89 378.30,323.90 378.55,323.90 378.80,323.90 379.05,323.90 379.30,323.91 379.55,323.91 379.80,323.91 380.05,323.90 380.30,323.90 380.55,323.90 380.80,323.90 381.05,323.90 381.30,323.89 381.55,323.89 381.80,323.88 382.05,323.88 382.30,323.87 382.55,323.87 382.80,323.86 383.05,323.85 383.30,323.84 383.55,323.83 383.80,323.82 384.05,323.81 384.30,323.80 384.55,323.79 384.80,323.78 385.05,323.77 385.30,323.76 385.55,323.74 385.80,323.73 386.05,323.71 386.30,323.70 386.55,323.68 386.80,323.67 387.05,323.65 387.30,323.63 387.55,323.62 387.80,323.60 388.05,323.58 388.30,323.56 388.55,323.55 388.80,323.53 389.05,323.51 389.30,323.49 389.55,323.48 389.80,323.46 390.05,323.44 390.30,323.43 390.55,323.41 390.80,323.40 391.05,323.38 391.30,323.37 391.55,323.35 391.80,323.34 392.05,323.33 392.30,323.31 392.55,323.30 392.80,323.29 393.05,323.28 393.30,323.27 393.55,323.26 393.80,323.25 394.05,323.24 394.30,323.23 394.55,323.22" fill="none" stroke="#ff2b2b" stroke-width="1.0" stroke-linejoin="round"/>
<polyline points="53.80,349.79 54.05,349.79 54.30,349.78 54.55,349.78 54.80,349.78 55.05,349.78 55.30,349.78 55.55,349.78 55.80,349.78 56.05,349.77 56.30,349.77 56.55,349.77 56.80,349.77 57.05,349.77 57.30,349.76 57.55,349.76 57.80,349.76 58.05,349.76 58.30,349.76 58.55,349.75 58.80,349.75 59.05,349.75 59.30,349.75 59.55,349.74 59.80,349.74 60.05,349.74 60.30,349.74 60.55,349.73 60.80,349.73 61.05,349.73 61.30,349.73 61.55,349.72 61.80,349.72 62.05,349.72 62.30,349.72 62.55,349.71 62.80,349.71 63.05,349.71 63.30,349.71 63.55,349.70 63.80,349.70 64.05,349.70 64.30,349.70 64.55,349.69 64.80,349.69 65.05,349.69 65.30,349.69 65.55,349.68 65.80,349.68 66.05,349.68 66.30,349.68 66.55,349.67 66.80,349.67 67.05,349.67 67.30,349.67 67.55,349.66 67.80,349.66 68.05,349.66 68.30,349.66 68.55,349.65 68.80,349.65 69.05,349.65 69.30,349.65 69.55,349.64 69.80,349.64 70.05,349.64 70.30,349.64 70.55,349.63 70.80,349.62 71.05,349.57 71.30,349.43 71.55,349.06 71.80,348.30 72.05,347.01 72.30,345.26 72.55,343.45 72.80,342.19 73.05,341.86 73.30,342.38 73.55,343.24 73.80,343.91 74.05,344.18 74.30,344.16 74.55,344.05 74.80,343.88 75.05,343.52 75.30,342.81 75.55,341.89 75.80,341.25 76.05,341.44 76.30,342.65 76.55,344.53 76.80,346.45 77.05,347.94 77.30,348.85 77.55,349.30 77.80,349.48 78.05,349.54 78.30,349.55 78.55,349.55 78.80,349.54 79.05,349.50 79.30,349.39 79.55,349.14 79.80,348.65 80.05,347.89 80.30,346.99 80.55,346.24 80.80,345.93 81.05,346.23 81.30,346.99 81.55,347.88 81.80,348.63 82.05,349.11 82.30,349.36 82.55,349.47 82.80,349.50 83.05,349.51 83.30,349.51 83.55,349.51 83.80,349.50 84.05,349.50 84.30,349.50 84.55,349.50 84.80,349.49 85.05,349.49 85.30,349.49 85.55,349.49 85.80,349.48 86.05,349.48 86.30,349.48 86.55,349.48 86.80,349.47 87.05,349.47 87.30,349.47 87.55,349.47 87.80,349.47 88.05,349.46 88.30,349.46 88.55,349.46 88.80,349.46 89.05,349.45 89.30,349.45 89.55,349.45 89.80,349.45 90.05,349.44 90.30,349.44 90.55,349.44 90.80,349.44 91.05,349.43 91.30,349.43 91.55,349.43 91.80,349.43 92.05,349.42 92.30,349.42 92.55,349.42 92.80,349.42 93.05,349.41 93.30,349.41 93.55,349.41 93.80,349.41 94.05,349.40 94.30,349.40 94.55,349.40 94.80,349.40 95.05,349.39 95.30,349.39 95.55,349.39 95.80,349.39 96.05,349.38 96.30,349.38 96.55,349.38 96.80,349.38 97.05,349.37 97.30,349.37 97.55,349.37 97.80,349.37 98.05,349.36 98.30,349.36 98.55,349.36 98.80,349.36 99.05,349.35 99.30,349.35 99.55,349.35 99.80,349.35 100.05,349.34 100.30,349.34 100.55,349.33 100.80,349.31 101.05,349.28 101.30,349.24 101.55,349.16 101.80,349.05 102.05,348.89 102.30,348.68 102.55,348.44 102.80,348.18 103.05,347.94 103.30,347.74 103.55,347.63 103.80,347.62 104.05,347.71 104.30,347.88 104.55,348.12 104.80,348.37 105.05,348.61 105.30,348.82 105.55,348.98 105.80,349.10 106.05,349.18 106.30,349.22 106.55,349.25 106.80,349.26 107.05,349.27 107.30,349.27 107.55,349.27 107.80,349.27 108.05,349.27 108.30,349.26 108.55,349.26 108.80,349.26 109.05,349.26 109.30,349.25 109.55,349.25 109.80,349.25 110.05,349.25 110.30,349.24 110.55,349.24 110.80,349.24 111.05,349.24 111.30,349.23 111.55,349.23 111.80,349.23 112.05,349.23 112.30,349.22 112.55,349.22 112.80,349.22 113.05,349.22 113.30,349.21 113.55,349.21 113.80,349.21 114.05,349.21 114.30,349.20 114.55,349.20 114.80,349.20 115.05,349.20 115.30,349.19 115.55,349.19 115.80,349.19 116.05,349.19 116.30,349.18 116.55,349.18 116.80,349.18 117.05,349.18 117.30,349.17 117.55,349.17 117.80,349.17 118.05,349.17 118.30,349.16 118.55,349.16 118.80,349.16 119.05,349.16 119.30,349.15 119.55,349.15 119.80,349.15 120.05,349.15 120.30,349.14 120.55,349.14 120.80,349.14 121.05,349.14 121.30,349.13 121.55,349.13 121.80,349.13 122.05,349.13 122.30,349.13 122.55,349.12 122.80,349.12 123.05,349.12 123.30,349.12 123.55,349.11 123.80,349.11 124.05,349.11 124.30,349.11 124.55,349.10 124.80,349.10 125.05,349.10 125.30,349.10 125.55,349.09 125.80,349.09 126.05,349.09 126.30,349.09 126.55,349.08 126.80,349.08 127.05,349.08 127.30,349.08 127.55,349.07 127.80,349.07 128.05,349.07 128.30,349.07 128.55,349.06 128.80,349.06 129.05,349.06 129.30,349.06 129.55,349.05 129.80,349.05 130.05,349.05 130.30,349.05 130.55,349.04 130.80,349.04 131.05,349.03 131.30,349.03 131.55,349.02 131.80,349.02 132.05,349.01 132.30,349.00 132.55,348.99 132.80,348.98 133.05,348.97 133.30,348.97 133.55,348.95 133.80,348.94 134.05,348.93 134.30,348.92 134.55,348.91 134.80,348.90 135.05,348.88 135.30,348.87 135.55,348.85 135.80,348.84 136.05,348.82 136.30,348.81 136.55,348.79 136.80,348.77 137.05,348.75 137.30,348.73 137.55,348.71 137.80,348.66 138.05,348.54 138.30,348.18 138.55,347.38 138.80,346.03 139.05,344.44 139.30,343.37 139.55,343.48 139.80,344.67 140.05,346.22 140.30,347.42 140.55,348.07 140.80,348.31 141.05,348.37 141.30,348.37 141.55,348.34 141.80,348.32 142.05,348.29 142.30,348.27 142.55,348.24 142.80,348.22 143.05,348.18 143.30,348.11 143.55,347.91 143.80,347.40 144.05,346.37 144.30,344.86 144.55,343.37 144.80,342.72 145.05,343.32 145.30,344.76 145.55,346.23 145.80,347.20 146.05,347.67 146.30,347.82 146.55,347.84 146.80,347.83 147.05,347.81 147.30,347.78 147.55,347.76 147.80,347.71 148.05,347.56 148.30,346.95 148.55,345.02 148.80,340.24 149.05,331.53 149.30,320.39 149.55,311.75 149.80,310.82 150.05,318.21 150.30,329.29 150.55,338.68 150.80,344.17 151.05,346.51 151.30,347.25 151.55,347.41 151.80,347.43 152.05,347.42 152.30,347.40 152.55,347.39 152.80,347.37 153.05,347.36 153.30,347.34 153.55,347.33 153.80,347.31 154.05,347.30 154.30,347.29 154.55,347.27 154.80,347.26 155.05,347.25 155.30,347.24 155.55,347.22 155.80,347.21 156.05,347.20 156.30,347.19 156.55,347.18 156.80,347.17 157.05,347.16 157.30,347.14 157.55,347.13 157.80,347.12 158.05,347.10 158.30,347.07 158.55,347.04 158.80,347.00 159.05,346.94 159.30,346.85 159.55,346.74 159.80,346.59 160.05,346.40 160.30,346.16 160.55,345.87 160.80,345.53 161.05,345.16 161.30,344.76 161.55,344.35 161.80,343.96 162.05,343.60 162.30,343.31 162.55,343.10 162.80,342.99 163.05,342.98 163.30,343.04 163.55,343.14 163.80,343.22 164.05,343.22 164.30,343.09 164.55,342.81 164.80,342.45 165.05,342.12 165.30,341.98 165.55,342.11 165.80,342.51 166.05,342.96 166.30,343.03 166.55,342.14 166.80,339.97 167.05,336.96 167.30,334.42 167.55,333.83 167.80,335.67 168.05,339.03 168.30,342.40 168.55,344.74 168.80,345.75 169.05,345.46 169.30,343.73 169.55,340.42 169.80,336.03 170.05,332.06 170.30,330.44 170.55,332.06 170.80,336.02 171.05,340.41 171.30,343.72 171.55,345.47 171.80,345.88 172.05,345.25 172.30,343.79 172.55,341.92 172.80,340.37 173.05,339.95 173.30,340.89 173.55,342.68 173.80,344.49 174.05,345.79 174.30,346.49 174.55,346.78 174.80,346.88 175.05,346.91 175.30,346.90 175.55,346.85 175.80,346.63 176.05,345.91 176.30,344.14 176.55,340.89 176.80,336.74 177.05,333.52 177.30,333.18 177.55,335.94 177.80,340.08 178.05,343.60 178.30,345.65 178.55,346.53 178.80,346.81 179.05,346.88 179.30,346.89 179.55,346.89 179.80,346.89 180.05,346.89 180.30,346.88 180.55,346.88 180.80,346.87 181.05,346.87 181.30,346.85 181.55,346.82 181.80,346.76 182.05,346.68 182.30,346.54 182.55,346.36 182.80,346.12 183.05,345.84 183.30,345.53 183.55,345.25 183.80,345.02 184.05,344.88 184.30,344.87 184.55,344.98 184.80,345.19 185.05,345.46 185.30,345.76 185.55,346.05 185.80,346.30 186.05,346.49 186.30,346.63 186.55,346.72 186.80,346.78 187.05,346.81 187.30,346.83 187.55,346.84 187.80,346.84 188.05,346.84 188.30,346.84 188.55,346.84 188.80,346.84 189.05,346.83 189.30,346.83 189.55,346.83 189.80,346.83 190.05,346.83 190.30,346.83 190.55,346.82 190.80,346.82 191.05,346.81 191.30,346.81 191.55,346.80 191.80,346.80 192.05,346.79 192.30,346.78 192.55,346.77 192.80,346.76 193.05,346.75 193.30,346.74 193.55,346.73 193.80,346.72 194.05,346.71 194.30,346.69 194.55,346.68 194.80,346.66 195.05,346.64 195.30,346.62 195.55,346.59 195.80,346.55 196.05,346.50 196.30,346.44 196.55,346.37 196.80,346.27 197.05,346.14 197.30,345.98 197.55,345.80 197.80,345.58 198.05,345.34 198.30,345.07 198.55,344.79 198.80,344.52 199.05,344.26 199.30,344.04 199.55,343.86 199.80,343.75 200.05,343.70 200.30,343.71 200.55,343.80 200.80,343.94 201.05,344.12 201.30,344.33 201.55,344.55 201.80,344.77 202.05,344.97 202.30,345.15 202.55,345.30 202.80,345.41 203.05,345.49 203.30,345.53 203.55,345.52 203.80,345.47 204.05,345.35 204.30,345.17 204.55,344.93 204.80,344.64 205.05,344.31 205.30,343.99 205.55,343.73 205.80,343.54 206.05,343.48 206.30,343.54 206.55,343.70 206.80,343.94 207.05,344.21 207.30,344.48 207.55,344.71 207.80,344.89 208.05,345.02 208.30,345.09 208.55,345.13 208.80,345.14 209.05,345.14 209.30,345.13 209.55,345.11 209.80,345.09 210.05,345.06 210.30,345.03 210.55,344.98 210.80,344.88 211.05,344.65 211.30,344.18 211.55,343.29 211.80,341.85 212.05,339.86 212.30,337.60 212.55,335.58 212.80,334.43 213.05,334.55 213.30,335.87 213.55,337.95 213.80,340.15 214.05,341.97 214.30,343.14 214.55,343.55 214.80,343.10 215.05,341.58 215.30,338.94 215.55,335.56 215.80,332.43 216.05,330.84 216.30,331.53 216.55,334.15 216.80,337.56 217.05,340.59 217.30,342.65 217.55,343.75 217.80,344.23 218.05,344.39 218.30,344.43 218.55,344.43 218.80,344.41 219.05,344.40 219.30,344.38 219.55,344.36 219.80,344.35 220.05,344.33 220.30,344.31 220.55,344.30 220.80,344.28 221.05,344.26 221.30,344.24 221.55,344.22 221.80,344.20 222.05,344.17 222.30,344.13 222.55,344.06 222.80,343.97 223.05,343.83 223.30,343.64 223.55,343.40 223.80,343.11 224.05,342.79 224.30,342.48 224.55,342.22 224.80,342.05 225.05,342.00 225.30,342.07 225.55,342.24 225.80,342.49 226.05,342.78 226.30,343.05 226.55,343.30 226.80,343.48 227.05,343.62 227.30,343.70 227.55,343.75 227.80,343.77 228.05,343.78 228.30,343.77 228.55,343.76 228.80,343.75 229.05,343.73 229.30,343.71 229.55,343.70 229.80,343.68 230.05,343.66 230.30,343.65 230.55,343.63 230.80,343.61 231.05,343.60 231.30,343.58 231.55,343.56 231.80,343.53 232.05,343.50 232.30,343.46 232.55,343.40 232.80,343.30 233.05,343.16 233.30,342.98 233.55,342.73 233.80,342.44 234.05,342.12 234.30,341.81 234.55,341.56 234.80,341.39 235.05,341.33 235.30,341.40 235.55,341.58 235.80,341.83 236.05,342.11 236.30,342.38 236.55,342.62 236.80,342.80 237.05,342.91 237.30,342.96 237.55,342.94 237.80,342.84 238.05,342.66 238.30,342.40 238.55,342.04 238.80,341.62 239.05,341.15 239.30,340.70 239.55,340.32 239.80,340.07 240.05,340.00 240.30,340.11 240.55,340.38 240.80,340.76 241.05,341.18 241.30,341.57 241.55,341.86 241.80,341.99 242.05,341.90 242.30,341.55 242.55,340.93 242.80,340.10 243.05,339.17 243.30,338.35 243.55,337.84 243.80,337.78 244.05,338.18 244.30,338.93 244.55,339.82 244.80,340.61 245.05,341.07 245.30,340.92 245.55,339.91 245.80,337.93 246.05,335.30 246.30,332.85 246.55,331.59 246.80,332.14 247.05,334.23 247.30,336.94 247.55,339.36 247.80,340.99 248.05,341.87 248.30,342.25 248.55,342.37 248.80,342.40 249.05,342.39 249.30,342.38 249.55,342.36 249.80,342.35 250.05,342.33 250.30,342.31 250.55,342.30 250.80,342.28 251.05,342.26 251.30,342.25 251.55,342.23 251.80,342.21 252.05,342.20 252.30,342.18 252.55,342.16 252.80,342.15 253.05,342.13 253.30,342.11 253.55,342.10 253.80,342.08 254.05,342.06 254.30,342.05 254.55,342.03 254.80,342.01 255.05,342.00 255.30,341.98 255.55,341.96 255.80,341.95 256.05,341.93 256.30,341.91 256.55,341.90 256.80,341.88 257.05,341.86 257.30,341.85 257.55,341.83 257.80,341.81 258.05,341.80 258.30,341.78 258.55,341.76 258.80,341.73 259.05,341.70 259.30,341.66 259.55,341.60 259.80,341.50 260.05,341.36 260.30,341.18 260.55,340.93 260.80,340.64 261.05,340.32 261.30,340.01 261.55,339.76 261.80,339.59 262.05,339.53 262.30,339.60 262.55,339.77 262.80,340.01 263.05,340.26 263.30,340.48 263.55,340.61 263.80,340.59 264.05,340.40 264.30,339.99 264.55,339.38 264.80,338.61 265.05,337.78 265.30,337.02 265.55,336.48 265.80,336.28 266.05,336.45 266.30,336.96 266.55,337.69 266.80,338.51 267.05,339.28 267.30,339.92 267.55,340.40 267.80,340.71 268.05,340.89 268.30,340.99 268.55,341.03 268.80,341.04 269.05,341.03 269.30,341.01 269.55,340.99 269.80,340.97 270.05,340.95 270.30,340.93 270.55,340.91 270.80,340.89 271.05,340.87 271.30,340.85 271.55,340.82 271.80,340.80 272.05,340.78 272.30,340.76 272.55,340.73 272.80,340.71 273.05,340.69 273.30,340.66 273.55,340.64 273.80,340.62 274.05,340.59 274.30,340.57 274.55,340.54 274.80,340.52 275.05,340.49 275.30,340.47 275.55,340.44 275.80,340.42 276.05,340.39 276.30,340.37 276.55,340.34 276.80,340.32 277.05,340.29 277.30,340.27 277.55,340.24 277.80,340.22 278.05,340.19 278.30,340.17 278.55,340.14 278.80,340.10 279.05,340.06 279.30,340.00 279.55,339.93 279.80,339.82 280.05,339.67 280.30,339.48 280.55,339.26 280.80,339.01 281.05,338.77 281.30,338.55 281.55,338.40 281.80,338.33 282.05,338.36 282.30,338.47 282.55,338.64 282.80,338.84 283.05,339.04 283.30,339.22 283.55,339.36 283.80,339.47 284.05,339.53 284.30,339.57 284.55,339.58 284.80,339.58 285.05,339.57 285.30,339.56 285.55,339.55 285.80,339.53 286.05,339.52 286.30,339.50 286.55,339.49 286.80,339.48 287.05,339.46 287.30,339.45 287.55,339.44 287.80,339.42 288.05,339.41 288.30,339.40 288.55,339.39 288.80,339.38 289.05,339.37 289.30,339.36 289.55,339.35 289.80,339.34 290.05,339.33 290.30,339.32 290.55,339.31 290.80,339.30 291.05,339.29 291.30,339.28 291.55,339.25 291.80,339.22 292.05,339.16 292.30,339.08 292.55,338.97 292.80,338.82 293.05,338.64 293.30,338.43 293.55,338.23 293.80,338.06 294.05,337.94 294.30,337.89 294.55,337.92 294.80,338.03 295.05,338.18 295.30,338.37 295.55,338.56 295.80,338.72 296.05,338.86 296.30,338.96 296.55,339.03 296.80,339.07 297.05,339.10 297.30,339.11 297.55,339.12 297.80,339.12 298.05,339.13 298.30,339.13 298.55,339.13 298.80,339.14 299.05,339.14 299.30,339.14 299.55,339.15 299.80,339.16 300.05,339.16 300.30,339.17 300.55,339.18 300.80,339.19 301.05,339.20 301.30,339.21 301.55,339.22 301.80,339.24 302.05,339.25 302.30,339.27 302.55,339.28 302.80,339.30 303.05,339.31 303.30,339.33 303.55,339.35 303.80,339.37 304.05,339.39 304.30,339.41 304.55,339.43 304.80,339.45 305.05,339.47 305.30,339.50 305.55,339.52 305.80,339.54 306.05,339.57 306.30,339.59 306.55,339.61 306.80,339.64 307.05,339.66 307.30,339.68 307.55,339.71 307.80,339.73 308.05,339.75 308.30,339.78 308.55,339.80 308.80,339.82 309.05,339.85 309.30,339.87 309.55,339.90 309.80,339.92 310.05,339.94 310.30,339.97 310.55,339.99 310.80,340.01 311.05,340.04 311.30,340.06 311.55,340.08 311.80,340.11 312.05,340.13 312.30,340.16 312.55,340.18 312.80,340.21 313.05,340.23 313.30,340.26 313.55,340.28 313.80,340.31 314.05,340.33 314.30,340.36 314.55,340.39 314.80,340.41 315.05,340.44 315.30,340.47 315.55,340.49 315.80,340.52 316.05,340.55 316.30,340.58 316.55,340.61 316.80,340.63 317.05,340.66 317.30,340.69 317.55,340.72 317.80,340.75 318.05,340.78 318.30,340.81 318.55,340.84 318.80,340.87 319.05,340.90 319.30,340.93 319.55,340.96 319.80,340.99 320.05,341.02 320.30,341.05 320.55,341.08 320.80,341.11 321.05,341.15 321.30,341.18 321.55,341.21 321.80,341.24 322.05,341.27 322.30,341.30 322.55,341.34 322.80,341.37 323.05,341.40 323.30,341.43 323.55,341.46 323.80,341.50 324.05,341.53 324.30,341.56 324.55,341.59 324.80,341.62 325.05,341.66 325.30,341.69 325.55,341.72 325.80,341.75 326.05,341.78 326.30,341.82 326.55,341.85 326.80,341.88 327.05,341.91 327.30,341.94 327.55,341.98 327.80,342.01 328.05,342.04 328.30,342.07 328.55,342.10 328.80,342.14 329.05,342.17 329.30,342.20 329.55,342.23 329.80,342.26 330.05,342.30 330.30,342.33 330.55,342.36 330.80,342.39 331.05,342.42 331.30,342.46 331.55,342.49 331.80,342.52 332.05,342.55 332.30,342.59 332.55,342.62 332.80,342.65 333.05,342.68 333.30,342.72 333.55,342.75 333.80,342.78 334.05,342.81 334.30,342.85 334.55,342.88 334.80,342.91 335.05,342.94 335.30,342.98 335.55,343.01 335.80,343.04 336.05,343.08 336.30,343.11 336.55,343.14 336.80,343.17 337.05,343.21 337.30,343.24 337.55,343.27 337.80,343.31 338.05,343.34 338.30,343.37 338.55,343.41 338.80,343.44 339.05,343.47 339.30,343.51 339.55,343.54 339.80,343.57 340.05,343.61 340.30,343.64 340.55,343.67 340.80,343.71 341.05,343.74 341.30,343.77 341.55,343.81 341.80,343.84 342.05,343.87 342.30,343.91 342.55,343.94 342.80,343.97 343.05,344.01 343.30,344.04 343.55,344.07 343.80,344.11 344.05,344.14 344.30,344.17 344.55,344.21 344.80,344.24 345.05,344.27 345.30,344.31 345.55,344.34 345.80,344.37 346.05,344.41 346.30,344.44 346.55,344.47 346.80,344.51 347.05,344.54 347.30,344.57 347.55,344.61 347.80,344.64 348.05,344.67 348.30,344.71 348.55,344.74 348.80,344.77 349.05,344.80 349.30,344.84 349.55,344.87 349.80,344.90 350.05,344.93 350.30,344.96 350.55,345.00 350.80,345.03 351.05,345.06 351.30,345.09 351.55,345.12 351.80,345.15 352.05,345.18 352.30,345.22 352.55,345.25 352.80,345.28 353.05,345.31 353.30,345.34 353.55,345.37 353.80,345.40 354.05,345.43 354.30,345.46 354.55,345.49 354.80,345.52 355.05,345.55 355.30,345.58 355.55,345.61 355.80,345.64 356.05,345.67 356.30,345.70 356.55,345.73 356.80,345.76 357.05,345.79 357.30,345.82 357.55,345.85 357.80,345.88 358.05,345.91 358.30,345.93 358.55,345.96 358.80,345.99 359.05,346.02 359.30,346.05 359.55,346.08 359.80,346.11 360.05,346.14 360.30,346.17 360.55,346.20 360.80,346.23 361.05,346.26 361.30,346.28 361.55,346.31 361.80,346.34 362.05,346.37 362.30,346.40 362.55,346.43 362.80,346.46 363.05,346.49 363.30,346.52 363.55,346.55 363.80,346.58 364.05,346.61 364.30,346.63 364.55,346.66 364.80,346.69 365.05,346.72 365.30,346.75 365.55,346.78 365.80,346.81 366.05,346.84 366.30,346.86 366.55,346.89 366.80,346.92 367.05,346.95 367.30,346.97 367.55,347.00 367.80,347.03 368.05,347.05 368.30,347.08 368.55,347.10 368.80,347.13 369.05,347.15 369.30,347.18 369.55,347.20 369.80,347.23 370.05,347.25 370.30,347.28 370.55,347.30 370.80,347.32 371.05,347.35 371.30,347.37 371.55,347.39 371.80,347.41 372.05,347.43 372.30,347.46 372.55,347.48 372.80,347.50 373.05,347.52 373.30,347.54 373.55,347.56 373.80,347.58 374.05,347.60 374.30,347.62 374.55,347.64 374.80,347.66 375.05,347.68 375.30,347.70 375.55,347.72 375.80,347.74 376.05,347.75 376.30,347.77 376.55,347.79 376.80,347.81 377.05,347.83 377.30,347.85 377.55,347.86 377.80,347.88 378.05,347.90 378.30,347.91 378.55,347.93 378.80,347.94 379.05,347.95 379.30,347.96 379.55,347.98 379.80,347.99 380.05,348.00 380.30,348.01 380.55,348.02 380.80,348.02 381.05,348.03 381.30,348.04 381.55,348.05 381.80,348.05 382.05,348.06 382.30,348.06 382.55,348.06 382.80,348.07 383.05,348.07 383.30,348.07 383.55,348.07 383.80,348.07 384.05,348.07 384.30,348.07 384.55,348.07 384.80,348.06 385.05,348.06 385.30,348.05 385.55,348.05 385.80,348.04 386.05,348.04 386.30,348.03 386.55,348.02 386.80,348.01 387.05,348.01 387.30,348.00 387.55,347.99 387.80,347.98 388.05,347.97 388.30,347.96 388.55,347.95 388.80,347.94 389.05,347.93 389.30,347.92 389.55,347.91 389.80,347.90 390.05,347.89 390.30,347.88 390.55,347.87 390.80,347.87 391.05,347.86 391.30,347.85 391.55,347.84 391.80,347.83 392.05,347.83 392.30,347.82 392.55,347.81 392.80,347.81 393.05,347.80 393.30,347.79 393.55,347.79 393.80,347.78 394.05,347.78 394.30,347.77 394.55,347.77" fill="none" stroke="#2b2bff" stroke-width="1.0" stroke-linejoin="round"/>
<polyline points="53.80,374.09 54.05,374.09 54.30,374.09 54.55,374.09 54.80,374.09 55.05,374.09 55.30,374.09 55.55,374.09 55.80,374.08 56.05,374.08 56.30,374.08 56.55,374.08 56.80,374.08 57.05,374.08 57.30,374.08 57.55,374.08 57.80,374.07 58.05,374.07 58.30,374.07 58.55,374.07 58.80,374.07 59.05,374.07 59.30,374.07 59.55,374.06 59.80,374.06 60.05,374.06 60.30,374.06 60.55,374.06 60.80,374.06 61.05,374.05 61.30,374.05 61.55,374.05 61.80,374.05 62.05,374.05 62.30,374.05 62.55,374.05 62.80,374.04 63.05,374.04 63.30,374.04 63.55,374.04 63.80,374.04 64.05,374.04 64.30,374.03 64.55,374.03 64.80,374.03 65.05,374.03 65.30,374.03 65.55,374.03 65.80,374.03 66.05,374.02 66.30,374.02 66.55,374.02 66.80,374.02 67.05,374.02 67.30,374.02 67.55,374.01 67.80,374.01 68.05,374.01 68.30,374.01 68.55,374.01 68.80,374.01 69.05,374.00 69.30,374.00 69.55,374.00 69.80,374.00 70.05,373.99 70.30,373.97 70.55,373.89 70.80,373.65 71.05,373.04 71.30,371.76 71.55,369.59 71.80,366.71 72.05,363.86 72.30,362.14 72.55,362.05 72.80,362.65 73.05,363.69 73.30,364.96 73.55,366.23 73.80,367.30 74.05,368.04 74.30,368.45 74.55,368.64 74.80,368.78 75.05,369.02 75.30,369.28 75.55,369.50 75.80,369.71 76.05,369.92 76.30,370.14 76.55,370.35 76.80,370.55 77.05,370.74 77.30,370.92 77.55,371.10 77.80,371.27 78.05,371.44 78.30,371.63 78.55,371.83 78.80,372.05 79.05,372.27 79.30,372.50 79.55,372.73 79.80,372.94 80.05,373.14 80.30,373.31 80.55,373.46 80.80,373.58 81.05,373.68 81.30,373.75 81.55,373.81 81.80,373.84 82.05,373.87 82.30,373.89 82.55,373.90 82.80,373.91 83.05,373.91 83.30,373.91 83.55,373.91 83.80,373.91 84.05,373.91 84.30,373.91 84.55,373.91 84.80,373.91 85.05,373.91 85.30,373.90 85.55,373.90 85.80,373.90 86.05,373.90 86.30,373.90 86.55,373.90 86.80,373.89 87.05,373.89 87.30,373.89 87.55,373.89 87.80,373.89 88.05,373.89 88.30,373.88 88.55,373.88 88.80,373.88 89.05,373.88 89.30,373.88 89.55,373.88 89.80,373.88 90.05,373.87 90.30,373.87 90.55,373.87 90.80,373.87 91.05,373.87 91.30,373.87 91.55,373.86 91.80,373.86 92.05,373.86 92.30,373.86 92.55,373.86 92.80,373.86 93.05,373.86 93.30,373.85 93.55,373.85 93.80,373.85 94.05,373.85 94.30,373.85 94.55,373.85 94.80,373.84 95.05,373.84 95.30,373.84 95.55,373.84 95.80,373.84 96.05,373.84 96.30,373.83 96.55,373.83 96.80,373.83 97.05,373.83 97.30,373.83 97.55,373.83 97.80,373.83 98.05,373.82 98.30,373.82 98.55,373.82 98.80,373.81 99.05,373.80 99.30,373.78 99.55,373.75 99.80,373.71 100.05,373.63 100.30,373.53 100.55,373.39 100.80,373.22 101.05,373.04 101.30,372.86 101.55,372.72 101.80,372.62 102.05,372.60 102.30,372.65 102.55,372.76 102.80,372.92 103.05,373.10 103.30,373.28 103.55,373.43 103.80,373.55 104.05,373.64 104.30,373.70 104.55,373.74 104.80,373.76 105.05,373.77 105.30,373.77 105.55,373.78 105.80,373.77 106.05,373.77 106.30,373.77 106.55,373.77 106.80,373.77 107.05,373.77 107.30,373.77 107.55,373.76 107.80,373.76 108.05,373.76 108.30,373.76 108.55,373.76 108.80,373.76 109.05,373.76 109.30,373.75 109.55,373.75 109.80,373.75 110.05,373.75 110.30,373.75 110.55,373.75 110.80,373.74 111.05,373.74 111.30,373.74 111.55,373.74 111.80,373.74 112.05,373.74 112.30,373.74 112.55,373.73 112.80,373.73 113.05,373.73 113.30,373.73 113.55,373.73 113.80,373.73 114.05,373.72 114.30,373.72 114.55,373.72 114.80,373.72 115.05,373.72 115.30,373.72 115.55,373.71 115.80,373.71 116.05,373.71 116.30,373.71 116.55,373.71 116.80,373.71 117.05,373.71 117.30,373.70 117.55,373.70 117.80,373.70 118.05,373.70 118.30,373.70 118.55,373.70 118.80,373.69 119.05,373.69 119.30,373.69 119.55,373.69 119.80,373.69 120.05,373.69 120.30,373.69 120.55,373.68 120.80,373.68 121.05,373.68 121.30,373.68 121.55,373.68 121.80,373.68 122.05,373.67 122.30,373.67 122.55,373.67 122.80,373.67 123.05,373.67 123.30,373.67 123.55,373.66 123.80,373.66 124.05,373.66 124.30,373.66 124.55,373.66 124.80,373.66 125.05,373.66 125.30,373.65 125.55,373.65 125.80,373.65 126.05,373.65 126.30,373.65 126.55,373.65 126.80,373.64 127.05,373.64 127.30,373.64 127.55,373.64 127.80,373.64 128.05,373.64 128.30,373.64 128.55,373.63 128.80,373.63 129.05,373.63 129.30,373.63 129.55,373.63 129.80,373.63 130.05,373.62 130.30,373.62 130.55,373.62 130.80,373.62 131.05,373.62 131.30,373.62 131.55,373.62 131.80,373.61 132.05,373.61 132.30,373.61 132.55,373.61 132.80,373.61 133.05,373.61 133.30,373.60 133.55,373.60 133.80,373.60 134.05,373.60 134.30,373.60 134.55,373.60 134.80,373.59 135.05,373.59 135.30,373.59 135.55,373.59 135.80,373.59 136.05,373.59 136.30,373.59 136.55,373.58 136.80,373.58 137.05,373.58 137.30,373.58 137.55,373.58 137.80,373.58 138.05,373.57 138.30,373.57 138.55,373.57 138.80,373.57 139.05,373.57 139.30,373.57 139.55,373.57 139.80,373.56 140.05,373.56 140.30,373.56 140.55,373.56 140.80,373.56 141.05,373.56 141.30,373.55 141.55,373.55 141.80,373.55 142.05,373.55 142.30,373.55 142.55,373.55 142.80,373.54 143.05,373.54 143.30,373.54 143.55,373.54 143.80,373.54 144.05,373.54 144.30,373.54 144.55,373.53 144.80,373.53 145.05,373.53 145.30,373.53 145.55,373.53 145.80,373.53 146.05,373.52 146.30,373.52 146.55,373.52 146.80,373.52 147.05,373.51 147.30,373.51 147.55,373.51 147.80,373.51 148.05,373.50 148.30,373.50 148.55,373.50 148.80,373.50 149.05,373.49 149.30,373.49 149.55,373.49 149.80,373.48 150.05,373.48 150.30,373.48 150.55,373.47 150.80,373.47 151.05,373.46 151.30,373.46 151.55,373.46 151.80,373.45 152.05,373.45 152.30,373.44 152.55,373.44 152.80,373.43 153.05,373.43 153.30,373.42 153.55,373.42 153.80,373.41 154.05,373.41 154.30,373.40 154.55,373.40 154.80,373.39 155.05,373.39 155.30,373.38 155.55,373.38 155.80,373.37 156.05,373.37 156.30,373.36 156.55,373.35 156.80,373.35 157.05,373.34 157.30,373.34 157.55,373.33 157.80,373.32 158.05,373.31 158.30,373.29 158.55,373.27 158.80,373.24 159.05,373.21 159.30,373.15 159.55,373.07 159.80,372.97 160.05,372.84 160.30,372.68 160.55,372.48 160.80,372.24 161.05,371.97 161.30,371.67 161.55,371.36 161.80,371.06 162.05,370.78 162.30,370.54 162.55,370.35 162.80,370.24 163.05,370.21 163.30,370.26 163.55,370.39 163.80,370.59 164.05,370.84 164.30,371.12 164.55,371.42 164.80,371.71 165.05,371.97 165.30,372.18 165.55,372.30 165.80,372.26 166.05,371.94 166.30,371.26 166.55,370.16 166.80,368.76 167.05,367.35 167.30,366.35 167.55,366.10 167.80,366.69 168.05,367.91 168.30,369.26 168.55,370.15 168.80,369.84 169.05,367.64 169.30,363.25 169.55,357.58 169.80,352.90 170.05,351.63 170.30,354.52 170.55,359.99 170.80,365.54 171.05,369.45 171.30,371.45 171.55,372.03 171.80,371.76 172.05,371.00 172.30,369.97 172.55,368.93 172.80,368.19 173.05,368.00 173.30,368.42 173.55,369.30 173.80,370.37 174.05,371.34 174.30,372.07 174.55,372.52 174.80,372.77 175.05,372.87 175.30,372.92 175.55,372.93 175.80,372.92 176.05,372.92 176.30,372.92 176.55,372.91 176.80,372.90 177.05,372.90 177.30,372.89 177.55,372.89 177.80,372.88 178.05,372.88 178.30,372.87 178.55,372.87 178.80,372.86 179.05,372.85 179.30,372.85 179.55,372.84 179.80,372.84 180.05,372.83 180.30,372.83 180.55,372.82 180.80,372.82 181.05,372.81 181.30,372.80 181.55,372.80 181.80,372.79 182.05,372.79 182.30,372.78 182.55,372.78 182.80,372.77 183.05,372.77 183.30,372.76 183.55,372.75 183.80,372.75 184.05,372.74 184.30,372.74 184.55,372.73 184.80,372.73 185.05,372.72 185.30,372.72 185.55,372.71 185.80,372.70 186.05,372.70 186.30,372.69 186.55,372.69 186.80,372.68 187.05,372.68 187.30,372.67 187.55,372.67 187.80,372.66 188.05,372.65 188.30,372.65 188.55,372.64 188.80,372.64 189.05,372.63 189.30,372.63 189.55,372.62 189.80,372.62 190.05,372.61 190.30,372.60 190.55,372.60 190.80,372.59 191.05,372.59 191.30,372.58 191.55,372.58 191.80,372.57 192.05,372.56 192.30,372.56 192.55,372.55 192.80,372.55 193.05,372.54 193.30,372.53 193.55,372.53 193.80,372.52 194.05,372.52 194.30,372.51 194.55,372.50 194.80,372.50 195.05,372.49 195.30,372.48 195.55,372.48 195.80,372.47 196.05,372.46 196.30,372.46 196.55,372.45 196.80,372.45 197.05,372.44 197.30,372.43 197.55,372.43 197.80,372.42 198.05,372.41 198.30,372.40 198.55,372.40 198.80,372.39 199.05,372.38 199.30,372.38 199.55,372.37 199.80,372.36 200.05,372.36 200.30,372.35 200.55,372.34 200.80,372.33 201.05,372.33 201.30,372.32 201.55,372.31 201.80,372.31 202.05,372.30 202.30,372.29 202.55,372.28 202.80,372.28 203.05,372.27 203.30,372.26 203.55,372.26 203.80,372.25 204.05,372.24 204.30,372.23 204.55,372.23 204.80,372.22 205.05,372.21 205.30,372.21 205.55,372.20 205.80,372.19 206.05,372.18 206.30,372.18 206.55,372.17 206.80,372.16 207.05,372.16 207.30,372.15 207.55,372.14 207.80,372.13 208.05,372.13 208.30,372.12 208.55,372.11 208.80,372.11 209.05,372.10 209.30,372.09 209.55,372.08 209.80,372.08 210.05,372.07 210.30,372.05 210.55,372.02 210.80,371.93 211.05,371.71 211.30,371.23 211.55,370.31 211.80,368.82 212.05,366.75 212.30,364.39 212.55,362.29 212.80,361.10 213.05,361.23 213.30,362.63 213.55,364.82 213.80,367.15 214.05,369.10 214.30,370.44 214.55,371.19 214.80,371.40 215.05,371.07 215.30,369.99 215.55,367.91 215.80,364.81 216.05,361.33 216.30,358.65 216.55,357.93 216.80,359.52 217.05,362.67 217.30,366.11 217.55,368.83 217.80,370.51 218.05,371.34 218.30,371.68 218.55,371.79 218.80,371.81 219.05,371.81 219.30,371.81 219.55,371.80 219.80,371.79 220.05,371.78 220.30,371.78 220.55,371.77 220.80,371.76 221.05,371.76 221.30,371.75 221.55,371.74 221.80,371.73 222.05,371.73 222.30,371.72 222.55,371.71 222.80,371.71 223.05,371.70 223.30,371.69 223.55,371.68 223.80,371.68 224.05,371.67 224.30,371.66 224.55,371.66 224.80,371.65 225.05,371.64 225.30,371.63 225.55,371.63 225.80,371.62 226.05,371.61 226.30,371.60 226.55,371.59 226.80,371.58 227.05,371.58 227.30,371.57 227.55,371.56 227.80,371.55 228.05,371.54 228.30,371.53 228.55,371.52 228.80,371.51 229.05,371.49 229.30,371.48 229.55,371.47 229.80,371.46 230.05,371.45 230.30,371.44 230.55,371.42 230.80,371.41 231.05,371.40 231.30,371.39 231.55,371.37 231.80,371.36 232.05,371.35 232.30,371.33 232.55,371.32 232.80,371.30 233.05,371.29 233.30,371.27 233.55,371.26 233.80,371.24 234.05,371.23 234.30,371.21 234.55,371.20 234.80,371.18 235.05,371.16 235.30,371.15 235.55,371.13 235.80,371.11 236.05,371.10 236.30,371.08 236.55,371.06 236.80,371.05 237.05,371.03 237.30,371.01 237.55,371.00 237.80,370.98 238.05,370.96 238.30,370.95 238.55,370.93 238.80,370.91 239.05,370.90 239.30,370.88 239.55,370.86 239.80,370.85 240.05,370.83 240.30,370.81 240.55,370.79 240.80,370.77 241.05,370.74 241.30,370.69 241.55,370.59 241.80,370.42 242.05,370.10 242.30,369.60 242.55,368.88 242.80,367.99 243.05,367.04 243.30,366.20 243.55,365.68 243.80,365.62 244.05,366.02 244.30,366.77 244.55,367.68 244.80,368.56 245.05,369.24 245.30,369.61 245.55,369.55 245.80,368.87 246.05,367.37 246.30,365.07 246.55,362.46 246.80,360.44 247.05,359.90 247.30,361.08 247.55,363.43 247.80,366.00 248.05,368.03 248.30,369.28 248.55,369.89 248.80,370.13 249.05,370.20 249.30,370.21 249.55,370.20 249.80,370.18 250.05,370.16 250.30,370.15 250.55,370.13 250.80,370.11 251.05,370.10 251.30,370.08 251.55,370.06 251.80,370.05 252.05,370.03 252.30,370.01 252.55,370.00 252.80,369.98 253.05,369.96 253.30,369.95 253.55,369.93 253.80,369.91 254.05,369.90 254.30,369.88 254.55,369.86 254.80,369.85 255.05,369.83 255.30,369.81 255.55,369.80 255.80,369.78 256.05,369.76 256.30,369.74 256.55,369.72 256.80,369.71 257.05,369.69 257.30,369.67 257.55,369.65 257.80,369.63 258.05,369.61 258.30,369.59 258.55,369.57 258.80,369.55 259.05,369.53 259.30,369.51 259.55,369.49 259.80,369.47 260.05,369.45 260.30,369.42 260.55,369.40 260.80,369.38 261.05,369.36 261.30,369.34 261.55,369.31 261.80,369.29 262.05,369.27 262.30,369.24 262.55,369.22 262.80,369.20 263.05,369.17 263.30,369.15 263.55,369.12 263.80,369.09 264.05,369.07 264.30,369.03 264.55,368.98 264.80,368.92 265.05,368.81 265.30,368.66 265.55,368.43 265.80,368.10 266.05,367.66 266.30,367.12 266.55,366.51 266.80,365.88 267.05,365.32 267.30,364.91 267.55,364.71 267.80,364.76 268.05,365.04 268.30,365.50 268.55,366.05 268.80,366.63 269.05,367.15 269.30,367.58 269.55,367.90 269.80,368.12 270.05,368.25 270.30,368.31 270.55,368.34 270.80,368.34 271.05,368.33 271.30,368.31 271.55,368.29 271.80,368.26 272.05,368.23 272.30,368.21 272.55,368.18 272.80,368.16 273.05,368.13 273.30,368.10 273.55,368.08 273.80,368.05 274.05,368.02 274.30,368.00 274.55,367.97 274.80,367.95 275.05,367.92 275.30,367.89 275.55,367.87 275.80,367.84 276.05,367.82 276.30,367.80 276.55,367.77 276.80,367.75 277.05,367.73 277.30,367.71 277.55,367.68 277.80,367.66 278.05,367.64 278.30,367.62 278.55,367.60 278.80,367.58 279.05,367.57 279.30,367.55 279.55,367.53 279.80,367.50 280.05,367.48 280.30,367.44 280.55,367.39 280.80,367.32 281.05,367.21 281.30,367.07 281.55,366.88 281.80,366.66 282.05,366.43 282.30,366.20 282.55,366.00 282.80,365.88 283.05,365.84 283.30,365.89 283.55,366.03 283.80,366.22 284.05,366.43 284.30,366.64 284.55,366.83 284.80,366.98 285.05,367.08 285.30,367.15 285.55,367.19 285.80,367.22 286.05,367.22 286.30,367.23 286.55,367.22 286.80,367.22 287.05,367.21 287.30,367.21 287.55,367.20 287.80,367.19 288.05,367.19 288.30,367.18 288.55,367.17 288.80,367.17 289.05,367.16 289.30,367.15 289.55,367.15 289.80,367.14 290.05,367.13 290.30,367.13 290.55,367.12 290.80,367.12 291.05,367.11 291.30,367.11 291.55,367.11 291.80,367.11 292.05,367.10 292.30,367.10 292.55,367.10 292.80,367.11 293.05,367.11 293.30,367.11 293.55,367.11 293.80,367.12 294.05,367.12 294.30,367.13 294.55,367.13 294.80,367.14 295.05,367.15 295.30,367.15 295.55,367.16 295.80,367.17 296.05,367.18 296.30,367.19 296.55,367.20 296.80,367.21 297.05,367.23 297.30,367.24 297.55,367.25 297.80,367.27 298.05,367.29 298.30,367.30 298.55,367.32 298.80,367.34 299.05,367.35 299.30,367.37 299.55,367.39 299.80,367.41 300.05,367.43 300.30,367.45 300.55,367.48 300.80,367.50 301.05,367.52 301.30,367.54 301.55,367.56 301.80,367.58 302.05,367.60 302.30,367.63 302.55,367.65 302.80,367.67 303.05,367.69 303.30,367.71 303.55,367.73 303.80,367.75 304.05,367.78 304.30,367.80 304.55,367.82 304.80,367.84 305.05,367.86 305.30,367.88 305.55,367.90 305.80,367.93 306.05,367.95 306.30,367.97 306.55,367.99 306.80,368.01 307.05,368.03 307.30,368.05 307.55,368.08 307.80,368.10 308.05,368.12 308.30,368.14 308.55,368.16 308.80,368.18 309.05,368.20 309.30,368.23 309.55,368.25 309.80,368.27 310.05,368.29 310.30,368.31 310.55,368.33 310.80,368.35 311.05,368.38 311.30,368.40 311.55,368.42 311.80,368.44 312.05,368.46 312.30,368.49 312.55,368.51 312.80,368.53 313.05,368.56 313.30,368.58 313.55,368.60 313.80,368.63 314.05,368.65 314.30,368.68 314.55,368.70 314.80,368.72 315.05,368.75 315.30,368.77 315.55,368.80 315.80,368.83 316.05,368.85 316.30,368.88 316.55,368.90 316.80,368.93 317.05,368.96 317.30,368.98 317.55,369.01 317.80,369.04 318.05,369.07 318.30,369.10 318.55,369.12 318.80,369.15 319.05,369.18 319.30,369.21 319.55,369.24 319.80,369.27 320.05,369.30 320.30,369.33 320.55,369.36 320.80,369.39 321.05,369.42 321.30,369.45 321.55,369.48 321.80,369.51 322.05,369.54 322.30,369.57 322.55,369.60 322.80,369.63 323.05,369.66 323.30,369.69 323.55,369.72 323.80,369.75 324.05,369.78 324.30,369.81 324.55,369.85 324.80,369.88 325.05,369.91 325.30,369.94 325.55,369.97 325.80,370.00 326.05,370.03 326.30,370.06 326.55,370.09 326.80,370.12 327.05,370.15 327.30,370.18 327.55,370.21 327.80,370.24 328.05,370.27 328.30,370.30 328.55,370.33 328.80,370.36 329.05,370.39 329.30,370.43 329.55,370.46 329.80,370.49 330.05,370.52 330.30,370.55 330.55,370.58 330.80,370.60 331.05,370.63 331.30,370.66 331.55,370.69 331.80,370.72 332.05,370.75 332.30,370.78 332.55,370.81 332.80,370.84 333.05,370.87 333.30,370.89 333.55,370.92 333.80,370.95 334.05,370.98 334.30,371.00 334.55,371.03 334.80,371.06 335.05,371.09 335.30,371.11 335.55,371.14 335.80,371.17 336.05,371.19 336.30,371.22 336.55,371.25 336.80,371.27 337.05,371.30 337.30,371.33 337.55,371.35 337.80,371.38 338.05,371.40 338.30,371.43 338.55,371.45 338.80,371.48 339.05,371.50 339.30,371.53 339.55,371.55 339.80,371.58 340.05,371.60 340.30,371.63 340.55,371.65 340.80,371.68 341.05,371.70 341.30,371.73 341.55,371.75 341.80,371.78 342.05,371.80 342.30,371.83 342.55,371.85 342.80,371.88 343.05,371.90 343.30,371.93 343.55,371.95 343.80,371.98 344.05,372.00 344.30,372.03 344.55,372.05 344.80,372.08 345.05,372.10 345.30,372.13 345.55,372.15 345.80,372.18 346.05,372.20 346.30,372.23 346.55,372.25 346.80,372.28 347.05,372.30 347.30,372.33 347.55,372.35 347.80,372.38 348.05,372.40 348.30,372.42 348.55,372.45 348.80,372.47 349.05,372.49 349.30,372.51 349.55,372.53 349.80,372.55 350.05,372.57 350.30,372.60 350.55,372.61 350.80,372.63 351.05,372.65 351.30,372.67 351.55,372.69 351.80,372.71 352.05,372.73 352.30,372.74 352.55,372.76 352.80,372.78 353.05,372.79 353.30,372.81 353.55,372.82 353.80,372.84 354.05,372.85 354.30,372.87 354.55,372.88 354.80,372.89 355.05,372.91 355.30,372.92 355.55,372.93 355.80,372.94 356.05,372.95 356.30,372.97 356.55,372.98 356.80,372.99 357.05,373.00 357.30,373.01 357.55,373.02 357.80,373.03 358.05,373.04 358.30,373.05 358.55,373.05 358.80,373.06 359.05,373.07 359.30,373.08 359.55,373.09 359.80,373.10 360.05,373.11 360.30,373.12 360.55,373.13 360.80,373.14 361.05,373.15 361.30,373.16 361.55,373.17 361.80,373.18 362.05,373.19 362.30,373.20 362.55,373.21 362.80,373.22 363.05,373.23 363.30,373.24 363.55,373.25 363.80,373.26 364.05,373.27 364.30,373.28 364.55,373.29 364.80,373.30 365.05,373.31 365.30,373.32 365.55,373.33 365.80,373.34 366.05,373.34 366.30,373.35 366.55,373.36 366.80,373.37 367.05,373.38 367.30,373.38 367.55,373.39 367.80,373.40 368.05,373.41 368.30,373.41 368.55,373.42 368.80,373.42 369.05,373.43 369.30,373.44 369.55,373.44 369.80,373.45 370.05,373.45 370.30,373.46 370.55,373.46 370.80,373.46 371.05,373.47 371.30,373.47 371.55,373.48 371.80,373.48 372.05,373.48 372.30,373.48 372.55,373.49 372.80,373.49 373.05,373.49 373.30,373.49 373.55,373.50 373.80,373.50 374.05,373.50 374.30,373.50 374.55,373.50 374.80,373.50 375.05,373.50 375.30,373.50 375.55,373.50 375.80,373.50 376.05,373.50 376.30,373.50 376.55,373.50 376.80,373.50 377.05,373.50 377.30,373.50 377.55,373.50 377.80,373.50 378.05,373.50 378.30,373.50 378.55,373.50 378.80,373.50 379.05,373.50 379.30,373.50 379.55,373.50 379.80,373.50 380.05,373.50 380.30,373.50 380.55,373.50 380.80,373.50 381.05,373.50 381.30,373.50 381.55,373.50 381.80,373.50 382.05,373.50 382.30,373.50 382.55,373.50 382.80,373.50 383.05,373.50 383.30,373.50 383.55,373.50 383.80,373.50 384.05,373.50 384.30,373.50 384.55,373.50 384.80,373.50 385.05,373.50 385.30,373.50 385.55,373.50 385.80,373.50 386.05,373.50 386.30,373.50 386.55,373.50 386.80,373.50 387.05,373.50 387.30,373.50 387.55,373.50 387.80,373.50 388.05,373.50 388.30,373.50 388.55,373.50 388.80,373.50 389.05,373.50 389.30,373.50 389.55,373.50 389.80,373.50 390.05,373.50 390.30,373.50 390.55,373.50 390.80,373.50 391.05,373.50 391.30,373.50 391.55,373.50 391.80,373.50 392.05,373.50 392.30,373.50 392.55,373.50 392.80,373.50 393.05,373.50 393.30,373.50 393.55,373.50 393.80,373.50 394.05,373.50 394.30,373.50 394.55,373.50" fill="none" stroke="#ff2b2b" stroke-width="1.0" stroke-linejoin="round" stroke-dasharray="1.4 1.1"/>
<polyline points="53.80,398.30 54.05,398.30 54.30,398.30 54.55,398.29 54.80,398.29 55.05,398.29 55.30,398.29 55.55,398.29 55.80,398.29 56.05,398.29 56.30,398.29 56.55,398.29 56.80,398.29 57.05,398.29 57.30,398.29 57.55,398.29 57.80,398.29 58.05,398.29 58.30,398.29 58.55,398.29 58.80,398.28 59.05,398.28 59.30,398.28 59.55,398.28 59.80,398.28 60.05,398.28 60.30,398.28 60.55,398.28 60.80,398.28 61.05,398.28 61.30,398.28 61.55,398.28 61.80,398.28 62.05,398.27 62.30,398.27 62.55,398.27 62.80,398.27 63.05,398.27 63.30,398.27 63.55,398.27 63.80,398.27 64.05,398.27 64.30,398.27 64.55,398.27 64.80,398.27 65.05,398.26 65.30,398.26 65.55,398.26 65.80,398.26 66.05,398.26 66.30,398.26 66.55,398.26 66.80,398.26 67.05,398.26 67.30,398.26 67.55,398.26 67.80,398.26 68.05,398.26 68.30,398.25 68.55,398.25 68.80,398.25 69.05,398.25 69.30,398.25 69.55,398.25 69.80,398.25 70.05,398.25 70.30,398.25 70.55,398.25 70.80,398.25 71.05,398.25 71.30,398.25 71.55,398.24 71.80,398.24 72.05,398.24 72.30,398.24 72.55,398.24 72.80,398.24 73.05,398.24 73.30,398.24 73.55,398.24 73.80,398.23 74.05,398.21 74.30,398.17 74.55,398.08 74.80,397.92 75.05,397.65 75.30,397.26 75.55,396.75 75.80,396.19 76.05,395.67 76.30,395.32 76.55,395.23 76.80,395.43 77.05,395.86 77.30,396.41 77.55,396.96 77.80,397.42 78.05,397.77 78.30,397.98 78.55,398.11 78.80,398.17 79.05,398.20 79.30,398.21 79.55,398.22 79.80,398.22 80.05,398.22 80.30,398.22 80.55,398.22 80.80,398.22 81.05,398.22 81.30,398.21 81.55,398.21 81.80,398.21 82.05,398.21 82.30,398.21 82.55,398.21 82.80,398.21 83.05,398.21 83.30,398.21 83.55,398.21 83.80,398.21 84.05,398.21 84.30,398.20 84.55,398.20 84.80,398.20 85.05,398.20 85.30,398.20 85.55,398.20 85.80,398.20 86.05,398.20 86.30,398.20 86.55,398.20 86.80,398.20 87.05,398.20 87.30,398.20 87.55,398.19 87.80,398.19 88.05,398.19 88.30,398.19 88.55,398.19 88.80,398.19 89.05,398.19 89.30,398.19 89.55,398.19 89.80,398.19 90.05,398.19 90.30,398.19 90.55,398.19 90.80,398.18 91.05,398.18 91.30,398.18 91.55,398.18 91.80,398.18 92.05,398.18 92.30,398.18 92.55,398.18 92.80,398.18 93.05,398.18 93.30,398.18 93.55,398.18 93.80,398.18 94.05,398.17 94.30,398.17 94.55,398.17 94.80,398.17 95.05,398.17 95.30,398.17 95.55,398.17 95.80,398.17 96.05,398.17 96.30,398.17 96.55,398.17 96.80,398.17 97.05,398.17 97.30,398.16 97.55,398.16 97.80,398.16 98.05,398.16 98.30,398.16 98.55,398.16 98.80,398.16 99.05,398.16 99.30,398.16 99.55,398.16 99.80,398.16 100.05,398.16 100.30,398.15 100.55,398.15 100.80,398.15 101.05,398.15 101.30,398.15 101.55,398.15 101.80,398.14 102.05,398.14 102.30,398.12 102.55,398.10 102.80,398.06 103.05,398.00 103.30,397.91 103.55,397.80 103.80,397.66 104.05,397.51 104.30,397.36 104.55,397.24 104.80,397.16 105.05,397.14 105.30,397.18 105.55,397.28 105.80,397.41 106.05,397.56 106.30,397.71 106.55,397.83 106.80,397.94 107.05,398.01 107.30,398.06 107.55,398.09 107.80,398.11 108.05,398.12 108.30,398.13 108.55,398.13 108.80,398.13 109.05,398.13 109.30,398.13 109.55,398.13 109.80,398.13 110.05,398.12 110.30,398.12 110.55,398.12 110.80,398.12 111.05,398.12 111.30,398.12 111.55,398.12 111.80,398.12 112.05,398.12 112.30,398.12 112.55,398.12 112.80,398.12 113.05,398.12 113.30,398.11 113.55,398.11 113.80,398.11 114.05,398.11 114.30,398.11 114.55,398.11 114.80,398.11 115.05,398.11 115.30,398.11 115.55,398.11 115.80,398.11 116.05,398.11 116.30,398.11 116.55,398.10 116.80,398.10 117.05,398.10 117.30,398.10 117.55,398.10 117.80,398.10 118.05,398.10 118.30,398.10 118.55,398.10 118.80,398.10 119.05,398.10 119.30,398.10 119.55,398.09 119.80,398.09 120.05,398.09 120.30,398.09 120.55,398.09 120.80,398.09 121.05,398.09 121.30,398.09 121.55,398.09 121.80,398.09 122.05,398.09 122.30,398.09 122.55,398.09 122.80,398.08 123.05,398.08 123.30,398.08 123.55,398.08 123.80,398.08 124.05,398.08 124.30,398.08 124.55,398.08 124.80,398.08 125.05,398.08 125.30,398.08 125.55,398.08 125.80,398.08 126.05,398.07 126.30,398.07 126.55,398.07 126.80,398.07 127.05,398.07 127.30,398.07 127.55,398.07 127.80,398.07 128.05,398.07 128.30,398.07 128.55,398.07 128.80,398.07 129.05,398.07 129.30,398.06 129.55,398.06 129.80,398.06 130.05,398.06 130.30,398.06 130.55,398.06 130.80,398.06 131.05,398.06 131.30,398.06 131.55,398.06 131.80,398.06 132.05,398.06 132.30,398.06 132.55,398.05 132.80,398.05 133.05,398.05 133.30,398.05 133.55,398.05 133.80,398.05 134.05,398.05 134.30,398.05 134.55,398.05 134.80,398.05 135.05,398.05 135.30,398.05 135.55,398.05 135.80,398.04 136.05,398.04 136.30,398.04 136.55,398.04 136.80,398.04 137.05,398.04 137.30,398.04 137.55,398.04 137.80,398.04 138.05,398.04 138.30,398.04 138.55,398.04 138.80,398.03 139.05,398.03 139.30,398.03 139.55,398.03 139.80,398.03 140.05,398.03 140.30,398.03 140.55,398.03 140.80,398.03 141.05,398.03 141.30,398.03 141.55,398.03 141.80,398.03 142.05,398.02 142.30,398.02 142.55,398.02 142.80,398.02 143.05,398.02 143.30,398.02 143.55,398.02 143.80,398.02 144.05,398.02 144.30,398.02 144.55,398.02 144.80,398.02 145.05,398.02 145.30,398.01 145.55,398.01 145.80,398.01 146.05,398.01 146.30,398.01 146.55,398.01 146.80,398.01 147.05,398.01 147.30,398.01 147.55,398.00 147.80,398.00 148.05,398.00 148.30,398.00 148.55,398.00 148.80,398.00 149.05,398.00 149.30,397.99 149.55,397.99 149.80,397.99 150.05,397.99 150.30,397.99 150.55,397.99 150.80,397.98 151.05,397.98 151.30,397.98 151.55,397.98 151.80,397.98 152.05,397.97 152.30,397.97 152.55,397.97 152.80,397.97 153.05,397.96 153.30,397.96 153.55,397.96 153.80,397.96 154.05,397.95 154.30,397.95 154.55,397.95 154.80,397.95 155.05,397.94 155.30,397.94 155.55,397.94 155.80,397.94 156.05,397.93 156.30,397.93 156.55,397.93 156.80,397.92 157.05,397.92 157.30,397.92 157.55,397.92 157.80,397.91 158.05,397.91 158.30,397.91 158.55,397.91 158.80,397.90 159.05,397.90 159.30,397.90 159.55,397.89 159.80,397.89 160.05,397.89 160.30,397.89 160.55,397.88 160.80,397.88 161.05,397.88 161.30,397.87 161.55,397.87 161.80,397.87 162.05,397.87 162.30,397.86 162.55,397.86 162.80,397.86 163.05,397.85 163.30,397.84 163.55,397.81 163.80,397.76 164.05,397.64 164.30,397.42 164.55,397.06 164.80,396.54 165.05,395.86 165.30,395.10 165.55,394.41 165.80,393.95 166.05,393.83 166.30,394.08 166.55,394.62 166.80,395.26 167.05,395.74 167.30,395.79 167.55,395.19 167.80,393.94 168.05,392.37 168.30,391.11 168.55,390.78 168.80,391.54 169.05,392.89 169.30,393.80 169.55,393.01 169.80,389.68 170.05,384.32 170.30,379.42 170.55,378.05 170.80,381.23 171.05,386.95 171.30,392.26 171.55,395.58 171.80,397.08 172.05,397.59 172.30,397.72 172.55,397.75 172.80,397.75 173.05,397.74 173.30,397.74 173.55,397.74 173.80,397.74 174.05,397.73 174.30,397.73 174.55,397.73 174.80,397.72 175.05,397.72 175.30,397.72 175.55,397.72 175.80,397.71 176.05,397.71 176.30,397.71 176.55,397.71 176.80,397.70 177.05,397.70 177.30,397.70 177.55,397.69 177.80,397.69 178.05,397.69 178.30,397.69 178.55,397.68 178.80,397.68 179.05,397.68 179.30,397.67 179.55,397.67 179.80,397.67 180.05,397.67 180.30,397.66 180.55,397.66 180.80,397.66 181.05,397.65 181.30,397.65 181.55,397.65 181.80,397.65 182.05,397.64 182.30,397.64 182.55,397.64 182.80,397.64 183.05,397.63 183.30,397.63 183.55,397.63 183.80,397.62 184.05,397.62 184.30,397.62 184.55,397.62 184.80,397.61 185.05,397.61 185.30,397.61 185.55,397.60 185.80,397.60 186.05,397.60 186.30,397.60 186.55,397.59 186.80,397.59 187.05,397.59 187.30,397.59 187.55,397.58 187.80,397.58 188.05,397.58 188.30,397.57 188.55,397.57 188.80,397.57 189.05,397.57 189.30,397.56 189.55,397.56 189.80,397.56 190.05,397.55 190.30,397.55 190.55,397.55 190.80,397.55 191.05,397.54 191.30,397.54 191.55,397.54 191.80,397.53 192.05,397.53 192.30,397.52 192.55,397.52 192.80,397.52 193.05,397.51 193.30,397.51 193.55,397.50 193.80,397.50 194.05,397.50 194.30,397.49 194.55,397.49 194.80,397.48 195.05,397.48 195.30,397.47 195.55,397.47 195.80,397.46 196.05,397.46 196.30,397.45 196.55,397.44 196.80,397.44 197.05,397.43 197.30,397.43 197.55,397.42 197.80,397.42 198.05,397.41 198.30,397.40 198.55,397.40 198.80,397.39 199.05,397.38 199.30,397.38 199.55,397.37 199.80,397.36 200.05,397.36 200.30,397.35 200.55,397.34 200.80,397.33 201.05,397.33 201.30,397.32 201.55,397.31 201.80,397.31 202.05,397.30 202.30,397.29 202.55,397.28 202.80,397.28 203.05,397.27 203.30,397.26 203.55,397.26 203.80,397.25 204.05,397.24 204.30,397.23 204.55,397.23 204.80,397.22 205.05,397.21 205.30,397.21 205.55,397.20 205.80,397.19 206.05,397.18 206.30,397.18 206.55,397.17 206.80,397.16 207.05,397.16 207.30,397.15 207.55,397.14 207.80,397.13 208.05,397.13 208.30,397.12 208.55,397.11 208.80,397.11 209.05,397.10 209.30,397.09 209.55,397.08 209.80,397.08 210.05,397.07 210.30,397.05 210.55,397.02 210.80,396.94 211.05,396.75 211.30,396.34 211.55,395.55 211.80,394.26 212.05,392.47 212.30,390.43 212.55,388.61 212.80,387.59 213.05,387.70 213.30,388.91 213.55,390.80 213.80,392.80 214.05,394.46 214.30,395.54 214.55,395.94 214.80,395.60 215.05,394.36 215.30,392.17 215.55,389.35 215.80,386.76 216.05,385.44 216.30,386.01 216.55,388.20 216.80,391.05 217.05,393.59 217.30,395.31 217.55,396.24 217.80,396.64 218.05,396.78 218.30,396.82 218.55,396.82 218.80,396.82 219.05,396.81 219.30,396.81 219.55,396.80 219.80,396.79 220.05,396.78 220.30,396.78 220.55,396.77 220.80,396.76 221.05,396.76 221.30,396.75 221.55,396.74 221.80,396.73 222.05,396.73 222.30,396.72 222.55,396.71 222.80,396.71 223.05,396.70 223.30,396.69 223.55,396.68 223.80,396.68 224.05,396.67 224.30,396.66 224.55,396.66 224.80,396.65 225.05,396.64 225.30,396.63 225.55,396.63 225.80,396.62 226.05,396.61 226.30,396.60 226.55,396.60 226.80,396.59 227.05,396.58 227.30,396.57 227.55,396.56 227.80,396.55 228.05,396.55 228.30,396.54 228.55,396.53 228.80,396.52 229.05,396.51 229.30,396.50 229.55,396.49 229.80,396.48 230.05,396.47 230.30,396.46 230.55,396.45 230.80,396.44 231.05,396.43 231.30,396.42 231.55,396.41 231.80,396.40 232.05,396.39 232.30,396.38 232.55,396.37 232.80,396.35 233.05,396.34 233.30,396.33 233.55,396.32 233.80,396.31 234.05,396.30 234.30,396.28 234.55,396.27 234.80,396.26 235.05,396.25 235.30,396.23 235.55,396.22 235.80,396.21 236.05,396.20 236.30,396.18 236.55,396.17 236.80,396.16 237.05,396.15 237.30,396.13 237.55,396.12 237.80,396.11 238.05,396.10 238.30,396.08 238.55,396.07 238.80,396.06 239.05,396.05 239.30,396.03 239.55,396.01 239.80,395.99 240.05,395.95 240.30,395.88 240.55,395.77 240.80,395.60 241.05,395.35 241.30,394.99 241.55,394.52 241.80,393.96 242.05,393.35 242.30,392.75 242.55,392.25 242.80,391.93 243.05,391.82 243.30,391.92 243.55,392.17 243.80,392.43 244.05,392.54 244.30,392.34 244.55,391.72 244.80,390.72 245.05,389.51 245.30,388.39 245.55,387.71 245.80,387.69 246.05,388.39 246.30,389.63 246.55,391.12 246.80,392.55 247.05,393.72 247.30,394.55 247.55,395.07 247.80,395.35 248.05,395.49 248.30,395.54 248.55,395.56 248.80,395.56 249.05,395.55 249.30,395.53 249.55,395.52 249.80,395.51 250.05,395.50 250.30,395.48 250.55,395.47 250.80,395.46 251.05,395.45 251.30,395.43 251.55,395.42 251.80,395.41 252.05,395.40 252.30,395.38 252.55,395.37 252.80,395.36 253.05,395.35 253.30,395.33 253.55,395.32 253.80,395.31 254.05,395.30 254.30,395.28 254.55,395.27 254.80,395.26 255.05,395.25 255.30,395.23 255.55,395.22 255.80,395.21 256.05,395.19 256.30,395.18 256.55,395.17 256.80,395.15 257.05,395.14 257.30,395.12 257.55,395.11 257.80,395.09 258.05,395.07 258.30,395.06 258.55,395.04 258.80,395.02 259.05,395.00 259.30,394.99 259.55,394.97 259.80,394.95 260.05,394.93 260.30,394.91 260.55,394.89 260.80,394.87 261.05,394.85 261.30,394.83 261.55,394.81 261.80,394.79 262.05,394.77 262.30,394.74 262.55,394.70 262.80,394.65 263.05,394.57 263.30,394.44 263.55,394.24 263.80,393.94 264.05,393.51 264.30,392.95 264.55,392.26 264.80,391.49 265.05,390.72 265.30,390.06 265.55,389.60 265.80,389.42 266.05,389.55 266.30,389.96 266.55,390.57 266.80,391.29 267.05,392.01 267.30,392.65 267.55,393.16 267.80,393.54 268.05,393.80 268.30,393.95 268.55,394.03 268.80,394.06 269.05,394.07 269.30,394.06 269.55,394.04 269.80,394.02 270.05,393.99 270.30,393.97 270.55,393.94 270.80,393.92 271.05,393.89 271.30,393.87 271.55,393.84 271.80,393.82 272.05,393.79 272.30,393.77 272.55,393.74 272.80,393.72 273.05,393.69 273.30,393.67 273.55,393.64 273.80,393.62 274.05,393.59 274.30,393.57 274.55,393.54 274.80,393.52 275.05,393.50 275.30,393.47 275.55,393.45 275.80,393.42 276.05,393.40 276.30,393.38 276.55,393.36 276.80,393.33 277.05,393.31 277.30,393.29 277.55,393.27 277.80,393.25 278.05,393.22 278.30,393.18 278.55,393.14 278.80,393.07 279.05,392.98 279.30,392.86 279.55,392.71 279.80,392.53 280.05,392.34 280.30,392.15 280.55,391.99 280.80,391.88 281.05,391.85 281.30,391.88 281.55,391.99 281.80,392.14 282.05,392.30 282.30,392.47 282.55,392.61 282.80,392.73 283.05,392.81 283.30,392.86 283.55,392.89 283.80,392.91 284.05,392.91 284.30,392.91 284.55,392.91 284.80,392.90 285.05,392.90 285.30,392.89 285.55,392.89 285.80,392.88 286.05,392.88 286.30,392.87 286.55,392.87 286.80,392.86 287.05,392.86 287.30,392.85 287.55,392.85 287.80,392.84 288.05,392.84 288.30,392.83 288.55,392.83 288.80,392.82 289.05,392.82 289.30,392.81 289.55,392.81 289.80,392.80 290.05,392.80 290.30,392.79 290.55,392.79 290.80,392.79 291.05,392.79 291.30,392.79 291.55,392.78 291.80,392.78 292.05,392.79 292.30,392.79 292.55,392.79 292.80,392.79 293.05,392.80 293.30,392.80 293.55,392.80 293.80,392.81 294.05,392.82 294.30,392.82 294.55,392.83 294.80,392.84 295.05,392.85 295.30,392.86 295.55,392.87 295.80,392.88 296.05,392.89 296.30,392.91 296.55,392.92 296.80,392.93 297.05,392.95 297.30,392.96 297.55,392.98 297.80,393.00 298.05,393.01 298.30,393.03 298.55,393.05 298.80,393.07 299.05,393.09 299.30,393.11 299.55,393.14 299.80,393.16 300.05,393.18 300.30,393.20 300.55,393.23 300.80,393.25 301.05,393.28 301.30,393.30 301.55,393.32 301.80,393.35 302.05,393.37 302.30,393.40 302.55,393.42 302.80,393.44 303.05,393.47 303.30,393.49 303.55,393.51 303.80,393.54 304.05,393.56 304.30,393.59 304.55,393.61 304.80,393.63 305.05,393.66 305.30,393.68 305.55,393.70 305.80,393.73 306.05,393.75 306.30,393.78 306.55,393.80 306.80,393.82 307.05,393.85 307.30,393.87 307.55,393.90 307.80,393.92 308.05,393.94 308.30,393.97 308.55,393.99 308.80,394.01 309.05,394.04 309.30,394.06 309.55,394.09 309.80,394.11 310.05,394.13 310.30,394.16 310.55,394.18 310.80,394.20 311.05,394.23 311.30,394.25 311.55,394.28 311.80,394.30 312.05,394.32 312.30,394.35 312.55,394.37 312.80,394.40 313.05,394.42 313.30,394.44 313.55,394.47 313.80,394.49 314.05,394.51 314.30,394.54 314.55,394.56 314.80,394.59 315.05,394.61 315.30,394.63 315.55,394.66 315.80,394.68 316.05,394.70 316.30,394.73 316.55,394.75 316.80,394.77 317.05,394.80 317.30,394.82 317.55,394.85 317.80,394.87 318.05,394.89 318.30,394.92 318.55,394.94 318.80,394.96 319.05,394.99 319.30,395.01 319.55,395.04 319.80,395.06 320.05,395.08 320.30,395.11 320.55,395.13 320.80,395.15 321.05,395.18 321.30,395.20 321.55,395.22 321.80,395.25 322.05,395.27 322.30,395.29 322.55,395.32 322.80,395.34 323.05,395.37 323.30,395.39 323.55,395.41 323.80,395.44 324.05,395.46 324.30,395.48 324.55,395.51 324.80,395.53 325.05,395.55 325.30,395.58 325.55,395.60 325.80,395.63 326.05,395.65 326.30,395.67 326.55,395.70 326.80,395.72 327.05,395.74 327.30,395.77 327.55,395.79 327.80,395.81 328.05,395.84 328.30,395.86 328.55,395.89 328.80,395.91 329.05,395.93 329.30,395.96 329.55,395.98 329.80,396.00 330.05,396.03 330.30,396.05 330.55,396.07 330.80,396.10 331.05,396.12 331.30,396.14 331.55,396.16 331.80,396.19 332.05,396.21 332.30,396.23 332.55,396.26 332.80,396.28 333.05,396.30 333.30,396.32 333.55,396.35 333.80,396.37 334.05,396.39 334.30,396.41 334.55,396.43 334.80,396.46 335.05,396.48 335.30,396.50 335.55,396.52 335.80,396.54 336.05,396.57 336.30,396.59 336.55,396.61 336.80,396.63 337.05,396.65 337.30,396.67 337.55,396.69 337.80,396.72 338.05,396.74 338.30,396.76 338.55,396.78 338.80,396.80 339.05,396.82 339.30,396.84 339.55,396.86 339.80,396.88 340.05,396.90 340.30,396.93 340.55,396.95 340.80,396.97 341.05,396.99 341.30,397.01 341.55,397.03 341.80,397.05 342.05,397.07 342.30,397.09 342.55,397.11 342.80,397.13 343.05,397.15 343.30,397.17 343.55,397.20 343.80,397.22 344.05,397.24 344.30,397.26 344.55,397.28 344.80,397.30 345.05,397.32 345.30,397.34 345.55,397.36 345.80,397.38 346.05,397.40 346.30,397.42 346.55,397.45 346.80,397.47 347.05,397.49 347.30,397.51 347.55,397.53 347.80,397.55 348.05,397.57 348.30,397.59 348.55,397.60 348.80,397.62 349.05,397.64 349.30,397.66 349.55,397.67 349.80,397.69 350.05,397.70 350.30,397.72 350.55,397.74 350.80,397.75 351.05,397.76 351.30,397.78 351.55,397.79 351.80,397.80 352.05,397.82 352.30,397.83 352.55,397.84 352.80,397.85 353.05,397.86 353.30,397.87 353.55,397.88 353.80,397.89 354.05,397.90 354.30,397.91 354.55,397.92 354.80,397.93 355.05,397.94 355.30,397.94 355.55,397.95 355.80,397.96 356.05,397.96 356.30,397.97 356.55,397.97 356.80,397.98 357.05,397.98 357.30,397.99 357.55,397.99 357.80,398.00 358.05,398.00 358.30,398.00 358.55,398.01 358.80,398.01 359.05,398.02 359.30,398.02 359.55,398.03 359.80,398.03 360.05,398.03 360.30,398.04 360.55,398.04 360.80,398.05 361.05,398.05 361.30,398.05 361.55,398.06 361.80,398.06 362.05,398.07 362.30,398.07 362.55,398.08 362.80,398.08 363.05,398.08 363.30,398.09 363.55,398.09 363.80,398.10 364.05,398.10 364.30,398.10 364.55,398.11 364.80,398.11 365.05,398.12 365.30,398.12 365.55,398.13 365.80,398.13 366.05,398.13 366.30,398.14 366.55,398.14 366.80,398.14 367.05,398.15 367.30,398.15 367.55,398.15 367.80,398.15 368.05,398.16 368.30,398.16 368.55,398.16 368.80,398.16 369.05,398.16 369.30,398.16 369.55,398.17 369.80,398.17 370.05,398.17 370.30,398.17 370.55,398.17 370.80,398.17 371.05,398.17 371.30,398.17 371.55,398.17 371.80,398.17 372.05,398.17 372.30,398.17 372.55,398.17 372.80,398.17 373.05,398.17 373.30,398.17 373.55,398.17 373.80,398.17 374.05,398.17 374.30,398.16 374.55,398.16 374.80,398.16 375.05,398.16 375.30,398.16 375.55,398.16 375.80,398.15 376.05,398.15 376.30,398.15 376.55,398.15 376.80,398.15 377.05,398.14 377.30,398.14 377.55,398.14 377.80,398.14 378.05,398.14 378.30,398.13 378.55,398.13 378.80,398.13 379.05,398.13 379.30,398.13 379.55,398.12 379.80,398.12 380.05,398.12 380.30,398.12 380.55,398.12 380.80,398.11 381.05,398.11 381.30,398.11 381.55,398.11 381.80,398.11 382.05,398.10 382.30,398.10 382.55,398.10 382.80,398.10 383.05,398.10 383.30,398.09 383.55,398.09 383.80,398.09 384.05,398.09 384.30,398.09 384.55,398.08 384.80,398.08 385.05,398.08 385.30,398.08 385.55,398.08 385.80,398.07 386.05,398.07 386.30,398.07 386.55,398.07 386.80,398.07 387.05,398.06 387.30,398.06 387.55,398.06 387.80,398.06 388.05,398.06 388.30,398.05 388.55,398.05 388.80,398.05 389.05,398.05 389.30,398.05 389.55,398.04 389.80,398.04 390.05,398.04 390.30,398.04 390.55,398.04 390.80,398.03 391.05,398.03 391.30,398.03 391.55,398.03 391.80,398.03 392.05,398.03 392.30,398.02 392.55,398.02 392.80,398.02 393.05,398.02 393.30,398.02 393.55,398.02 393.80,398.02 394.05,398.02 394.30,398.01 394.55,398.01" fill="none" stroke="#2b2bff" stroke-width="1.0" stroke-linejoin="round" stroke-dasharray="1.4 1.1"/>
<path d="M138.50 313.30L138.50 312.05M138.50 313.30L137.42 313.92M138.50 313.30L139.58 313.92M138.50 313.30L139.53 312.71M138.50 313.30L137.47 312.71M138.50 313.30L138.50 314.49" stroke="#222" stroke-width="0.53" stroke-linecap="round" fill="none"/>
<path d="M144.00 313.30L144.00 312.05M144.00 313.30L142.92 313.92M144.00 313.30L145.08 313.92M144.00 313.30L145.03 312.71M144.00 313.30L142.97 312.71M144.00 313.30L144.00 314.49" stroke="#222" stroke-width="0.53" stroke-linecap="round" fill="none"/>
<path d="M149.50 257.60L149.50 256.35M149.50 257.60L148.42 258.22M149.50 257.60L150.58 258.22M149.50 257.60L150.53 257.01M149.50 257.60L148.47 257.01M149.50 257.60L149.50 258.79" stroke="#222" stroke-width="0.53" stroke-linecap="round" fill="none"/>
<path d="M173.30 305.20L173.30 303.95M173.30 305.20L172.22 305.82M173.30 305.20L174.38 305.82M173.30 305.20L174.33 304.61M173.30 305.20L172.27 304.61M173.30 305.20L173.30 306.39" stroke="#222" stroke-width="0.53" stroke-linecap="round" fill="none"/>
<path d="M177.00 284.20L177.00 282.95M177.00 284.20L175.92 284.82M177.00 284.20L178.08 284.82M177.00 284.20L178.03 283.61M177.00 284.20L175.97 283.61M177.00 284.20L177.00 285.39" stroke="#222" stroke-width="0.53" stroke-linecap="round" fill="none"/>
<path d="M139.40 340.20L139.40 338.95M139.40 340.20L138.32 340.82M139.40 340.20L140.48 340.82M139.40 340.20L140.43 339.61M139.40 340.20L138.37 339.61M139.40 340.20L139.40 341.39" stroke="#222" stroke-width="0.53" stroke-linecap="round" fill="none"/>
<path d="M145.00 340.20L145.00 338.95M145.00 340.20L143.92 340.82M145.00 340.20L146.08 340.82M145.00 340.20L146.03 339.61M145.00 340.20L143.97 339.61M145.00 340.20L145.00 341.39" stroke="#222" stroke-width="0.53" stroke-linecap="round" fill="none"/>
<path d="M153.00 330.70L153.00 329.45M153.00 330.70L151.92 331.32M153.00 330.70L154.08 331.32M153.00 330.70L154.03 330.11M153.00 330.70L151.97 330.11M153.00 330.70L153.00 331.89" stroke="#222" stroke-width="0.53" stroke-linecap="round" fill="none"/>
<path d="M173.50 337.00L173.50 335.75M173.50 337.00L172.42 337.62M173.50 337.00L174.58 337.62M173.50 337.00L174.53 336.41M173.50 337.00L172.47 336.41M173.50 337.00L173.50 338.19" stroke="#222" stroke-width="0.53" stroke-linecap="round" fill="none"/>
<path d="M177.20 329.40L177.20 328.15M177.20 329.40L176.12 330.02M177.20 329.40L178.28 330.02M177.20 329.40L178.23 328.81M177.20 329.40L176.17 328.81M177.20 329.40L177.20 330.59" stroke="#222" stroke-width="0.53" stroke-linecap="round" fill="none"/>
<line x1="541.30" y1="481.50" x2="541.30" y2="641.70" stroke="#000" stroke-width="1.2" />
<line x1="540.70" y1="641.10" x2="682.00" y2="641.10" stroke="#000" stroke-width="1.2" />
<line x1="538.30" y1="641.10" x2="541.30" y2="641.10" stroke="#000" stroke-width="1.1" />
<text x="537.0" y="644.1" font-size="8.4" text-anchor="end" fill="#111" >2</text>
<line x1="538.30" y1="601.40" x2="541.30" y2="601.40" stroke="#000" stroke-width="1.1" />
<text x="537.0" y="604.4" font-size="8.4" text-anchor="end" fill="#111" >4</text>
<line x1="538.30" y1="561.70" x2="541.30" y2="561.70" stroke="#000" stroke-width="1.1" />
<text x="537.0" y="564.7" font-size="8.4" text-anchor="end" fill="#111" >6</text>
<line x1="538.30" y1="522.00" x2="541.30" y2="522.00" stroke="#000" stroke-width="1.1" />
<text x="537.0" y="525.0" font-size="8.4" text-anchor="end" fill="#111" >8</text>
<line x1="538.30" y1="482.30" x2="541.30" y2="482.30" stroke="#000" stroke-width="1.1" />
<text x="537.0" y="485.3" font-size="8.4" text-anchor="end" fill="#111" >10</text>
<line x1="541.30" y1="641.10" x2="541.30" y2="644.20" stroke="#000" stroke-width="1.1" />
<text x="541.3" y="652.5" font-size="8.4" text-anchor="middle" fill="#111" >0</text>
<line x1="588.10" y1="641.10" x2="588.10" y2="644.20" stroke="#000" stroke-width="1.1" />
<text x="588.1" y="652.5" font-size="8.4" text-anchor="middle" fill="#111" >2</text>
<line x1="634.90" y1="641.10" x2="634.90" y2="644.20" stroke="#000" stroke-width="1.1" />
<text x="634.9" y="652.5" font-size="8.4" text-anchor="middle" fill="#111" >4</text>
<line x1="681.70" y1="641.10" x2="681.70" y2="644.20" stroke="#000" stroke-width="1.1" />
<text x="681.7" y="652.5" font-size="8.4" text-anchor="middle" fill="#111" >6</text>
<text x="611.8" y="666.8" font-size="10" text-anchor="middle" fill="#111" >Time (h)</text>
<text transform="translate(513.0,556.8) rotate(-90)" font-size="9.9" text-anchor="middle" fill="#111">Log<tspan font-size="6.8" dy="2.4">10</tspan><tspan dy="-2.4"> CFU ml</tspan><tspan font-size="6.8" dy="-3.6">-1</tspan></text>
<path d="M541.30 515.05 L588.10 524.98 L634.90 539.87 L681.70 548.80" fill="none" stroke="#9b2fc4" stroke-width="1.25" stroke-dasharray="3 2"/>
<path d="M541.30 518.03 L588.10 581.55 L634.90 594.45 L681.70 603.38" fill="none" stroke="#2a9fb3" stroke-width="1.25" stroke-dasharray="3 2"/>
<path d="M541.30 519.02 L588.10 624.23 L634.90 635.14 L681.70 641.10" fill="none" stroke="#2323e6" stroke-width="1.25" stroke-dasharray="3 2"/>
<line x1="541.30" y1="512.08" x2="541.30" y2="518.03" stroke="#9b2fc4" stroke-width="1.3" />
<line x1="538.50" y1="512.08" x2="544.10" y2="512.08" stroke="#9b2fc4" stroke-width="1.3" />
<line x1="538.50" y1="518.03" x2="544.10" y2="518.03" stroke="#9b2fc4" stroke-width="1.3" />
<line x1="588.10" y1="519.02" x2="588.10" y2="529.94" stroke="#9b2fc4" stroke-width="1.3" />
<line x1="585.30" y1="519.02" x2="590.90" y2="519.02" stroke="#9b2fc4" stroke-width="1.3" />
<line x1="585.30" y1="529.94" x2="590.90" y2="529.94" stroke="#9b2fc4" stroke-width="1.3" />
<line x1="634.90" y1="532.92" x2="634.90" y2="545.82" stroke="#9b2fc4" stroke-width="1.3" />
<line x1="632.10" y1="532.92" x2="637.70" y2="532.92" stroke="#9b2fc4" stroke-width="1.3" />
<line x1="632.10" y1="545.82" x2="637.70" y2="545.82" stroke="#9b2fc4" stroke-width="1.3" />
<line x1="681.70" y1="542.84" x2="681.70" y2="553.76" stroke="#9b2fc4" stroke-width="1.3" />
<line x1="678.90" y1="542.84" x2="684.50" y2="542.84" stroke="#9b2fc4" stroke-width="1.3" />
<line x1="678.90" y1="553.76" x2="684.50" y2="553.76" stroke="#9b2fc4" stroke-width="1.3" />
<line x1="588.10" y1="559.72" x2="588.10" y2="601.40" stroke="#2a9fb3" stroke-width="1.3" />
<line x1="585.30" y1="559.72" x2="590.90" y2="559.72" stroke="#2a9fb3" stroke-width="1.3" />
<line x1="585.30" y1="601.40" x2="590.90" y2="601.40" stroke="#2a9fb3" stroke-width="1.3" />
<line x1="634.90" y1="574.60" x2="634.90" y2="612.32" stroke="#2a9fb3" stroke-width="1.3" />
<line x1="632.10" y1="574.60" x2="637.70" y2="574.60" stroke="#2a9fb3" stroke-width="1.3" />
<line x1="632.10" y1="612.32" x2="637.70" y2="612.32" stroke="#2a9fb3" stroke-width="1.3" />
<line x1="681.70" y1="588.50" x2="681.70" y2="617.28" stroke="#2a9fb3" stroke-width="1.3" />
<line x1="678.90" y1="588.50" x2="684.50" y2="588.50" stroke="#2a9fb3" stroke-width="1.3" />
<line x1="678.90" y1="617.28" x2="684.50" y2="617.28" stroke="#2a9fb3" stroke-width="1.3" />
<line x1="588.10" y1="594.45" x2="588.10" y2="641.10" stroke="#2323e6" stroke-width="1.3" />
<line x1="585.30" y1="594.45" x2="590.90" y2="594.45" stroke="#2323e6" stroke-width="1.3" />
<line x1="634.90" y1="622.24" x2="634.90" y2="641.10" stroke="#2323e6" stroke-width="1.3" />
<line x1="632.10" y1="622.24" x2="637.70" y2="622.24" stroke="#2323e6" stroke-width="1.3" />
<rect x="538.50" y="512.25" width="5.60" height="5.60" fill="#fff" stroke="#9b2fc4" stroke-width="1.2"/>
<rect x="585.30" y="522.18" width="5.60" height="5.60" fill="#fff" stroke="#9b2fc4" stroke-width="1.2"/>
<rect x="632.10" y="537.07" width="5.60" height="5.60" fill="#fff" stroke="#9b2fc4" stroke-width="1.2"/>
<rect x="678.90" y="546.00" width="5.60" height="5.60" fill="#fff" stroke="#9b2fc4" stroke-width="1.2"/>
<path d="M538.10 515.63L544.50 515.63L541.30 521.23Z" fill="#fff" stroke="#2a9fb3" stroke-width="1.2"/>
<path d="M584.90 579.15L591.30 579.15L588.10 584.75Z" fill="#fff" stroke="#2a9fb3" stroke-width="1.2"/>
<path d="M631.70 592.05L638.10 592.05L634.90 597.65Z" fill="#fff" stroke="#2a9fb3" stroke-width="1.2"/>
<path d="M678.50 600.99L684.90 600.99L681.70 606.59Z" fill="#fff" stroke="#2a9fb3" stroke-width="1.2"/>
<circle cx="541.30" cy="519.02" r="2.9" fill="#fff" stroke="#2323e6" stroke-width="1.2"/>
<circle cx="588.10" cy="624.23" r="2.9" fill="#fff" stroke="#2323e6" stroke-width="1.2"/>
<circle cx="634.90" cy="635.14" r="2.9" fill="#fff" stroke="#2323e6" stroke-width="1.2"/>
<path d="M635.00 569.80L635.00 568.50M635.00 569.80L633.87 570.45M635.00 569.80L636.13 570.45M635.00 569.80L636.07 569.18M635.00 569.80L633.93 569.18M635.00 569.80L635.00 571.03" stroke="#222" stroke-width="0.55" stroke-linecap="round" fill="none"/>
<path d="M635.00 617.30L635.00 616.00M635.00 617.30L633.87 617.95M635.00 617.30L636.13 617.95M635.00 617.30L636.07 616.68M635.00 617.30L633.93 616.68M635.00 617.30L635.00 618.53" stroke="#222" stroke-width="0.55" stroke-linecap="round" fill="none"/>
<path d="M681.60 582.40L681.60 581.10M681.60 582.40L680.47 583.05M681.60 582.40L682.73 583.05M681.60 582.40L682.67 581.78M681.60 582.40L680.53 581.78M681.60 582.40L681.60 583.63" stroke="#222" stroke-width="0.55" stroke-linecap="round" fill="none"/>
<line x1="566.4" y1="466.3" x2="589.4" y2="466.3" stroke="#2323e6" stroke-width="1.25" stroke-dasharray="3 2"/>
<circle cx="577.90" cy="466.30" r="2.4" fill="#fff" stroke="#2323e6" stroke-width="1.2"/>
<text x="596.5" y="469.3" font-size="8.3" text-anchor="start" fill="#111" >TSB</text>
<line x1="566.4" y1="479.6" x2="589.4" y2="479.6" stroke="#9b2fc4" stroke-width="1.25" stroke-dasharray="3 2"/>
<rect x="575.50" y="477.20" width="4.80" height="4.80" fill="#fff" stroke="#9b2fc4" stroke-width="1.2"/>
<text x="596.5" y="482.6" font-size="8.3" text-anchor="start" fill="#111" >Serum</text>
<line x1="566.4" y1="493.3" x2="589.4" y2="493.3" stroke="#2a9fb3" stroke-width="1.25" stroke-dasharray="3 2"/>
<path d="M575.30 491.35L580.50 491.35L577.90 495.90Z" fill="#fff" stroke="#2a9fb3" stroke-width="1.2"/>
<text x="596.5" y="496.3" font-size="8.3" text-anchor="start" fill="#111" >Serum + fosfomycin</text>
</svg>
</body></html>
